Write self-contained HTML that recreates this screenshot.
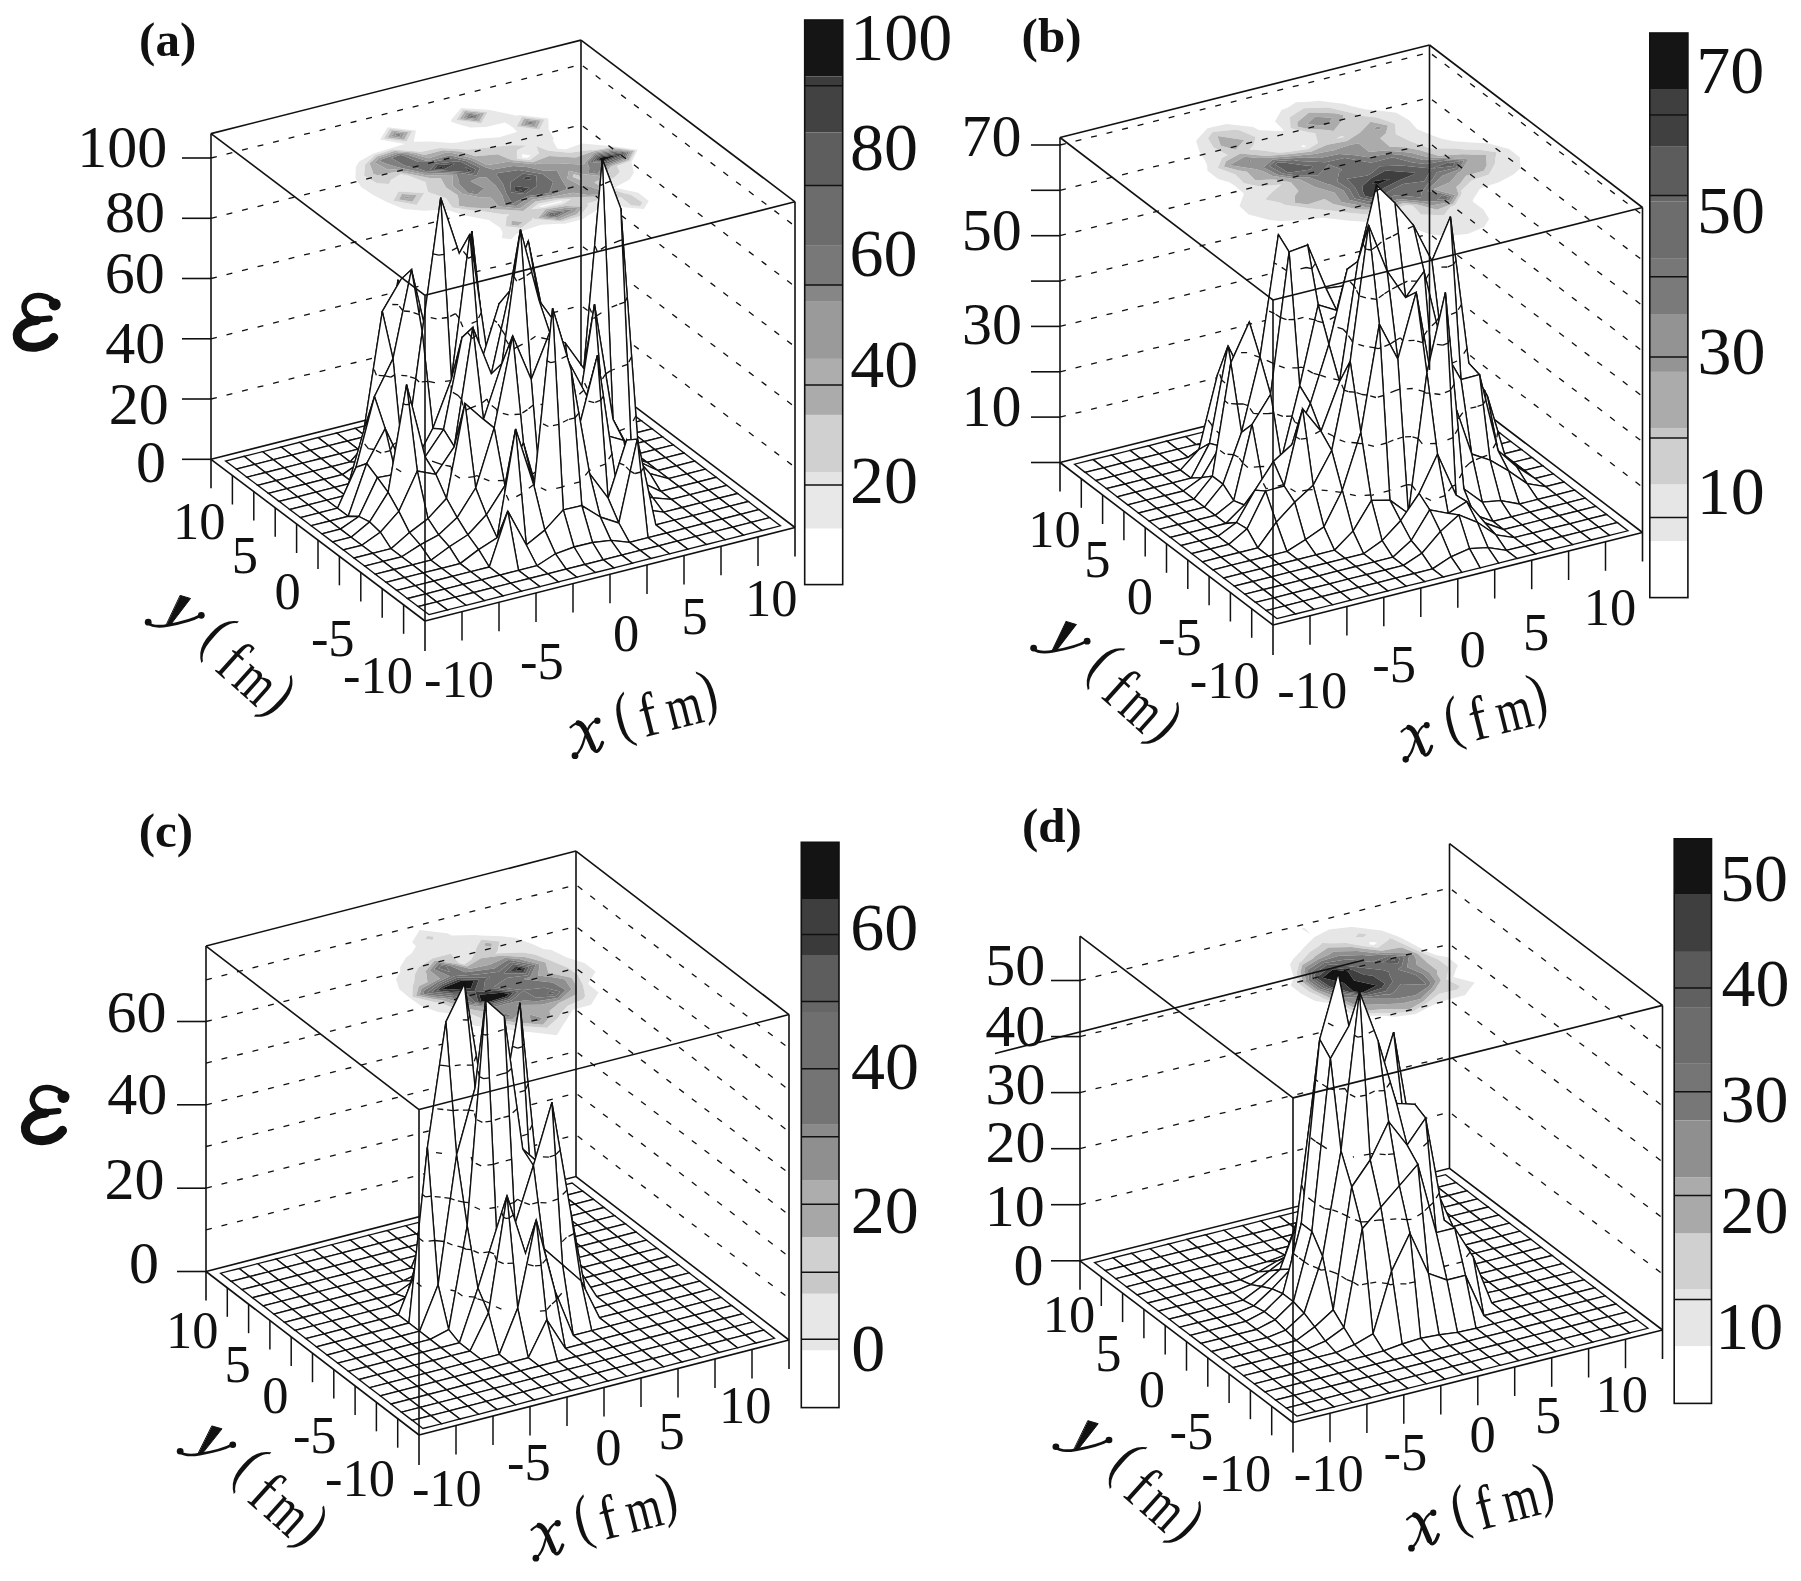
<!DOCTYPE html>
<html><head><meta charset="utf-8"><style>
html,body{margin:0;padding:0;background:#fff;}
svg{display:block;}
text{font-family:"Liberation Serif",serif;fill:#111;}
</style></head><body>
<svg width="1801" height="1581" viewBox="0 0 1801 1581">
<rect width="1801" height="1581" fill="#fff"/>
<!-- panel a -->
<g>
<rect x="804.7" y="20" width="38" height="56.4" fill="#151515"/>
<rect x="804.7" y="76.4" width="38" height="9.3" fill="#3c3c3c"/>
<rect x="804.7" y="85.7" width="38" height="46.7" fill="#424242"/>
<rect x="804.7" y="132.4" width="38" height="53" fill="#5e5e5e"/>
<rect x="804.7" y="185.4" width="38" height="60.4" fill="#6c6c6c"/>
<rect x="804.7" y="245.8" width="38" height="39.2" fill="#787878"/>
<rect x="804.7" y="285" width="38" height="16.8" fill="#868686"/>
<rect x="804.7" y="301.8" width="38" height="57.1" fill="#9a9a9a"/>
<rect x="804.7" y="358.9" width="38" height="26.1" fill="#adadad"/>
<rect x="804.7" y="385" width="38" height="29.9" fill="#ababab"/>
<rect x="804.7" y="414.9" width="38" height="57.1" fill="#d0d0d0"/>
<rect x="804.7" y="472" width="38" height="13" fill="#e4e4e4"/>
<rect x="804.7" y="485" width="38" height="43.7" fill="#e8e8e8"/>
<rect x="804.7" y="528.7" width="38" height="55.9" fill="#ffffff"/>
<line x1="804.7" y1="85.7" x2="842.7" y2="85.7" stroke="#111" stroke-width="1.5"/>
<line x1="804.7" y1="185.4" x2="842.7" y2="185.4" stroke="#111" stroke-width="1.5"/>
<line x1="804.7" y1="285" x2="842.7" y2="285" stroke="#111" stroke-width="1.5"/>
<line x1="804.7" y1="385" x2="842.7" y2="385" stroke="#111" stroke-width="1.5"/>
<line x1="804.7" y1="485" x2="842.7" y2="485" stroke="#111" stroke-width="1.5"/>
<rect x="804.7" y="20" width="38" height="564.6" fill="none" stroke="#111" stroke-width="1.6"/>
</g>
<g stroke="none">
<path fill="#e8e8e8" fill-rule="evenodd" d="M511.3 239.3L515.9 234.6L524.1 230.3L541.4 224.7L558.5 223.8L564.8 223.7L583.2 218.9L586 216.8L596.5 210.4L604.1 201.5L607.6 200.1L610.3 199.9L624.2 207.2L643.9 208.9L648.8 201L638.3 192.8L616.4 188.1L615.6 187.8L615.3 187.2L629.7 179.5L633.9 172.4L631.4 162.2L631.5 162.2L637.8 149.8L610.2 146L610 146L582 143.4L565.2 149.4L557.1 148.6L552.7 140L553.8 138.7L548.6 129.2L548.3 118.5L519.7 115L516.8 115.7L493.4 110.8L488 109.7L461.2 108.1L451.4 119.4L450.9 121.5L457.5 124L470.4 127.4L486.1 126.9L504.8 122.4L513 127.4L517.2 131.8L499.8 137.3L477.2 138.8L457.5 142.6L451.3 143L431.4 141.6L413.8 141.7L415.9 130.4L387.7 127.2L380.1 139.4L404.8 144L390.8 148.2L373.3 153.6L359.2 161.6L355.8 167.1L355.5 177.5L355.1 178.1L361.4 187.3L373.2 195.1L387.3 202.3L389.2 203L403.9 208.9L424.3 210.8L444.3 209.5L448.3 210.3L464 215.3L484.7 219.2L488.7 219.9L500.3 227.7L502.6 232.7L501.7 238.1ZM631.4 205.4L621 197.2L605.2 198.2L587.4 203.5L588.3 205.5L579.5 216.2L561.8 221.5L534.8 219L532.1 217.7L532.2 219.7L521.1 228L505.7 226.3L506.4 216.9L509.4 214.6L502.9 214.2L480.7 211.1L473.6 210.8L452.4 207.4L446.1 198.3L428 192L425.4 181.9L408 175.5L400.5 174.2L390.8 179.9L389 184.1L377.1 183.3L364.1 175.8L365 166L364.6 164.9L375.2 155.1L392.6 149.6L418.2 151.4L420.4 151.9L439.8 147.9L466.7 149.6L468.4 149.5L488.6 147.5L510.2 145.2L526.5 145.6L516.9 150.2L516.9 158.8L529.9 160L539.1 153.2L536.4 146.3L548.7 150.8L569.7 152.8L590.6 150L593.4 150.2L611.5 147.1L635.6 150.4L630.1 161.1L616.9 165.9L619.8 172L614.7 177.2L606.6 180.7L611.2 188.9L623.1 193.1L630.7 194.8L642.5 202.6L640.3 206.1ZM393.4 200.8L398.6 191.4L424.2 193L416.6 205ZM522.1 157.5L522.1 154.2L530.7 155.3L527.1 158ZM516.6 126.5L521.9 116.7L544.5 119.4L539.2 129.8ZM383.8 138.5L389.8 128.8L412.1 131.3L406.5 141.4ZM456.4 120.1L463.1 109.5L487.5 112.3L481.2 123.3ZM544 208L563.5 204.1L571.1 199L557.7 199.7L538.3 203.7L531.1 209.2ZM539.2 207.1L541 205.7L559.7 201.2L563.1 201.1L561.2 202.3L542.4 206.8Z"/>
<path fill="#d0d0d0" fill-rule="evenodd" d="M640.3 206.1L642.5 202.6L630.7 194.8L623.1 193.1L611.2 188.9L606.6 180.7L614.7 177.2L619.8 172L616.9 165.9L630.1 161.1L635.6 150.4L611.5 147.1L593.4 150.2L590.6 150L569.7 152.8L548.7 150.8L536.4 146.3L539.1 153.2L529.9 160L516.9 158.8L516.9 150.2L526.5 145.6L510.2 145.2L488.6 147.5L468.4 149.5L466.7 149.6L439.8 147.9L420.4 151.9L418.2 151.4L392.6 149.6L375.2 155.1L364.6 164.9L365 166L364.1 175.8L377.1 183.3L389 184.1L390.8 179.9L400.5 174.2L408 175.5L425.4 181.9L428 192L446.1 198.3L452.4 207.4L473.6 210.8L480.7 211.1L502.9 214.2L509.4 214.6L506.4 216.9L505.7 226.3L521.1 228L532.2 219.7L532.1 217.7L534.8 219L561.8 221.5L579.5 216.2L588.3 205.5L587.4 203.5L605.2 198.2L621 197.2L631.4 205.4ZM511.3 224.9L511.6 220.8L522.9 222L518 225.7ZM538.1 218.2L545.6 209.2L565.8 205.9L583 206.8L576.9 214.2L560.1 220.2ZM531.1 209.2L538.3 203.7L557.7 199.7L571.1 199L563.5 204.1L544 208ZM579.1 197L578.7 196.9L555.7 198.2L535.5 201.6L523.2 210.9L496.2 209.2L491.1 208.5L469.3 207.5L458.8 205.8L458.6 199.5L457.7 195.3L446.1 187.5L440.7 178L430.6 178.3L412.4 174.4L397.2 171.7L377.3 175.3L372.7 173.6L372.9 172L369.6 163.6L377.2 156.6L394.5 151L414.3 152.4L424.6 155.1L443 150.3L460.4 151.5L475.5 156.2L489.8 154.9L497.6 154.3L511.6 160.1L532.7 162.2L549.1 155.9L566.4 157.1L575.8 157.4L592.8 151.6L612.9 148.1L633.4 150.9L628.7 160.1L612 166.1L609.5 167.8L602.9 177.9L594.3 182.4L606.8 190L602.7 196.4ZM581.3 180.2L578.9 175.5L573.4 174.2L572.8 177ZM416.6 205L424.2 193L398.6 191.4L393.4 200.8ZM399 199.4L402 193.9L416.8 194.9L412.4 201.8ZM539.2 129.8L544.5 119.4L521.9 116.7L516.6 126.5ZM520.3 125.6L524.2 118.4L540.7 120.4L536.8 128ZM406.5 141.4L412.1 131.3L389.8 128.8L383.8 138.5ZM387.6 137.5L392 130.5L408.3 132.3L404.2 139.7ZM481.2 123.3L487.5 112.3L463.1 109.5L456.4 120.1ZM459.7 119.3L465 111L484.2 113.1L479.2 121.8Z"/>
<path fill="#acacac" fill-rule="evenodd" d="M518 225.7L522.9 222L511.6 220.8L511.3 224.9ZM560.1 220.2L576.9 214.2L583 206.8L565.8 205.9L545.6 209.2L538.1 218.2ZM541.3 217.3L547.2 210.4L568.1 207.6L577.8 208.1L574.4 212.3L558.4 218.9ZM602.7 196.4L606.8 190L594.3 182.4L602.9 177.9L609.5 167.8L612 166.1L628.7 160.1L633.4 150.9L612.9 148.1L592.8 151.6L575.8 157.4L566.4 157.1L549.1 155.9L532.7 162.2L511.6 160.1L497.6 154.3L489.8 154.9L475.5 156.2L460.4 151.5L443 150.3L424.6 155.1L414.3 152.4L394.5 151L377.2 156.6L369.6 163.6L372.9 172L372.7 173.6L377.3 175.3L397.2 171.7L412.4 174.4L430.6 178.3L440.7 178L446.1 187.5L457.7 195.3L458.6 199.5L458.8 205.8L469.3 207.5L491.1 208.5L496.2 209.2L523.2 210.9L535.5 201.6L555.7 198.2L578.7 196.9L579.1 197ZM587.5 194.9L573.2 192.7L553.7 196.6L532.8 199.5L519.9 208.4L498.7 206.6L490.9 197.7L480.9 197.6L462.6 194.1L452.5 185.8L452.4 176.1L452 175.2L451.1 175.1L426.9 175.5L416.7 173.3L394 169.2L388 169.8L374.5 162.4L379.2 158.1L396.3 152.3L410.4 153.3L428.8 158.2L446.1 152.6L453.8 153.2L474.5 158.7L487.2 165.1L497.7 163.6L507.4 161.7L535.4 164.2L541.9 163.3L558.9 163.3L580.1 164.4L584.7 164.1L584.3 163.3L594 152.5L614.3 149.2L631.2 151.5L627.3 159L610.7 165.2L604.8 169L600.3 175.9L583.8 174.3L568.9 170.8L567.3 178.4L581 185.8L589.4 186.3L602.5 191.1L600.3 194.6ZM572.8 177L573.4 174.2L578.9 175.5L581.3 180.2ZM412.4 201.8L416.8 194.9L402 193.9L399 199.4ZM404.4 198L405.3 196.5L409.5 196.7L408.2 198.7ZM536.8 128L540.7 120.4L524.2 118.4L520.3 125.6ZM523.9 124.7L526.4 120.1L537 121.3L534.5 126.2ZM404.2 139.7L408.3 132.3L392 130.5L387.6 137.5ZM391.3 136.6L394.1 132.1L404.6 133.2L401.9 138ZM479.2 121.8L484.2 113.1L465 111L459.7 119.3ZM462.9 118.5L466.8 112.4L480.9 113.9L477.3 120.3Z"/>
<path fill="#9a9a9a" fill-rule="evenodd" d="M558.4 218.9L574.4 212.3L577.8 208.1L568.1 207.6L547.2 210.4L541.3 217.3ZM544.7 216.5L548.8 211.6L570.5 209.4L572.5 209.5L571.8 210.3L556.7 217.6ZM600.3 194.6L602.5 191.1L589.4 186.3L581 185.8L567.3 178.4L568.9 170.8L583.8 174.3L600.3 175.9L604.8 169L610.7 165.2L627.3 159L631.2 151.5L614.3 149.2L594 152.5L584.3 163.3L584.7 164.1L580.1 164.4L558.9 163.3L541.9 163.3L535.4 164.2L507.4 161.7L497.7 163.6L487.2 165.1L474.5 158.7L453.8 153.2L446.1 152.6L428.8 158.2L410.4 153.3L396.3 152.3L379.2 158.1L374.5 162.4L388 169.8L394 169.2L416.7 173.3L426.9 175.5L451.1 175.1L452 175.2L452.4 176.1L452.5 185.8L462.6 194.1L480.9 197.6L490.9 197.7L498.7 206.6L519.9 208.4L532.8 199.5L553.7 196.6L573.2 192.7L587.5 194.9ZM596 192.7L596.3 191.5L598.1 192.2L597.8 192.7ZM505.2 204.9L502.1 195L502 194.9L495.8 185.7L486.2 177.3L479.1 177.6L470.6 181.3L484.4 188.6L476.9 194.6L467.6 192.8L459.1 184.2L459.1 181.1L456.1 174.1L449.2 173.7L423.2 172.7L421.1 172.2L397.8 167.3L387 164L379.5 161.1L381.2 159.6L398.1 153.8L406.4 154.3L425.2 160.4L431.5 160.3L449.4 155.2L470.1 159.8L484.5 167L492.9 169.4L513.2 166.1L526.8 167.1L544.1 170.7L556.8 170.3L561.7 179.8L566.7 187.8L566 189.5L551.6 195.1L536.9 196.9L530.2 197.6L526.2 199.6L516.5 205.9ZM588.8 173L589.3 167.6L587.1 162.6L595.3 153.5L615.7 150.2L628.9 152.1L625.9 158L609.4 164.2L600 170.2L597.6 173.9ZM408.2 198.7L409.5 196.7L405.3 196.5L404.4 198ZM534.5 126.2L537 121.3L526.4 120.1L523.9 124.7ZM527.6 123.7L528.6 121.8L533.2 122.3L532.1 124.4ZM401.9 138L404.6 133.2L394.1 132.1L391.3 136.6ZM395.1 135.6L396.3 133.7L400.8 134.2L399.6 136.2ZM477.3 120.3L480.9 113.9L466.8 112.4L462.9 118.5ZM466.2 117.7L468.7 113.8L477.6 114.8L475.3 118.8Z"/>
<path fill="#808080" fill-rule="evenodd" d="M556.7 217.6L571.8 210.3L572.5 209.5L570.5 209.4L548.8 211.6L544.7 216.5ZM547.9 215.7L550.3 212.8L564.9 211.4L555 216.3ZM597.8 192.7L598.1 192.2L596.3 191.5L596 192.7ZM516.5 205.9L526.2 199.6L530.2 197.6L536.9 196.9L551.6 195.1L566 189.5L566.7 187.8L561.7 179.8L556.8 170.3L544.1 170.7L526.8 167.1L513.2 166.1L492.9 169.4L484.5 167L470.1 159.8L449.4 155.2L431.5 160.3L425.2 160.4L406.4 154.3L398.1 153.8L381.2 159.6L379.5 161.1L387 164L397.8 167.3L421.1 172.2L423.2 172.7L449.2 173.7L456.1 174.1L459.1 181.1L459.1 184.2L467.6 192.8L476.9 194.6L484.4 188.6L470.6 181.3L479.1 177.6L486.2 177.3L495.8 185.7L502 194.9L502.1 195L505.2 204.9ZM511.7 203.3L511.3 201.9L506.4 193.8L503 183.9L496.5 174.7L497.8 173.1L508.7 171.6L518.6 170.1L542.5 173.9L553.1 182L549.2 193.3L527.9 195.9L514.6 202.5L513.2 203.4ZM472.5 191.6L471.7 190.7L473.5 191.3L473 191.7ZM460.1 173.1L447.3 172.3L425.4 171.1L417.8 168.6L404.5 165.6L391.3 158.1L400 155.1L402.6 155.3L418.5 162.1L433.5 161.8L453.2 158.1L465.8 160.9L480.2 168.1L476.4 175.6ZM597.6 173.9L600 170.2L609.4 164.2L625.9 158L628.9 152.1L615.7 150.2L595.3 153.5L587.1 162.6L589.3 167.6L588.8 173ZM593.7 171.7L593.8 171L595.2 171.4L594.9 171.9ZM589.9 161.9L596.6 154.5L617 151.3L626.8 152.6L624.6 156.9L608.1 163.2ZM532.1 124.4L533.2 122.3L528.6 121.8L527.6 123.7ZM399.6 136.2L400.8 134.2L396.3 133.7L395.1 135.6ZM475.3 118.8L477.6 114.8L468.7 113.8L466.2 117.7ZM469.5 116.8L470.5 115.2L474.4 115.6L473.4 117.3Z"/>
<path fill="#6c6c6c" fill-rule="evenodd" d="M555 216.3L564.9 211.4L550.3 212.8L547.9 215.7ZM551.4 214.8L552 214.1L555.7 213.7L553.2 215ZM513.2 203.4L514.6 202.5L527.9 195.9L549.2 193.3L553.1 182L542.5 173.9L518.6 170.1L508.7 171.6L497.8 173.1L496.5 174.7L503 183.9L506.4 193.8L511.3 201.9L511.7 203.3ZM511.1 192.6L510.4 182.6L511.4 181.8L522.9 173.4L536.2 175.5L536.9 184L536.6 186.2L525.4 194ZM594.9 171.9L595.2 171.4L593.8 171L593.7 171.7ZM473 191.7L473.5 191.3L471.7 190.7L472.5 191.6ZM608.1 163.2L624.6 156.9L626.8 152.6L617 151.3L596.6 154.5L589.9 161.9ZM592.9 161.2L597.9 155.5L618.5 152.4L624.4 153.2L623.1 155.8L606.7 162.1ZM476.4 175.6L480.2 168.1L465.8 160.9L453.2 158.1L433.5 161.8L418.5 162.1L402.6 155.3L400 155.1L391.3 158.1L404.5 165.6L417.8 168.6L425.4 171.1L447.3 172.3L460.1 173.1ZM464.5 172L445.3 170.7L430.1 169.9L435.7 163.5L457.4 161.2L461.2 162.1L475.7 169.2L473.5 173.4ZM473.4 117.3L474.4 115.6L470.5 115.2L469.5 116.8Z"/>
<path fill="#5e5e5e" fill-rule="evenodd" d="M553.2 215L555.7 213.7L552 214.1L551.4 214.8ZM525.4 194L536.6 186.2L536.9 184L536.2 175.5L522.9 173.4L511.4 181.8L510.4 182.6L511.1 192.6ZM515.2 191.6L514.8 186L529.5 188L523.3 192.3ZM523.1 178.8L526.6 176.2L530.7 176.9L530.9 179.5ZM606.7 162.1L623.1 155.8L624.4 153.2L618.5 152.4L597.9 155.5L592.9 161.2ZM595.4 160.5L599.1 156.4L619.8 153.4L622.4 153.7L621.8 154.8L605.5 161.2ZM473.5 173.4L475.7 169.2L461.2 162.1L457.4 161.2L435.7 163.5L430.1 169.9L445.3 170.7L464.5 172ZM468.2 171.1L464.9 166.9L471.7 170.2L471 171.5ZM434.2 168.9L437.6 164.9L454.8 163.7L443.5 169.4Z"/>
<path fill="#424242" fill-rule="evenodd" d="M523.3 192.3L529.5 188L514.8 186L515.2 191.6ZM519.6 190.5L519.5 189.5L522.1 189.9L521 190.6ZM530.9 179.5L530.7 176.9L526.6 176.2L523.1 178.8ZM605.5 161.2L621.8 154.8L622.4 153.7L619.8 153.4L599.1 156.4L595.4 160.5ZM598.2 159.8L600.4 157.4L617.8 154.9L604.2 160.2ZM471 171.5L471.7 170.2L464.9 166.9L468.2 171.1ZM443.5 169.4L454.8 163.7L437.6 164.9L434.2 168.9ZM438.5 167.8L439.7 166.5L445.4 166.1L441.6 168Z"/>
<path fill="#151515" fill-rule="evenodd" d="M521 190.6L522.1 189.9L519.5 189.5L519.6 190.5ZM604.2 160.2L617.8 154.9L600.4 157.4L598.2 159.8ZM441.6 168L445.4 166.1L439.7 166.5L438.5 167.8Z"/>
</g>
<g stroke="#111" stroke-width="1.3" stroke-dasharray="6,10" fill="none">
<polyline points="211,399 581,305.5 795,467.2"/>
<polyline points="211,338.8 581,245.3 795,407"/>
<polyline points="211,278.5 581,185 795,346.7"/>
<polyline points="211,218.3 581,124.8 795,286.5"/>
<polyline points="211,158 581,64.5 795,226.2"/>
</g>
<polyline fill="none" stroke="#111" stroke-width="1.6" points="211,459.3 581,365.8 795,527.5"/>
<g fill="#fff" stroke="#111" stroke-width="1.35" stroke-linejoin="miter">
<polygon points="569.3,384.9 587.8,380.3 577.1,372.2 558.6,376.9"/>
<polygon points="550.8,389.6 569.3,384.9 558.6,376.9 540.1,381.5"/>
<polygon points="580,393 598.5,388.3 587.8,380.3 569.3,384.9"/>
<polygon points="532.3,394.3 550.8,389.6 540.1,381.5 521.6,386.2"/>
<polygon points="561.5,397.7 580,393 569.3,384.9 550.8,389.6"/>
<polygon points="513.8,399 532.3,394.3 521.6,386.2 503.1,390.9"/>
<polygon points="590.7,401.1 609.2,396.4 598.5,388.3 580,393"/>
<polygon points="543,402.4 561.5,397.7 550.8,389.6 532.3,394.3"/>
<polygon points="495.3,403.6 513.8,399 503.1,390.9 484.6,395.6"/>
<polygon points="572.2,405.8 590.7,401.1 580,393 561.5,397.7"/>
<polygon points="524.5,407.1 543,402.4 532.3,394.3 513.8,399"/>
<polygon points="476.8,408.3 495.3,403.6 484.6,395.6 466.1,400.2"/>
<polygon points="601.4,409.2 619.9,404.5 609.2,396.4 590.7,401.1"/>
<polygon points="553.7,410.5 572.2,405.8 561.5,397.7 543,402.4"/>
<polygon points="506,411.7 524.5,407.1 513.8,399 495.3,403.6"/>
<polygon points="458.3,413 476.8,408.3 466.1,400.2 447.6,404.9"/>
<polygon points="582.9,413.9 601.4,409.2 590.7,401.1 572.2,405.8"/>
<polygon points="535.2,415.1 553.7,410.5 543,402.4 524.5,407.1"/>
<polygon points="487.5,416.4 506,411.7 495.3,403.6 476.8,408.3"/>
<polygon points="612.1,417.3 630.6,412.6 619.9,404.5 601.4,409.2"/>
<polygon points="439.8,417.7 458.3,413 447.6,404.9 429.1,409.6"/>
<polygon points="564.4,418.5 582.9,413.9 572.2,405.8 553.7,410.5"/>
<polygon points="516.7,419.8 535.2,415.1 524.5,407.1 506,411.7"/>
<polygon points="469,421.1 487.5,416.4 476.8,408.3 458.3,413"/>
<polygon points="593.6,422 612.1,417.3 601.4,409.2 582.9,413.9"/>
<polygon points="421.3,422.3 439.8,417.7 429.1,409.6 410.6,414.3"/>
<polygon points="545.9,423.2 564.4,418.5 553.7,410.5 535.2,415.1"/>
<polygon points="498.2,424.5 516.7,419.8 506,411.7 487.5,416.4"/>
<polygon points="622.8,425.4 641.3,420.7 630.6,412.6 612.1,417.3"/>
<polygon points="450.5,418.3 469,421.1 458.3,413 439.8,417.7"/>
<polygon points="575.1,426.6 593.6,422 582.9,413.9 564.4,418.5"/>
<polygon points="402.8,427 421.3,422.3 410.6,414.3 392.1,418.9"/>
<polygon points="527.4,427.9 545.9,423.2 535.2,415.1 516.7,419.8"/>
<polygon points="479.7,408.5 498.2,424.5 487.5,416.4 469,421.1"/>
<polygon points="604.3,430 622.8,425.4 612.1,417.3 593.6,422"/>
<polygon points="432,430.4 450.5,418.3 439.8,417.7 421.3,422.3"/>
<polygon points="556.6,431.3 575.1,426.6 564.4,418.5 545.9,423.2"/>
<polygon points="384.3,431.7 402.8,427 392.1,418.9 373.6,423.6"/>
<polygon points="508.9,418.6 527.4,427.9 516.7,419.8 498.2,424.5"/>
<polygon points="633.5,433.5 652,428.8 641.3,420.7 622.8,425.4"/>
<polygon points="461.2,399.7 479.7,408.5 469,421.1 450.5,418.3"/>
<polygon points="585.8,434.7 604.3,430 593.6,422 575.1,426.6"/>
<polygon points="413.5,435.1 432,430.4 421.3,422.3 402.8,427"/>
<polygon points="538.1,417.9 556.6,431.3 545.9,423.2 527.4,427.9"/>
<polygon points="365.8,436.4 384.3,431.7 373.6,423.6 355.1,428.3"/>
<polygon points="490.4,399 508.9,418.6 498.2,424.5 479.7,408.5"/>
<polygon points="615,438.1 633.5,433.5 622.8,425.4 604.3,430"/>
<polygon points="442.7,417.1 461.2,399.7 450.5,418.3 432,430.4"/>
<polygon points="567.3,430.9 585.8,434.7 575.1,426.6 556.6,431.3"/>
<polygon points="395,439.8 413.5,435.1 402.8,427 384.3,431.7"/>
<polygon points="519.6,407.3 538.1,417.9 527.4,427.9 508.9,418.6"/>
<polygon points="347.3,441 365.8,436.4 355.1,428.3 336.6,433"/>
<polygon points="644.2,441.5 662.7,436.9 652,428.8 633.5,433.5"/>
<polygon points="471.9,231 490.4,399 479.7,408.5 461.2,399.7"/>
<path fill="none" stroke-width="1.3" stroke-dasharray="6,10" d="M488 377.6L478.1 371.6M478.1 371.6L462.8 374.8M481.6 319L475.6 315.3M475.6 315.3L466.4 317.3M475.1 260.3L473.1 259.1M473.1 259.1L470.1 259.8"/>
<polygon points="596.5,442.8 615,438.1 604.3,430 585.8,434.7"/>
<polygon points="424.2,443.2 442.7,417.1 432,430.4 413.5,435.1"/>
<polygon points="548.8,413.6 567.3,430.9 556.6,431.3 538.1,417.9"/>
<polygon points="376.5,438.4 395,439.8 384.3,431.7 365.8,436.4"/>
<polygon points="501.1,405.6 519.6,407.3 508.9,418.6 490.4,399"/>
<polygon points="328.8,445.7 347.3,441 336.6,433 318.1,437.6"/>
<polygon points="625.7,446.2 644.2,441.5 633.5,433.5 615,438.1"/>
<polygon points="453.4,409.2 471.9,231 461.2,399.7 442.7,417.1"/>
<path fill="none" stroke-width="1.3" stroke-dasharray="6,10" d="M455.8 385.7L462.8 374.8M462.3 323.8L466.4 317.3M468.7 262L470.1 259.8"/>
<polygon points="578,439.3 596.5,442.8 585.8,434.7 567.3,430.9"/>
<polygon points="405.7,430.5 424.2,443.2 413.5,435.1 395,439.8"/>
<polygon points="530.3,268 548.8,413.6 538.1,417.9 519.6,407.3"/>
<path fill="none" stroke-width="1.3" stroke-dasharray="6,10" d="M545.1 384.7L536.1 379M536.1 379L521.6 381.9M537.7 326.3L533.2 323.5M533.2 323.5L525.9 324.9"/>
<polygon points="358,449.1 376.5,438.4 365.8,436.4 347.3,441"/>
<polygon points="654.9,449.6 673.4,444.9 662.7,436.9 644.2,441.5"/>
<polygon points="482.6,406.4 501.1,405.6 490.4,399 471.9,231"/>
<path fill="none" stroke-width="1.3" stroke-dasharray="6,10" d="M488 377.6L481.5 388.9M481.6 319L477.7 325.8M475.1 260.3L473.8 262.6"/>
<polygon points="310.3,450.4 328.8,445.7 318.1,437.6 299.6,442.3"/>
<polygon points="607.2,450.9 625.7,446.2 615,438.1 596.5,442.8"/>
<polygon points="434.9,436.2 453.4,409.2 442.7,417.1 424.2,443.2"/>
<polygon points="559.5,428.5 578,439.3 567.3,430.9 548.8,413.6"/>
<polygon points="387.2,425.4 405.7,430.5 395,439.8 376.5,438.4"/>
<polygon points="511.8,429.3 530.3,268 519.6,407.3 501.1,405.6"/>
<path fill="none" stroke-width="1.3" stroke-dasharray="6,10" d="M516.1 392.1L521.6 381.9M523.2 330L525.9 324.9"/>
<polygon points="339.5,453.8 358,449.1 347.3,441 328.8,445.7"/>
<polygon points="636.4,454.3 654.9,449.6 644.2,441.5 625.7,446.2"/>
<polygon points="464.1,425.1 482.6,406.4 471.9,231 453.4,409.2"/>
<path fill="none" stroke-width="1.3" stroke-dasharray="6,10" d="M481.5 388.9L465.4 392.3M465.4 392.3L455.8 385.7M477.7 325.8L468 327.8M468 327.8L462.3 323.8M473.8 262.6L470.6 263.3M470.6 263.3L468.7 262"/>
<polygon points="291.8,455.1 310.3,450.4 299.6,442.3 281.1,447"/>
<polygon points="588.7,447.2 607.2,450.9 596.5,442.8 578,439.3"/>
<polygon points="416.4,425.5 434.9,436.2 424.2,443.2 405.7,430.5"/>
<polygon points="541,415 559.5,428.5 548.8,413.6 530.3,268"/>
<path fill="none" stroke-width="1.3" stroke-dasharray="6,10" d="M545.1 384.7L539.6 395.5M537.7 326.3L534.9 331.7"/>
<polygon points="368.7,440.8 387.2,425.4 376.5,438.4 358,449.1"/>
<polygon points="665.6,457.7 684.1,453 673.4,444.9 654.9,449.6"/>
<polygon points="493.3,443 511.8,429.3 501.1,405.6 482.6,406.4"/>
<polygon points="321,458.5 339.5,453.8 328.8,445.7 310.3,450.4"/>
<polygon points="617.9,459 636.4,454.3 625.7,446.2 607.2,450.9"/>
<polygon points="445.6,441.3 464.1,425.1 453.4,409.2 434.9,436.2"/>
<polygon points="273.3,459.7 291.8,455.1 281.1,447 262.6,451.7"/>
<polygon points="570.2,441.8 588.7,447.2 578,439.3 559.5,428.5"/>
<polygon points="397.9,279.8 416.4,425.5 405.7,430.5 387.2,425.4"/>
<path fill="none" stroke-width="1.3" stroke-dasharray="6,10" d="M412.7 396.6L403.7 390.9M403.7 390.9L389.5 394M405.3 338.2L400.8 335.4M400.8 335.4L393.7 336.9"/>
<polygon points="522.5,417.2 541,415 530.3,268 511.8,429.3"/>
<path fill="none" stroke-width="1.3" stroke-dasharray="6,10" d="M539.6 395.5L523.4 399.8M523.4 399.8L516.1 392.1M534.9 331.7L526.9 333.9M526.9 333.9L523.2 330"/>
<polygon points="350.2,461.9 368.7,440.8 358,449.1 339.5,453.8"/>
<polygon points="647.1,462.4 665.6,457.7 654.9,449.6 636.4,454.3"/>
<polygon points="474.8,434.1 493.3,443 482.6,406.4 464.1,425.1"/>
<polygon points="302.5,463.2 321,458.5 310.3,450.4 291.8,455.1"/>
<polygon points="599.4,449.2 617.9,459 607.2,450.9 588.7,447.2"/>
<polygon points="427.1,436.9 445.6,441.3 434.9,436.2 416.4,425.5"/>
<polygon points="254.8,464.4 273.3,459.7 262.6,451.7 244.1,456.3"/>
<polygon points="551.7,428.6 570.2,441.8 559.5,428.5 541,415"/>
<polygon points="379.4,436.7 397.9,279.8 387.2,425.4 368.7,440.8"/>
<path fill="none" stroke-width="1.3" stroke-dasharray="6,10" d="M383.3 404.1L389.5 394M390.6 342L393.7 336.9"/>
<polygon points="676.3,465.8 694.8,461.1 684.1,453 665.6,457.7"/>
<polygon points="504,419.2 522.5,417.2 511.8,429.3 493.3,443"/>
<polygon points="331.7,466.6 350.2,461.9 339.5,453.8 321,458.5"/>
<polygon points="628.6,457 647.1,462.4 636.4,454.3 617.9,459"/>
<polygon points="456.3,437.1 474.8,434.1 464.1,425.1 445.6,441.3"/>
<polygon points="284,467.8 302.5,463.2 291.8,455.1 273.3,459.7"/>
<polygon points="580.9,437.9 599.4,449.2 588.7,447.2 570.2,441.8"/>
<polygon points="408.6,431.5 427.1,436.9 416.4,425.5 397.9,279.8"/>
<path fill="none" stroke-width="1.3" stroke-dasharray="6,10" d="M412.7 396.6L406.9 407.1M405.3 338.2L402.4 343.5"/>
<polygon points="236.3,469.1 254.8,464.4 244.1,456.3 225.6,461"/>
<polygon points="533.2,411.9 551.7,428.6 541,415 522.5,417.2"/>
<polygon points="360.9,462.1 379.4,436.7 368.7,440.8 350.2,461.9"/>
<polygon points="657.8,470.5 676.3,465.8 665.6,457.7 647.1,462.4"/>
<polygon points="485.5,416.5 504,419.2 493.3,443 474.8,434.1"/>
<polygon points="313.2,471.2 331.7,466.6 321,458.5 302.5,463.2"/>
<polygon points="610.1,437.3 628.6,457 617.9,459 599.4,449.2"/>
<polygon points="437.8,426.9 456.3,437.1 445.6,441.3 427.1,436.9"/>
<polygon points="265.5,472.5 284,467.8 273.3,459.7 254.8,464.4"/>
<polygon points="562.4,457.9 580.9,437.9 570.2,441.8 551.7,428.6"/>
<polygon points="390.1,449.9 408.6,431.5 397.9,279.8 379.4,436.7"/>
<path fill="none" stroke-width="1.3" stroke-dasharray="6,10" d="M406.9 407.1L391.9 410.1M391.9 410.1L383.3 404.1M402.4 343.5L394.9 345M394.9 345L390.6 342"/>
<polygon points="687,473.9 705.5,469.2 694.8,461.1 676.3,465.8"/>
<polygon points="514.7,396.2 533.2,411.9 522.5,417.2 504,419.2"/>
<path fill="none" stroke-width="1.3" stroke-dasharray="6,10" d="M530.9 409.9L518.8 407.3M518.8 407.3L508.6 409.4"/>
<polygon points="342.4,474.6 360.9,462.1 350.2,461.9 331.7,466.6"/>
<polygon points="639.3,461.8 657.8,470.5 647.1,462.4 628.6,457"/>
<polygon points="467,409.5 485.5,416.5 474.8,434.1 456.3,437.1"/>
<path fill="none" stroke-width="1.3" stroke-dasharray="6,10" d="M476.1 413L468.2 413.3M468.2 413.3L465.3 414"/>
<polygon points="294.7,475.9 313.2,471.2 302.5,463.2 284,467.8"/>
<polygon points="591.6,407.9 610.1,437.3 599.4,449.2 580.9,437.9"/>
<path fill="none" stroke-width="1.3" stroke-dasharray="6,10" d="M596.1 415L592.8 414.2M592.8 414.2L589.3 414.4"/>
<polygon points="419.3,420 437.8,426.9 427.1,436.9 408.6,431.5"/>
<polygon points="247,477.2 265.5,472.5 254.8,464.4 236.3,469.1"/>
<polygon points="543.9,395.1 562.4,457.9 551.7,428.6 533.2,411.9"/>
<path fill="none" stroke-width="1.3" stroke-dasharray="6,10" d="M550 415.9L547.7 411.3M547.7 411.3L534.3 410.2"/>
<polygon points="371.6,469.7 390.1,449.9 379.4,436.7 360.9,462.1"/>
<polygon points="668.5,478.6 687,473.9 676.3,465.8 657.8,470.5"/>
<polygon points="496.2,387.1 514.7,396.2 504,419.2 485.5,416.5"/>
<path fill="none" stroke-width="1.3" stroke-dasharray="6,10" d="M508.6 409.4L501.7 409.7M501.7 409.7L487.2 411.9"/>
<polygon points="323.9,479.3 342.4,474.6 331.7,466.6 313.2,471.2"/>
<polygon points="620.8,208.6 639.3,461.8 628.6,457 610.1,437.3"/>
<path fill="none" stroke-width="1.3" stroke-dasharray="6,10" d="M635.9 415.7L627.1 409.2M627.1 409.2L611.3 412.4M631.6 356.6L625.3 351.9M625.3 351.9L614 354.1M627.3 297.4L623.5 294.6M623.5 294.6L616.7 295.9M621.7 237.3L619.4 237.7"/>
<polygon points="448.5,329.6 467,409.5 456.3,437.1 437.8,426.9"/>
<path fill="none" stroke-width="1.3" stroke-dasharray="6,10" d="M465.3 414L454.4 410.4M454.4 410.4L439.3 413M455.1 358L450.5 356.5M450.5 356.5L445.4 357.4"/>
<polygon points="276.2,480.6 294.7,475.9 284,467.8 265.5,472.5"/>
<polygon points="573.1,393.1 591.6,407.9 580.9,437.9 562.4,457.9"/>
<path fill="none" stroke-width="1.3" stroke-dasharray="6,10" d="M589.3 414.4L576.9 414.7M576.9 414.7L569 417.7"/>
<polygon points="400.8,279.6 419.3,420 408.6,431.5 390.1,449.9"/>
<path fill="none" stroke-width="1.3" stroke-dasharray="6,10" d="M418.9 416.6L407.5 410.2M407.5 410.2L392.3 414.8M411.2 358.3L404.7 354.6M404.7 354.6L395.9 357.3M403.5 300L401.8 299.1M401.8 299.1L399.5 299.7"/>
<polygon points="697.7,482 716.2,477.3 705.5,469.2 687,473.9"/>
<polygon points="525.4,467.3 543.9,395.1 533.2,411.9 514.7,396.2"/>
<path fill="none" stroke-width="1.3" stroke-dasharray="6,10" d="M537.8 419L534.3 410.2M530.9 409.9L517.7 416.3"/>
<polygon points="353.1,482.7 371.6,469.7 360.9,462.1 342.4,474.6"/>
<polygon points="650,473.6 668.5,478.6 657.8,470.5 639.3,461.8"/>
<polygon points="477.7,379.5 496.2,387.1 485.5,416.5 467,409.5"/>
<path fill="none" stroke-width="1.3" stroke-dasharray="6,10" d="M487.2 411.9L484.6 412.1M484.6 412.1L476.1 413"/>
<polygon points="305.4,484 323.9,479.3 313.2,471.2 294.7,475.9"/>
<polygon points="602.3,159.1 620.8,208.6 610.1,437.3 591.6,407.9"/>
<path fill="none" stroke-width="1.3" stroke-dasharray="6,10" d="M609.4 412.6L596.1 415M614 354.1L607.8 355M607.8 355L593.8 357.5M616.7 295.9L606.2 297.4M606.2 297.4L596.3 299.2M619.4 237.7L604.6 239.8M604.6 239.8L598.8 240.8M610.5 181.1L602.9 182.1"/>
<polygon points="430,349.3 448.5,329.6 437.8,426.9 419.3,420"/>
<path fill="none" stroke-width="1.3" stroke-dasharray="6,10" d="M439.3 413L436.5 414M436.5 414L419.8 416.9M445.4 357.4L431.3 362.2M431.3 362.2L428 362.8"/>
<polygon points="257.7,485.3 276.2,480.6 265.5,472.5 247,477.2"/>
<polygon points="554.6,375.4 573.1,393.1 562.4,457.9 543.9,395.1"/>
<path fill="none" stroke-width="1.3" stroke-dasharray="6,10" d="M569 417.7L558.7 418.8M558.7 418.8L550 415.9"/>
<polygon points="382.3,311.4 400.8,279.6 390.1,449.9 371.6,469.7"/>
<path fill="none" stroke-width="1.3" stroke-dasharray="6,10" d="M392.3 414.8L388.2 416.2M388.2 416.2L374.9 420.3M395.9 357.3L385.1 361M385.1 361L378.8 363M386.4 304.3L399.5 299.7"/>
<polygon points="679.2,486.6 697.7,482 687,473.9 668.5,478.6"/>
<polygon points="506.9,363.2 525.4,467.3 514.7,396.2 496.2,387.1"/>
<path fill="none" stroke-width="1.3" stroke-dasharray="6,10" d="M517.7 424L517.7 416.3"/>
<polygon points="334.6,487.4 353.1,482.7 342.4,474.6 323.9,479.3"/>
<polygon points="631.5,453.8 650,473.6 639.3,461.8 620.8,208.6"/>
<path fill="none" stroke-width="1.3" stroke-dasharray="6,10" d="M635.9 415.7L630.3 426.7M631.6 356.6L627.6 364.4M627.3 297.4L624.9 302.1"/>
<polygon points="459.2,253.3 477.7,379.5 467,409.5 448.5,329.6"/>
<path fill="none" stroke-width="1.3" stroke-dasharray="6,10" d="M475.4 363.7L464.5 359.1M464.5 359.1L455.1 358M466.9 305.6L461.7 303.4M461.7 303.4L452.3 302.3"/>
<polygon points="286.9,488.7 305.4,484 294.7,475.9 276.2,480.6"/>
<polygon points="583.8,368.6 602.3,159.1 591.6,407.9 573.1,393.1"/>
<path fill="none" stroke-width="1.3" stroke-dasharray="6,10" d="M589.2 307L596.3 299.2M594.7 245.4L598.8 240.8"/>
<polygon points="411.5,269.6 430,349.3 419.3,420 400.8,279.6"/>
<path fill="none" stroke-width="1.3" stroke-dasharray="6,10" d="M428 362.8L416.3 361.3M416.3 361.3L411.2 358.3M420.1 306.6L413.4 305.7M413.4 305.7L403.5 300"/>
<polygon points="708.4,490 726.9,485.4 716.2,477.3 697.7,482"/>
<polygon points="536.1,356.5 554.6,375.4 543.9,395.1 525.4,467.3"/>
<path fill="none" stroke-width="1.3" stroke-dasharray="6,10" d="M537.8 419L529.5 425.2M546.6 367.3L538.1 366.6M538.1 366.6L534.9 369"/>
<polygon points="363.8,430.6 382.3,311.4 371.6,469.7 353.1,482.7"/>
<path fill="none" stroke-width="1.3" stroke-dasharray="6,10" d="M373.5 367.8L378.8 363"/>
<polygon points="660.7,491.3 679.2,486.6 668.5,478.6 650,473.6"/>
<polygon points="488.4,362.4 506.9,363.2 496.2,387.1 477.7,379.5"/>
<path fill="none" stroke-width="1.3" stroke-dasharray="6,10" d="M505.8 365.7L490.2 368.2M490.2 368.2L484.7 368.4"/>
<polygon points="316.1,492.1 334.6,487.4 323.9,479.3 305.4,484"/>
<polygon points="613,419.2 631.5,453.8 620.8,208.6 602.3,159.1"/>
<path fill="none" stroke-width="1.3" stroke-dasharray="6,10" d="M619.2 430.8L630.3 426.7M627.6 364.4L614.9 369M614.9 369L611 370.5M624.9 302.1L617.2 304.9M617.2 304.9L608.4 308.3M622.2 239.8L619.6 240.7M619.6 240.7L605.9 246.2M610.5 181.1L603.3 184"/>
<polygon points="440.7,197.7 459.2,253.3 448.5,329.6 430,349.3"/>
<path fill="none" stroke-width="1.3" stroke-dasharray="6,10" d="M452.3 302.3L446.9 302.1M446.9 302.1L433 306.4M457.3 247.7L443.6 247.1M443.6 247.1L437.1 249.2"/>
<polygon points="268.4,493.3 286.9,488.7 276.2,480.6 257.7,485.3"/>
<polygon points="565.3,343.2 583.8,368.6 573.1,393.1 554.6,375.4"/>
<path fill="none" stroke-width="1.3" stroke-dasharray="6,10" d="M569.1 367.2L557.3 367.3"/>
<polygon points="393,358.6 411.5,269.6 400.8,279.6 382.3,311.4"/>
<path fill="none" stroke-width="1.3" stroke-dasharray="6,10" d="M402.9 310.9L398.3 304.7M398.3 304.7L386.4 304.3"/>
<polygon points="689.9,494.7 708.4,490 697.7,482 679.2,486.6"/>
<polygon points="517.6,314.3 536.1,356.5 525.4,467.3 506.9,363.2"/>
<path fill="none" stroke-width="1.3" stroke-dasharray="6,10" d="M529.5 425.2L523.3 425.6M523.3 425.6L517.7 424M534.9 369L520.4 369.9M520.4 369.9L507.5 366.4"/>
<polygon points="345.3,495.5 363.8,430.6 353.1,482.7 334.6,487.4"/>
<polygon points="642.2,482.7 660.7,491.3 650,473.6 631.5,453.8"/>
<polygon points="469.9,234.2 488.4,362.4 477.7,379.5 459.2,253.3"/>
<path fill="none" stroke-width="1.3" stroke-dasharray="6,10" d="M484.7 368.4L476.9 364.4M481.2 312.7L473.9 309M473.9 309L466.9 305.6M472.8 254.6L470.9 253.6M470.9 253.6L461.6 249"/>
<polygon points="297.6,496.8 316.1,492.1 305.4,484 286.9,488.7"/>
<polygon points="594.5,304.4 613,419.2 602.3,159.1 583.8,368.6"/>
<path fill="none" stroke-width="1.3" stroke-dasharray="6,10" d="M605.7 373.9L611 370.5M596.4 316L608.4 308.3M589.2 307L592.7 315.1M605.9 246.2L597.3 251.6M597.3 251.6L594.7 245.4M603.3 184L600.9 185.5M600.9 185.5L600.1 183.7"/>
<polygon points="422.2,331.9 440.7,197.7 430,349.3 411.5,269.6"/>
<path fill="none" stroke-width="1.3" stroke-dasharray="6,10" d="M424.4 316.3L433 306.4M420.1 306.6L419.2 314.6M433 253.9L437.1 249.2"/>
<polygon points="719.1,498.1 737.6,493.5 726.9,485.4 708.4,490"/>
<polygon points="546.8,332.8 565.3,343.2 554.6,375.4 536.1,356.5"/>
<path fill="none" stroke-width="1.3" stroke-dasharray="6,10" d="M557.3 367.3L553.2 367.6M553.2 367.6L546.6 367.3"/>
<polygon points="374.5,396.5 393,358.6 382.3,311.4 363.8,430.6"/>
<path fill="none" stroke-width="1.3" stroke-dasharray="6,10" d="M384.6 375.8L376.4 375.2M376.4 375.2L373.5 367.8"/>
<polygon points="671.4,499.4 689.9,494.7 679.2,486.6 660.7,491.3"/>
<polygon points="499.1,303.9 517.6,314.3 506.9,363.2 488.4,362.4"/>
<path fill="none" stroke-width="1.3" stroke-dasharray="6,10" d="M500.7 316.3L496.7 317.2"/>
<polygon points="326.8,500.2 345.3,495.5 334.6,487.4 316.1,492.1"/>
<polygon points="623.7,440.4 642.2,482.7 631.5,453.8 613,419.2"/>
<polygon points="451.4,379.2 469.9,234.2 459.2,253.3 440.7,197.7"/>
<path fill="none" stroke-width="1.3" stroke-dasharray="6,10" d="M459.2 318.3L455.5 313.6M455.5 313.6L447.8 317.5M467.1 256L461.6 249M457.3 247.7L444 254.4"/>
<polygon points="279.1,501.4 297.6,496.8 286.9,488.7 268.4,493.3"/>
<polygon points="576,423.6 594.5,304.4 583.8,368.6 565.3,343.2"/>
<polygon points="403.7,467.8 422.2,331.9 411.5,269.6 393,358.6"/>
<path fill="none" stroke-width="1.3" stroke-dasharray="6,10" d="M407.3 441.1L404.8 440.3M404.8 440.3L401 440M415.8 378.7L407.3 375.9M407.3 375.9L394.6 374.9M419.2 314.6L409.9 311.5M409.9 311.5L402.9 310.9"/>
<polygon points="700.6,502.8 719.1,498.1 708.4,490 689.9,494.7"/>
<polygon points="528.3,241.1 546.8,332.8 536.1,356.5 517.6,314.3"/>
<path fill="none" stroke-width="1.3" stroke-dasharray="6,10" d="M543.9 318.5L533.3 314.3M532.3 261.1L529.6 260.1M529.6 260.1L525.5 260.1"/>
<polygon points="356,467.4 374.5,396.5 363.8,430.6 345.3,495.5"/>
<polygon points="652.9,497.8 671.4,499.4 660.7,491.3 642.2,482.7"/>
<polygon points="480.6,363.5 499.1,303.9 488.4,362.4 469.9,234.2"/>
<path fill="none" stroke-width="1.3" stroke-dasharray="6,10" d="M494 320.3L496.7 317.2M481.2 312.7L477.1 321M472.8 254.6L471.8 256.7"/>
<polygon points="308.3,504.8 326.8,500.2 316.1,492.1 297.6,496.8"/>
<polygon points="605.2,435.2 623.7,440.4 613,419.2 594.5,304.4"/>
<path fill="none" stroke-width="1.3" stroke-dasharray="6,10" d="M605.7 373.9L600.8 381.5"/>
<polygon points="432.9,428.3 451.4,379.2 440.7,197.7 422.2,331.9"/>
<path fill="none" stroke-width="1.3" stroke-dasharray="6,10" d="M450.9 380.7L434.4 382.7M434.4 382.7L427.7 381.3M447.8 317.5L436.6 318.9M436.6 318.9L424.4 316.3M444 254.4L438.8 255.1M438.8 255.1L433 253.9"/>
<polygon points="729.8,506.2 748.3,501.5 737.6,493.5 719.1,498.1"/>
<polygon points="557.5,325.8 576,423.6 565.3,343.2 546.8,332.8"/>
<path fill="none" stroke-width="1.3" stroke-dasharray="6,10" d="M568.4 383.3L569.8 376.7"/>
<polygon points="385.2,428.6 403.7,467.8 393,358.6 374.5,396.5"/>
<path fill="none" stroke-width="1.3" stroke-dasharray="6,10" d="M392.8 444.8L401 440M394.6 374.9L390.9 377.1M390.9 377.1L384.6 375.8"/>
<polygon points="682.1,507.5 700.6,502.8 689.9,494.7 671.4,499.4"/>
<polygon points="509.8,290.9 528.3,241.1 517.6,314.3 499.1,303.9"/>
<path fill="none" stroke-width="1.3" stroke-dasharray="6,10" d="M519.7 264.3L525.5 260.1"/>
<polygon points="337.5,508.2 356,467.4 345.3,495.5 326.8,500.2"/>
<polygon points="634.4,494.7 652.9,497.8 642.2,482.7 623.7,440.4"/>
<polygon points="462.1,337.4 480.6,363.5 469.9,234.2 451.4,379.2"/>
<path fill="none" stroke-width="1.3" stroke-dasharray="6,10" d="M477.1 321L462.9 327.1M462.9 327.1L459.2 318.3M471.8 256.7L468.1 258.3M468.1 258.3L467.1 256"/>
<polygon points="289.8,509.5 308.3,504.8 297.6,496.8 279.1,501.4"/>
<polygon points="586.7,395.7 605.2,435.2 594.5,304.4 576,423.6"/>
<path fill="none" stroke-width="1.3" stroke-dasharray="6,10" d="M600.8 381.5L587.3 388.5M587.3 388.5L582.8 379.7M595.6 317.3L593.3 318.4"/>
<polygon points="414.4,463.2 432.9,428.3 422.2,331.9 403.7,467.8"/>
<path fill="none" stroke-width="1.3" stroke-dasharray="6,10" d="M422.4 448.1L415.3 448.7M415.3 448.7L407.3 441.1M427.7 381.3L419.2 382M419.2 382L415.8 378.7"/>
<polygon points="711.3,510.9 729.8,506.2 719.1,498.1 700.6,502.8"/>
<polygon points="539,300.4 557.5,325.8 546.8,332.8 528.3,241.1"/>
<path fill="none" stroke-width="1.3" stroke-dasharray="6,10" d="M544.2 322L543.9 318.5M532.3 261.1L532.7 265.5"/>
<polygon points="366.7,463.5 385.2,428.6 374.5,396.5 356,467.4"/>
<path fill="none" stroke-width="1.3" stroke-dasharray="6,10" d="M374.1 449.5L368.4 448.6M368.4 448.6L362.7 441.6"/>
<polygon points="663.6,512.2 682.1,507.5 671.4,499.4 652.9,497.8"/>
<polygon points="491.3,373.9 509.8,290.9 499.1,303.9 480.6,363.5"/>
<path fill="none" stroke-width="1.3" stroke-dasharray="6,10" d="M501.3 329.2L497 322.4M497 322.4L494 320.3"/>
<polygon points="319,512.9 337.5,508.2 326.8,500.2 308.3,504.8"/>
<polygon points="615.9,481.3 634.4,494.7 623.7,440.4 605.2,435.2"/>
<polygon points="443.6,429.4 462.1,337.4 451.4,379.2 432.9,428.3"/>
<path fill="none" stroke-width="1.3" stroke-dasharray="6,10" d="M451.3 391.4L451.1 381"/>
<polygon points="740.5,514.3 759,509.6 748.3,501.5 729.8,506.2"/>
<polygon points="568.2,361 586.7,395.7 576,423.6 557.5,325.8"/>
<path fill="none" stroke-width="1.3" stroke-dasharray="6,10" d="M583.8 390.2L571.6 388.6M571.6 388.6L568.4 383.3"/>
<polygon points="395.9,474.2 414.4,463.2 403.7,467.8 385.2,428.6"/>
<path fill="none" stroke-width="1.3" stroke-dasharray="6,10" d="M392.8 444.8L390.4 450.6"/>
<polygon points="692.8,515.6 711.3,510.9 700.6,502.8 682.1,507.5"/>
<polygon points="520.5,229.7 539,300.4 528.3,241.1 509.8,290.9"/>
<path fill="none" stroke-width="1.3" stroke-dasharray="6,10" d="M531.6 272.1L532.7 265.5M519.7 264.3L513.5 269.6"/>
<polygon points="348.2,516.3 366.7,463.5 356,467.4 337.5,508.2"/>
<polygon points="645.1,509.7 663.6,512.2 652.9,497.8 634.4,494.7"/>
<polygon points="472.8,327.4 491.3,373.9 480.6,363.5 462.1,337.4"/>
<path fill="none" stroke-width="1.3" stroke-dasharray="6,10" d="M476.1 335.6L474.2 334.1M474.2 334.1L467.4 332.4"/>
<polygon points="300.5,517.6 319,512.9 308.3,504.8 289.8,509.5"/>
<polygon points="597.4,355.4 615.9,481.3 605.2,435.2 586.7,395.7"/>
<path fill="none" stroke-width="1.3" stroke-dasharray="6,10" d="M611.9 454.2L608 447.2M603.4 396.1L601 391.8M601 391.8L588.1 390.5"/>
<polygon points="425.1,456.9 443.6,429.4 432.9,428.3 414.4,463.2"/>
<path fill="none" stroke-width="1.3" stroke-dasharray="6,10" d="M422.4 448.1L424.1 457.5"/>
<polygon points="722,519 740.5,514.3 729.8,506.2 711.3,510.9"/>
<polygon points="549.7,332.6 568.2,361 557.5,325.8 539,300.4"/>
<polygon points="377.4,477.6 395.9,474.2 385.2,428.6 366.7,463.5"/>
<path fill="none" stroke-width="1.3" stroke-dasharray="6,10" d="M390.4 450.6L381.3 453.1M381.3 453.1L374.1 449.5"/>
<polygon points="674.3,520.2 692.8,515.6 682.1,507.5 663.6,512.2"/>
<polygon points="502,363.4 520.5,229.7 509.8,290.9 491.3,373.9"/>
<path fill="none" stroke-width="1.3" stroke-dasharray="6,10" d="M505.4 339L505.1 334.8M505.1 334.8L501.3 329.2M514 276.5L513.5 269.6"/>
<polygon points="329.7,521 348.2,516.3 337.5,508.2 319,512.9"/>
<polygon points="626.6,440.2 645.1,509.7 634.4,494.7 615.9,481.3"/>
<path fill="none" stroke-width="1.3" stroke-dasharray="6,10" d="M631.9 459.9L629 457.2M629 457.2L622 457.8"/>
<polygon points="454.3,446.6 472.8,327.4 462.1,337.4 443.6,429.4"/>
<path fill="none" stroke-width="1.3" stroke-dasharray="6,10" d="M461.6 399.5L458 395.4M458 395.4L451.3 391.4M471.3 336.8L467.4 332.4"/>
<polygon points="751.2,522.4 769.7,517.7 759,509.6 740.5,514.3"/>
<polygon points="578.9,427.5 597.4,355.4 586.7,395.7 568.2,361"/>
<path fill="none" stroke-width="1.3" stroke-dasharray="6,10" d="M585.8 400.5L588.1 390.5M583.8 390.2L574.3 398.8"/>
<polygon points="406.6,384.6 425.1,456.9 414.4,463.2 395.9,474.2"/>
<path fill="none" stroke-width="1.3" stroke-dasharray="6,10" d="M424.1 457.5L413.3 452M413.3 452L398 456.4M410.9 401.5L408.1 400.1M408.1 400.1L404.6 401.1"/>
<polygon points="703.5,523.6 722,519 711.3,510.9 692.8,515.6"/>
<polygon points="531.2,379.4 549.7,332.6 539,300.4 520.5,229.7"/>
<path fill="none" stroke-width="1.3" stroke-dasharray="6,10" d="M547.1 339.2L535.5 336.3M535.5 336.3L528.5 341.2M531.6 272.1L523.9 277.5"/>
<polygon points="358.9,516.5 377.4,477.6 366.7,463.5 348.2,516.3"/>
<polygon points="655.8,524.9 674.3,520.2 663.6,512.2 645.1,509.7"/>
<polygon points="483.5,419.4 502,363.4 491.3,373.9 472.8,327.4"/>
<path fill="none" stroke-width="1.3" stroke-dasharray="6,10" d="M488.8 403.4L487 399.1M487 399.1L481.6 403.4M476.1 335.6L474 337.3"/>
<polygon points="311.2,525.7 329.7,521 319,512.9 300.5,517.6"/>
<polygon points="608.1,498.2 626.6,440.2 615.9,481.3 597.4,355.4"/>
<path fill="none" stroke-width="1.3" stroke-dasharray="6,10" d="M619.3 463.1L622 457.8M611.9 454.2L605.5 464M603.4 396.1L600.8 400.1"/>
<polygon points="435.8,474.3 454.3,446.6 443.6,429.4 425.1,456.9"/>
<path fill="none" stroke-width="1.3" stroke-dasharray="6,10" d="M442.2 464.7L437.7 463.1M437.7 463.1L426.6 459.3"/>
<polygon points="732.7,527.1 751.2,522.4 740.5,514.3 722,519"/>
<polygon points="560.4,503.3 578.9,427.5 568.2,361 549.7,332.6"/>
<path fill="none" stroke-width="1.3" stroke-dasharray="6,10" d="M569.8 464.8L562.6 463.6M562.6 463.6L558 465.4M574.3 398.8L566.2 397.4M566.2 397.4L554.1 402.1M553.1 337.7L550.1 338.9"/>
<polygon points="388.1,492.4 406.6,384.6 395.9,474.2 377.4,477.6"/>
<path fill="none" stroke-width="1.3" stroke-dasharray="6,10" d="M392.5 466.4L398 456.4M403.4 403.5L404.6 401.1"/>
<polygon points="685,528.3 703.5,523.6 692.8,515.6 674.3,520.2"/>
<polygon points="512.7,335.9 531.2,379.4 520.5,229.7 502,363.4"/>
<path fill="none" stroke-width="1.3" stroke-dasharray="6,10" d="M517.3 346.8L528.5 341.2M505.4 339L509.1 345.2M523.9 277.5L516.7 281.1M516.7 281.1L514 276.5"/>
<polygon points="340.4,529.1 358.9,516.5 348.2,516.3 329.7,521"/>
<polygon points="637.3,439.2 655.8,524.9 645.1,509.7 626.6,440.2"/>
<path fill="none" stroke-width="1.3" stroke-dasharray="6,10" d="M643.5 467.8L640.1 464.7M640.1 464.7L631.9 459.9"/>
<polygon points="465,403.4 483.5,419.4 472.8,327.4 454.3,446.6"/>
<path fill="none" stroke-width="1.3" stroke-dasharray="6,10" d="M470.4 408.1L481.6 403.4M461.6 399.5L463.7 408.5M474 337.3L471.7 338.3"/>
<polygon points="761.9,530.5 780.4,525.8 769.7,517.7 751.2,522.4"/>
<polygon points="589.6,473.6 608.1,498.2 597.4,355.4 578.9,427.5"/>
<path fill="none" stroke-width="1.3" stroke-dasharray="6,10" d="M605.5 464L589.8 470.2M600.8 400.1L594.3 402.7M594.3 402.7L585.8 400.5"/>
<polygon points="417.3,471 435.8,474.3 425.1,456.9 406.6,384.6"/>
<path fill="none" stroke-width="1.3" stroke-dasharray="6,10" d="M410.9 401.5L409.1 404.5"/>
<polygon points="714.2,531.7 732.7,527.1 722,519 703.5,523.6"/>
<polygon points="541.9,508 560.4,503.3 549.7,332.6 531.2,379.4"/>
<path fill="none" stroke-width="1.3" stroke-dasharray="6,10" d="M558 465.4L543.6 469M543.6 469L538.7 469.4M554.1 402.1L546.5 404M546.5 404L533.3 405.1M549.4 339.1L547.1 339.2"/>
<polygon points="369.6,521.9 388.1,492.4 377.4,477.6 358.9,516.5"/>
<polygon points="666.5,533 685,528.3 674.3,520.2 655.8,524.9"/>
<polygon points="494.2,427.9 512.7,335.9 502,363.4 483.5,419.4"/>
<path fill="none" stroke-width="1.3" stroke-dasharray="6,10" d="M497.4 412.1L496.5 409.2M496.5 409.2L488.8 403.4M510.1 348.6L509.1 345.2"/>
<polygon points="321.9,533.8 340.4,529.1 329.7,521 311.2,525.7"/>
<polygon points="618.8,523 637.3,439.2 626.6,440.2 608.1,498.2"/>
<path fill="none" stroke-width="1.3" stroke-dasharray="6,10" d="M630.3 471.1L624.3 465.1M624.3 465.1L619.3 463.1"/>
<polygon points="446.5,498.5 465,403.4 454.3,446.6 435.8,474.3"/>
<path fill="none" stroke-width="1.3" stroke-dasharray="6,10" d="M451.4 473.1L451.3 466.5M451.3 466.5L442.2 464.7"/>
<polygon points="743.4,535.1 761.9,530.5 751.2,522.4 732.7,527.1"/>
<polygon points="571.1,369.8 589.6,473.6 578.9,427.5 560.4,503.3"/>
<path fill="none" stroke-width="1.3" stroke-dasharray="6,10" d="M569.8 464.8L563.1 469.2M578.8 413.1L576.1 406.8M576.1 406.8L567.7 412.4"/>
<polygon points="398.8,511.4 417.3,471 406.6,384.6 388.1,492.4"/>
<path fill="none" stroke-width="1.3" stroke-dasharray="6,10" d="M401.2 471.7L392.5 466.4M409.1 404.5L405.4 404.7M405.4 404.7L403.4 403.5"/>
<polygon points="695.7,536.4 714.2,531.7 703.5,523.6 685,528.3"/>
<polygon points="523.4,442.8 541.9,508 531.2,379.4 512.7,335.9"/>
<path fill="none" stroke-width="1.3" stroke-dasharray="6,10" d="M532.3 474.3L538.7 469.4M533.3 405.1L527.5 409.6M527.5 409.6L520.5 414.1M517.3 346.8L514 348.9"/>
<polygon points="351.1,537.2 369.6,521.9 358.9,516.5 340.4,529.1"/>
<polygon points="648,537.7 666.5,533 655.8,524.9 637.3,439.2"/>
<path fill="none" stroke-width="1.3" stroke-dasharray="6,10" d="M643.5 467.8L640.9 472"/>
<polygon points="475.7,488 494.2,427.9 483.5,419.4 465,403.4"/>
<path fill="none" stroke-width="1.3" stroke-dasharray="6,10" d="M479.1 476.9L477.1 475.5M477.1 475.5L474.3 476.7M470.4 408.1L465.8 410.1"/>
<polygon points="600.3,517 618.8,523 608.1,498.2 589.6,473.6"/>
<polygon points="428,518.6 446.5,498.5 435.8,474.3 417.3,471"/>
<polygon points="724.9,539.8 743.4,535.1 732.7,527.1 714.2,531.7"/>
<polygon points="552.6,308.2 571.1,369.8 560.4,503.3 541.9,508"/>
<path fill="none" stroke-width="1.3" stroke-dasharray="6,10" d="M563.1 469.2L559 469.4M559 469.4L543.8 473.3M567.7 412.4L556.8 412.8M556.8 412.8L546.9 415.3M566.9 355.8L554.5 356.3M554.5 356.3L550 357.4"/>
<polygon points="380.3,532.2 398.8,511.4 388.1,492.4 369.6,521.9"/>
<polygon points="677.2,541.1 695.7,536.4 685,528.3 666.5,533"/>
<polygon points="504.9,485.7 523.4,442.8 512.7,335.9 494.2,427.9"/>
<path fill="none" stroke-width="1.3" stroke-dasharray="6,10" d="M520.5 414.1L508.6 414.9M508.6 414.9L497.4 412.1"/>
<polygon points="332.6,541.9 351.1,537.2 340.4,529.1 321.9,533.8"/>
<polygon points="629.5,542.4 648,537.7 637.3,439.2 618.8,523"/>
<path fill="none" stroke-width="1.3" stroke-dasharray="6,10" d="M640.9 472L634.7 473.6M634.7 473.6L630.3 471.1"/>
<polygon points="457.2,517.6 475.7,488 465,403.4 446.5,498.5"/>
<path fill="none" stroke-width="1.3" stroke-dasharray="6,10" d="M474.3 476.7L459.9 478.1M459.9 478.1L451.4 473.1"/>
<polygon points="581.8,505.6 600.3,517 589.6,473.6 571.1,369.8"/>
<path fill="none" stroke-width="1.3" stroke-dasharray="6,10" d="M589.1 470.7L579.9 481.9M578.8 413.1L574.9 417.9"/>
<polygon points="409.5,532.6 428,518.6 417.3,471 398.8,511.4"/>
<polygon points="706.4,544.5 724.9,539.8 714.2,531.7 695.7,536.4"/>
<polygon points="534.1,486.3 552.6,308.2 541.9,508 523.4,442.8"/>
<path fill="none" stroke-width="1.3" stroke-dasharray="6,10" d="M534.3 484.6L543.8 473.3M532.3 474.3L533.6 484.2M540.7 422.7L546.9 415.3M547.1 360.8L550 357.4"/>
<polygon points="361.8,545.3 380.3,532.2 369.6,521.9 351.1,537.2"/>
<polygon points="658.7,545.8 677.2,541.1 666.5,533 648,537.7"/>
<polygon points="486.4,514.8 504.9,485.7 494.2,427.9 475.7,488"/>
<path fill="none" stroke-width="1.3" stroke-dasharray="6,10" d="M503.9 480.5L489.4 480.9M489.4 480.9L479.1 476.9"/>
<polygon points="611,540.4 629.5,542.4 618.8,523 600.3,517"/>
<polygon points="438.7,534.8 457.2,517.6 446.5,498.5 428,518.6"/>
<polygon points="563.3,509.9 581.8,505.6 571.1,369.8 552.6,308.2"/>
<path fill="none" stroke-width="1.3" stroke-dasharray="6,10" d="M579.9 481.9L564.6 485.8M564.6 485.8L562.1 487.1M574.9 417.9L568.3 419.5M568.3 419.5L558.8 424.3M566.9 355.8L555.4 361.6"/>
<polygon points="391,548.7 409.5,532.6 398.8,511.4 380.3,532.2"/>
<polygon points="687.9,549.2 706.4,544.5 695.7,536.4 677.2,541.1"/>
<polygon points="515.6,429 534.1,486.3 523.4,442.8 504.9,485.7"/>
<path fill="none" stroke-width="1.3" stroke-dasharray="6,10" d="M507.1 480.7L505.6 481.8"/>
<polygon points="343.3,549.9 361.8,545.3 351.1,537.2 332.6,541.9"/>
<polygon points="640.2,550.4 658.7,545.8 648,537.7 629.5,542.4"/>
<polygon points="467.9,534.8 486.4,514.8 475.7,488 457.2,517.6"/>
<polygon points="592.5,542.5 611,540.4 600.3,517 581.8,505.6"/>
<polygon points="420.2,544.9 438.7,534.8 428,518.6 409.5,532.6"/>
<polygon points="544.8,530.1 563.3,509.9 552.6,308.2 534.1,486.3"/>
<path fill="none" stroke-width="1.3" stroke-dasharray="6,10" d="M562.1 487.1L546.2 490.4M546.2 490.4L534.3 484.6M558.8 424.3L548.4 426.5M548.4 426.5L540.7 422.7M555.4 361.6L550.7 362.6M550.7 362.6L547.1 360.8"/>
<polygon points="372.5,553.3 391,548.7 380.3,532.2 361.8,545.3"/>
<polygon points="669.4,553.8 687.9,549.2 677.2,541.1 658.7,545.8"/>
<polygon points="497.1,537.8 515.6,429 504.9,485.7 486.4,514.8"/>
<path fill="none" stroke-width="1.3" stroke-dasharray="6,10" d="M504.9 492L505.6 481.8"/>
<polygon points="621.7,555.1 640.2,550.4 629.5,542.4 611,540.4"/>
<polygon points="449.4,546.8 467.9,534.8 457.2,517.6 438.7,534.8"/>
<polygon points="574,547 592.5,542.5 581.8,505.6 563.3,509.9"/>
<polygon points="401.7,556.8 420.2,544.9 409.5,532.6 391,548.7"/>
<polygon points="526.3,545 544.8,530.1 534.1,486.3 515.6,429"/>
<path fill="none" stroke-width="1.3" stroke-dasharray="6,10" d="M533.6 484.7L521.6 493.8"/>
<polygon points="354,558 372.5,553.3 361.8,545.3 343.3,549.9"/>
<polygon points="650.9,558.5 669.4,553.8 658.7,545.8 640.2,550.4"/>
<polygon points="478.6,549.6 497.1,537.8 486.4,514.8 467.9,534.8"/>
<polygon points="603.2,559.8 621.7,555.1 611,540.4 592.5,542.5"/>
<polygon points="430.9,560.2 449.4,546.8 438.7,534.8 420.2,544.9"/>
<polygon points="555.5,553.8 574,547 563.3,509.9 544.8,530.1"/>
<polygon points="383.2,561.4 401.7,556.8 391,548.7 372.5,553.3"/>
<polygon points="507.8,511.1 526.3,545 515.6,429 497.1,537.8"/>
<path fill="none" stroke-width="1.3" stroke-dasharray="6,10" d="M521.6 493.8L508.8 500.4M508.8 500.4L504.9 492"/>
<polygon points="632.4,563.2 650.9,558.5 640.2,550.4 621.7,555.1"/>
<polygon points="460.1,563.6 478.6,549.6 467.9,534.8 449.4,546.8"/>
<polygon points="584.7,564.5 603.2,559.8 592.5,542.5 574,547"/>
<polygon points="412.4,564.8 430.9,560.2 420.2,544.9 401.7,556.8"/>
<polygon points="537,565.7 555.5,553.8 544.8,530.1 526.3,545"/>
<polygon points="364.7,566.1 383.2,561.4 372.5,553.3 354,558"/>
<polygon points="489.3,567 507.8,511.1 497.1,537.8 478.6,549.6"/>
<polygon points="613.9,567.9 632.4,563.2 621.7,555.1 603.2,559.8"/>
<polygon points="441.6,568.3 460.1,563.6 449.4,546.8 430.9,560.2"/>
<polygon points="566.2,569.1 584.7,564.5 574,547 555.5,553.8"/>
<polygon points="393.9,569.5 412.4,564.8 401.7,556.8 383.2,561.4"/>
<polygon points="518.5,570.4 537,565.7 526.3,545 507.8,511.1"/>
<polygon points="470.8,571.7 489.3,567 478.6,549.6 460.1,563.6"/>
<polygon points="595.4,572.5 613.9,567.9 603.2,559.8 584.7,564.5"/>
<polygon points="423.1,572.9 441.6,568.3 430.9,560.2 412.4,564.8"/>
<polygon points="547.7,573.8 566.2,569.1 555.5,553.8 537,565.7"/>
<polygon points="375.4,574.2 393.9,569.5 383.2,561.4 364.7,566.1"/>
<polygon points="500,575.1 518.5,570.4 507.8,511.1 489.3,567"/>
<polygon points="452.3,576.3 470.8,571.7 460.1,563.6 441.6,568.3"/>
<polygon points="576.9,577.2 595.4,572.5 584.7,564.5 566.2,569.1"/>
<polygon points="404.6,577.6 423.1,572.9 412.4,564.8 393.9,569.5"/>
<polygon points="529.2,578.5 547.7,573.8 537,565.7 518.5,570.4"/>
<polygon points="481.5,579.8 500,575.1 489.3,567 470.8,571.7"/>
<polygon points="433.8,581 452.3,576.3 441.6,568.3 423.1,572.9"/>
<polygon points="558.4,581.9 576.9,577.2 566.2,569.1 547.7,573.8"/>
<polygon points="386.1,582.3 404.6,577.6 393.9,569.5 375.4,574.2"/>
<polygon points="510.7,583.2 529.2,578.5 518.5,570.4 500,575.1"/>
<polygon points="463,584.4 481.5,579.8 470.8,571.7 452.3,576.3"/>
<polygon points="415.3,585.7 433.8,581 423.1,572.9 404.6,577.6"/>
<polygon points="539.9,586.6 558.4,581.9 547.7,573.8 529.2,578.5"/>
<polygon points="492.2,587.8 510.7,583.2 500,575.1 481.5,579.8"/>
<polygon points="444.5,589.1 463,584.4 452.3,576.3 433.8,581"/>
<polygon points="396.8,590.4 415.3,585.7 404.6,577.6 386.1,582.3"/>
<polygon points="521.4,591.2 539.9,586.6 529.2,578.5 510.7,583.2"/>
<polygon points="473.7,592.5 492.2,587.8 481.5,579.8 463,584.4"/>
<polygon points="426,593.8 444.5,589.1 433.8,581 415.3,585.7"/>
<polygon points="502.9,595.9 521.4,591.2 510.7,583.2 492.2,587.8"/>
<polygon points="455.2,597.2 473.7,592.5 463,584.4 444.5,589.1"/>
<polygon points="407.5,598.5 426,593.8 415.3,585.7 396.8,590.4"/>
<polygon points="484.4,600.6 502.9,595.9 492.2,587.8 473.7,592.5"/>
<polygon points="436.7,601.9 455.2,597.2 444.5,589.1 426,593.8"/>
<polygon points="465.9,605.3 484.4,600.6 473.7,592.5 455.2,597.2"/>
<polygon points="418.2,606.5 436.7,601.9 426,593.8 407.5,598.5"/>
<polygon points="447.4,609.9 465.9,605.3 455.2,597.2 436.7,601.9"/>
<polygon points="428.9,614.6 447.4,609.9 436.7,601.9 418.2,606.5"/>
</g>
<g stroke="#111" fill="none">
<line x1="211" y1="459.3" x2="425" y2="621" stroke-width="1.6"/>
<line x1="425" y1="621" x2="795" y2="527.5" stroke-width="1.6"/>
<line x1="211" y1="488.3" x2="211" y2="133.6" stroke-width="1.6"/>
<line x1="425" y1="651" x2="425" y2="295.3" stroke-width="1.6"/>
<line x1="795" y1="556.5" x2="795" y2="201.8" stroke-width="1.6"/>
<line x1="581" y1="365.8" x2="581" y2="40.1" stroke-width="1.6"/>
<line x1="211" y1="133.6" x2="581" y2="40.1" stroke-width="1.6"/>
<line x1="581" y1="40.1" x2="795" y2="201.8" stroke-width="1.6"/>
<line x1="211" y1="133.6" x2="425" y2="295.3" stroke-width="1.6"/>
<line x1="425" y1="295.3" x2="795" y2="201.8" stroke-width="1.6"/>
<line x1="182" y1="459.3" x2="211" y2="459.3" stroke-width="1.6"/>
<line x1="182" y1="399" x2="211" y2="399" stroke-width="1.6"/>
<line x1="182" y1="338.8" x2="211" y2="338.8" stroke-width="1.6"/>
<line x1="182" y1="278.5" x2="211" y2="278.5" stroke-width="1.6"/>
<line x1="182" y1="218.3" x2="211" y2="218.3" stroke-width="1.6"/>
<line x1="182" y1="158" x2="211" y2="158" stroke-width="1.6"/>
<line x1="462" y1="611.6" x2="462" y2="640.6" stroke-width="1.5"/>
<line x1="499" y1="602.3" x2="499" y2="631.3" stroke-width="1.5"/>
<line x1="536" y1="593" x2="536" y2="622" stroke-width="1.5"/>
<line x1="573" y1="583.6" x2="573" y2="612.6" stroke-width="1.5"/>
<line x1="610" y1="574.2" x2="610" y2="603.2" stroke-width="1.5"/>
<line x1="647" y1="564.9" x2="647" y2="593.9" stroke-width="1.5"/>
<line x1="684" y1="555.5" x2="684" y2="584.5" stroke-width="1.5"/>
<line x1="721" y1="546.2" x2="721" y2="575.2" stroke-width="1.5"/>
<line x1="758" y1="536.9" x2="758" y2="565.9" stroke-width="1.5"/>
<line x1="403.6" y1="604.8" x2="403.6" y2="633.8" stroke-width="1.5"/>
<line x1="382.2" y1="588.7" x2="382.2" y2="617.7" stroke-width="1.5"/>
<line x1="360.8" y1="572.5" x2="360.8" y2="601.5" stroke-width="1.5"/>
<line x1="339.4" y1="556.3" x2="339.4" y2="585.3" stroke-width="1.5"/>
<line x1="318" y1="540.1" x2="318" y2="569.1" stroke-width="1.5"/>
<line x1="296.6" y1="524" x2="296.6" y2="553" stroke-width="1.5"/>
<line x1="275.2" y1="507.8" x2="275.2" y2="536.8" stroke-width="1.5"/>
<line x1="253.8" y1="491.6" x2="253.8" y2="520.6" stroke-width="1.5"/>
<line x1="232.4" y1="475.5" x2="232.4" y2="504.5" stroke-width="1.5"/>
</g>
<text x="77.2" y="166.9" font-size="60">100</text>
<text x="104.9" y="232.2" font-size="60">80</text>
<text x="104.8" y="292.9" font-size="60">60</text>
<text x="105.2" y="363.4" font-size="60">40</text>
<text x="108.8" y="423.9" font-size="60">20</text>
<text x="135.9" y="482.2" font-size="60">0</text>
<text x="173.1" y="539" font-size="52.5">10</text>
<text x="231.8" y="572.5" font-size="52.5">5</text>
<text x="274.5" y="608.9" font-size="52.5">0</text>
<text x="310.9" y="655.5" font-size="52.5">-5</text>
<text x="343" y="693" font-size="52.5">-10</text>
<text x="424" y="696.8" font-size="52.5">-10</text>
<text x="520.1" y="678.5" font-size="52.5">-5</text>
<text x="613.1" y="650.8" font-size="52.5">0</text>
<text x="681.4" y="634.3" font-size="52.5">5</text>
<text x="744.9" y="615.8" font-size="52.5">10</text>
<text x="850.3" y="59.5" font-size="68">100</text>
<text x="850.1" y="170.3" font-size="68">80</text>
<text x="849.6" y="276.1" font-size="68">60</text>
<text x="850.3" y="386.8" font-size="68">40</text>
<text x="850" y="503.3" font-size="68">20</text>
<text x="139.1" y="55.6" font-size="49" font-weight="bold">(a)</text>
<g transform="translate(570,717.5) scale(1.0,1.0)" fill="none" stroke="#111" stroke-linecap="round"><path d="M0.5,9.8 C3,7.6 6,5.2 9,5.4" stroke-width="2.2"/><path d="M8.2,5.5 C12,6 14,9.5 16.2,14.5 L23.3,30.5" stroke-width="5.4"/><path d="M23.3,30.5 C25,35.5 29,35.5 32.5,25" stroke-width="3.4"/><path d="M26.5,2.8 C21,4.5 17,12 14.8,20 C13,27 11,34 5,38" stroke-width="2.2"/><circle cx="27.3" cy="3.3" r="3.2" fill="#111" stroke="none"/><circle cx="5" cy="38.2" r="3.4" fill="#111" stroke="none"/></g>
<text transform="translate(624.3,720.2) rotate(-14) scale(0.8,1)" x="-10.8" y="14.9" font-size="62">(</text>
<text transform="translate(648.7,713.7) rotate(-14) scale(0.85,1)" x="-11.4" y="21.9" font-size="62">f</text>
<text transform="translate(685,711.7) rotate(-14) scale(0.74,1)" x="-24.2" y="14.6" font-size="62">m</text>
<text transform="translate(708.7,697) rotate(-14) scale(0.8,1)" x="-10" y="14.9" font-size="62">)</text>
<g transform="translate(144,594) scale(1.0,1.0)" fill="#111" stroke="#111" stroke-linecap="round"><path d="M36.5,1.5 L46.5,4.5 L26,31.5 L22.5,31 Z" stroke-width="1"/><path d="M4,29 C8,32.5 15,33 24,31.3 C34,29.5 47,27 56.5,21.5" fill="none" stroke-width="2.8"/><circle cx="4.2" cy="28.2" r="3.4" stroke="none"/><circle cx="57.3" cy="21.3" r="3.4" stroke="none"/></g>
<text transform="translate(215.5,638) rotate(42) scale(0.8,1)" x="-10.8" y="14.9" font-size="62">(</text>
<text transform="translate(234.8,659.3) rotate(42) scale(0.82,1)" x="-11.4" y="21.9" font-size="62">f</text>
<text transform="translate(253.2,685.2) rotate(42) scale(0.74,1)" x="-24.2" y="14.6" font-size="62">m</text>
<text transform="translate(277.5,699.7) rotate(42) scale(0.8,1)" x="-10" y="14.9" font-size="62">)</text>
<g transform="translate(13.9,292.6) scale(0.996,0.995)" fill="none" stroke="#111" stroke-linecap="round"><path d="M42,13 C37,2 19,-1 12,9 C7,17 13,26 24,27" stroke-width="5.5"/><path d="M20,27.5 L36,26" stroke-width="6"/><path d="M23,28 C7,29 0,40 5,49 C11,58 32,57 40,45" stroke-width="9"/><circle cx="41" cy="12" r="6" fill="#111" stroke="none"/><circle cx="39.5" cy="45.5" r="4.5" fill="#111" stroke="none"/></g>
<!-- panel b -->
<g>
<rect x="1649.8" y="33" width="38.1" height="56" fill="#151515"/>
<rect x="1649.8" y="89" width="38.1" height="26.1" fill="#3f3f3f"/>
<rect x="1649.8" y="115.1" width="38.1" height="31" fill="#404040"/>
<rect x="1649.8" y="146.1" width="38.1" height="49.3" fill="#5c5c5c"/>
<rect x="1649.8" y="195.4" width="38.1" height="6.3" fill="#666666"/>
<rect x="1649.8" y="201.7" width="38.1" height="57.1" fill="#6d6d6d"/>
<rect x="1649.8" y="258.8" width="38.1" height="17.9" fill="#777777"/>
<rect x="1649.8" y="276.7" width="38.1" height="38.1" fill="#7a7a7a"/>
<rect x="1649.8" y="314.8" width="38.1" height="42.2" fill="#939393"/>
<rect x="1649.8" y="357" width="38.1" height="14.9" fill="#949494"/>
<rect x="1649.8" y="371.9" width="38.1" height="56.7" fill="#ababab"/>
<rect x="1649.8" y="428.6" width="38.1" height="9.3" fill="#c5c5c5"/>
<rect x="1649.8" y="437.9" width="38.1" height="46.7" fill="#cfcfcf"/>
<rect x="1649.8" y="484.6" width="38.1" height="32.8" fill="#e6e6e6"/>
<rect x="1649.8" y="517.4" width="38.1" height="23.9" fill="#e6e6e6"/>
<rect x="1649.8" y="541.3" width="38.1" height="56.3" fill="#ffffff"/>
<line x1="1649.8" y1="115.1" x2="1687.9" y2="115.1" stroke="#111" stroke-width="1.5"/>
<line x1="1649.8" y1="195.4" x2="1687.9" y2="195.4" stroke="#111" stroke-width="1.5"/>
<line x1="1649.8" y1="276.7" x2="1687.9" y2="276.7" stroke="#111" stroke-width="1.5"/>
<line x1="1649.8" y1="357" x2="1687.9" y2="357" stroke="#111" stroke-width="1.5"/>
<line x1="1649.8" y1="437.9" x2="1687.9" y2="437.9" stroke="#111" stroke-width="1.5"/>
<line x1="1649.8" y1="517.4" x2="1687.9" y2="517.4" stroke="#111" stroke-width="1.5"/>
<rect x="1649.8" y="33" width="38.1" height="564.6" fill="none" stroke="#111" stroke-width="1.6"/>
</g>
<g stroke="none">
<path fill="#e6e6e6" fill-rule="evenodd" d="M1447.2 236.3L1468.4 233.8L1484.1 227.1L1489.1 218.9L1483.4 209.6L1472.6 201.5L1473 199.8L1479.8 188.9L1481.7 187.7L1498.9 182.2L1513.5 174.6L1520.6 167.9L1520 160.8L1519.8 157.3L1509.2 149.1L1502.2 147.3L1489.1 143.4L1471.6 142.6L1454.2 141.3L1441.8 138.7L1433.1 135.8L1416.9 129.1L1409.2 120.2L1396.3 112.7L1380.8 110.8L1366.3 109.4L1349.7 105.8L1344.6 104L1318.4 100.7L1310.2 101.8L1296 102.3L1288 107.4L1281.5 109.9L1275 121.4L1283.6 130.1L1283.9 130.5L1279.6 131.1L1259.1 130.3L1253 126.9L1226.5 124.1L1207.4 128.3L1197.3 139.3L1196.1 141.2L1199.4 151.2L1205.1 160.5L1207.1 165.5L1207.5 170.7L1218.1 178.9L1229.2 182.3L1234.6 185.5L1243.5 193.2L1243.9 194L1239.5 205.9L1248.6 214.4L1269.8 219.9L1280 221.1L1303 219.9L1320.2 218L1325 218L1351.8 220.9L1353.6 221.1L1380.4 222.8L1388.3 222.6L1409.9 226.6L1412.3 227.4L1428.6 234.1ZM1421.1 214.4L1412.8 205.7L1406.1 205L1389.1 210.7L1369.8 214.7L1343.3 212.2L1341.4 211.8L1314 208.8L1313 208.8L1285.5 205.1L1280.4 202.7L1265.2 199.4L1269.5 194.4L1281.2 184.6L1258.8 186.2L1244 183.2L1235.4 174.5L1217.8 168.1L1221.9 158L1227.7 154.9L1213.5 147.6L1207.9 138.2L1212.5 132.1L1233.8 129.7L1239.6 130.3L1255.6 137.1L1253.7 144.9L1249.6 149.4L1260.8 150.3L1279.2 152.8L1287.5 152L1308.4 149.1L1318 143L1316 136.3L1315.1 133L1311.4 132.7L1290.5 128.3L1289.9 117.7L1290.4 116.7L1303.8 108.2L1327.3 107.4L1329.8 107.7L1351.8 113L1363.1 116L1377.1 117.5L1395 123.8L1395.9 134.3L1410.8 141.4L1428.2 147.8L1430 148.3L1454.8 148.6L1464.7 149.5L1481.1 149.9L1496.6 152.3L1495 160.5L1495 163.5L1488.8 174.5L1473.4 179.7L1471.9 180.3L1461.1 190.8L1461.9 193.4L1455.2 205L1450.1 207.1L1444 215.2ZM1301.1 147.3L1303 145L1306.2 146L1305.1 146.7ZM1342.5 137.7L1344.4 136.4L1340.5 136.2L1336.5 138.4Z"/>
<path fill="#cfcfcf" fill-rule="evenodd" d="M1444 215.2L1450.1 207.1L1455.2 205L1461.9 193.4L1461.1 190.8L1471.9 180.3L1473.4 179.7L1488.8 174.5L1495 163.5L1495 160.5L1496.6 152.3L1481.1 149.9L1464.7 149.5L1454.8 148.6L1430 148.3L1428.2 147.8L1410.8 141.4L1395.9 134.3L1395 123.8L1377.1 117.5L1363.1 116L1351.8 113L1329.8 107.7L1327.3 107.4L1303.8 108.2L1290.4 116.7L1289.9 117.7L1290.5 128.3L1311.4 132.7L1315.1 133L1316 136.3L1318 143L1308.4 149.1L1287.5 152L1279.2 152.8L1260.8 150.3L1249.6 149.4L1253.7 144.9L1255.6 137.1L1239.6 130.3L1233.8 129.7L1212.5 132.1L1207.9 138.2L1213.5 147.6L1227.7 154.9L1221.9 158L1217.8 168.1L1235.4 174.5L1244 183.2L1258.8 186.2L1281.2 184.6L1269.5 194.4L1265.2 199.4L1280.4 202.7L1285.5 205.1L1313 208.8L1314 208.8L1341.4 211.8L1343.3 212.2L1369.8 214.7L1389.1 210.7L1406.1 205L1412.8 205.7L1421.1 214.4ZM1417.6 204.4L1403.5 203L1386.8 209L1363.4 209.8L1355.8 209.1L1333.3 204L1324.6 199L1307.4 204.5L1294.7 202.8L1295.1 195.2L1298.5 191.1L1290.9 182.2L1274.5 179.5L1255.4 180.3L1246.9 171.7L1237.9 170.3L1223.9 166.6L1226.1 161.2L1240.4 153.4L1266.1 156L1268.2 156L1290.1 153.9L1311.6 151.6L1327.2 144.8L1346.9 141.1L1360.2 132.5L1360.2 132.5L1370.6 121.7L1388 125.5L1385.8 133.4L1380.1 138.3L1389.8 146.7L1404 147.2L1419.2 150.1L1439.3 155.9L1439.8 155.8L1462.4 154.3L1486.1 154.9L1486.7 165.6L1483.8 170.7L1466 175.8L1460.6 182.9L1456.3 187.1L1458.6 194.2L1453.2 203.5L1436.8 209.7ZM1336.5 138.4L1340.5 136.2L1344.4 136.4L1342.5 137.7ZM1326.9 130L1305.7 128.4L1297.4 126.6L1297.4 122L1308.4 113.1L1309.3 112.4L1311.1 112.4L1334.9 113.2L1343.3 115.1L1342.9 119.3L1336.3 127.7L1333.5 130.9ZM1220.7 145.8L1217.5 136L1244.3 139.9L1235.6 149.8Z"/>
<path fill="#ababab" fill-rule="evenodd" d="M1436.8 209.7L1453.2 203.5L1458.6 194.2L1456.3 187.1L1460.6 182.9L1466 175.8L1483.8 170.7L1486.7 165.6L1486.1 154.9L1462.4 154.3L1439.8 155.8L1439.3 155.9L1419.2 150.1L1404 147.2L1389.8 146.7L1380.1 138.3L1385.8 133.4L1388 125.5L1370.6 121.7L1360.2 132.5L1360.2 132.5L1346.9 141.1L1327.2 144.8L1311.6 151.6L1290.1 153.9L1268.2 156L1266.1 156L1240.4 153.4L1226.1 161.2L1223.9 166.6L1237.9 170.3L1246.9 171.7L1255.4 180.3L1274.5 179.5L1290.9 182.2L1298.5 191.1L1295.1 195.2L1294.7 202.8L1307.4 204.5L1324.6 199L1333.3 204L1355.8 209.1L1363.4 209.8L1386.8 209L1403.5 203L1417.6 204.4ZM1422.6 203.2L1400.8 200.9L1384.4 207.2L1364.8 206.9L1357 205L1341.3 202L1334.6 192.8L1314.9 187L1300.6 179.8L1299.4 179.8L1272.7 176L1264.9 172.1L1256.4 169.3L1231.5 165.4L1230.1 165L1230.4 164.5L1244.6 156.7L1258.1 158L1270.5 157.7L1292.8 155.9L1314.8 154.1L1328.4 151.2L1334.2 150.2L1338.9 148.6L1351.4 144.6L1358.8 143.6L1369 151.9L1383.7 150.5L1410 152.4L1411.1 152.7L1431.2 157.9L1441.9 157.4L1468.6 159.3L1460.6 171.7L1458.2 172.7L1450 182.3L1434.2 189L1433.8 189.6L1435.2 189.8L1455.2 195L1451.2 202L1431.4 205.6ZM1374.2 129L1376.7 126.4L1380.9 127.3L1380.4 129.2ZM1333.5 130.9L1336.3 127.7L1342.9 119.3L1343.3 115.1L1334.9 113.2L1311.1 112.4L1309.3 112.4L1308.4 113.1L1297.4 122L1297.4 126.6L1305.7 128.4L1326.9 130ZM1306.8 124.3L1315 116.8L1332.6 117.8L1326.7 125.7ZM1235.6 149.8L1244.3 139.9L1217.5 136L1220.7 145.8ZM1228 144L1228 144L1228.1 144L1228 144Z"/>
<path fill="#939393" fill-rule="evenodd" d="M1431.4 205.6L1451.2 202L1455.2 195L1435.2 189.8L1433.8 189.6L1434.2 189L1450 182.3L1458.2 172.7L1460.6 171.7L1468.6 159.3L1441.9 157.4L1431.2 157.9L1411.1 152.7L1410 152.4L1383.7 150.5L1369 151.9L1358.8 143.6L1351.4 144.6L1338.9 148.6L1334.2 150.2L1328.4 151.2L1314.8 154.1L1292.8 155.9L1270.5 157.7L1258.1 158L1244.6 156.7L1230.4 164.5L1230.1 165L1231.5 165.4L1256.4 169.3L1264.9 172.1L1272.7 176L1299.4 179.8L1300.6 179.8L1314.9 187L1334.6 192.8L1341.3 202L1357 205L1364.8 206.9L1384.4 207.2L1400.8 200.9L1422.6 203.2ZM1428.2 201.8L1426.1 201.5L1398.1 198.9L1382.1 205.4L1371.4 205.2L1350.8 200.2L1349.3 199.9L1348.8 198.7L1343.5 190.6L1330.5 184.7L1327.3 183.9L1309.5 177.5L1296.3 177.4L1277.7 174.7L1263.6 167.5L1272.7 159.4L1295.4 158L1304.6 157.2L1320 158L1339.3 154L1355.2 155.3L1368 157.2L1388 153.8L1400.8 154.7L1419.4 159L1423 159.9L1444 159L1464.1 160.4L1458.1 169.8L1441.8 176L1441.2 177L1430.9 186.5L1427.6 191.2L1438.7 192.4L1451.8 195.9L1449.2 200.4ZM1247.5 160.7L1248.9 159.9L1250.1 160L1250.8 161.3ZM1380.4 129.2L1380.9 127.3L1376.7 126.4L1374.2 129ZM1228 144L1228.1 144L1228 144L1228 144ZM1326.7 125.7L1332.6 117.8L1315 116.8L1306.8 124.3Z"/>
<path fill="#7a7a7a" fill-rule="evenodd" d="M1449.2 200.4L1451.8 195.9L1438.7 192.4L1427.6 191.2L1430.9 186.5L1441.2 177L1441.8 176L1458.1 169.8L1464.1 160.4L1444 159L1423 159.9L1419.4 159L1400.8 154.7L1388 153.8L1368 157.2L1355.2 155.3L1339.3 154L1320 158L1304.6 157.2L1295.4 158L1272.7 159.4L1263.6 167.5L1277.7 174.7L1296.3 177.4L1309.5 177.5L1327.3 183.9L1330.5 184.7L1343.5 190.6L1348.8 198.7L1349.3 199.9L1350.8 200.2L1371.4 205.2L1382.1 205.4L1398.1 198.9L1426.1 201.5L1428.2 201.8ZM1437.1 199.6L1442.1 195L1448.5 196.7L1447.2 198.9ZM1377.8 203.6L1354.7 198.6L1349.2 189.2L1337.2 181.4L1339 172.5L1342.1 169.4L1328.6 164.6L1318.1 175.3L1293.2 175L1282.5 173.5L1269.3 166L1274.9 161.1L1293.1 160.1L1299.3 161L1325.5 162.2L1344.3 157.9L1344.9 157.9L1370.1 162.4L1374.5 162.1L1392.5 157.2L1412.7 162.5L1425.9 163.9L1446 160.6L1459.7 161.5L1455.6 167.9L1436.8 172.3L1432.9 179L1427.6 183.9L1421.4 192.7L1420.8 197.4L1407.1 196.3L1393.6 195.4L1383.1 202.3L1379.8 203.6ZM1250.8 161.3L1250.1 160L1248.9 159.9L1247.5 160.7Z"/>
<path fill="#6d6d6d" fill-rule="evenodd" d="M1447.2 198.9L1448.5 196.7L1442.1 195L1437.1 199.6ZM1379.8 203.6L1383.1 202.3L1393.6 195.4L1407.1 196.3L1420.8 197.4L1421.4 192.7L1427.6 183.9L1432.9 179L1436.8 172.3L1455.6 167.9L1459.7 161.5L1446 160.6L1425.9 163.9L1412.7 162.5L1392.5 157.2L1374.5 162.1L1370.1 162.4L1344.9 157.9L1344.3 157.9L1325.5 162.2L1299.3 161L1293.1 160.1L1274.9 161.1L1269.3 166L1282.5 173.5L1293.2 175L1318.1 175.3L1328.6 164.6L1342.1 169.4L1339 172.5L1337.2 181.4L1349.2 189.2L1354.7 198.6L1377.8 203.6ZM1360 197.3L1355.2 187.7L1346.9 179L1347 178.6L1349 178.5L1367.5 175.5L1372.2 172.7L1379.8 166.2L1400.5 165.6L1403.8 165.8L1431.6 168.6L1424.5 181.1L1424.2 181.4L1422.5 181.6L1403.1 184L1393.8 188.8L1388.6 191.6L1375.9 200.6ZM1432.1 168.4L1448.2 162.2L1455.1 162.7L1453 165.9ZM1287.5 172.3L1275.2 164.6L1277.2 162.8L1283.7 162.4L1305.3 165.5L1313 165.9L1310.5 169.5L1290.1 172.6Z"/>
<path fill="#5e5e5e" fill-rule="evenodd" d="M1375.9 200.6L1388.6 191.6L1393.8 188.8L1403.1 184L1422.5 181.6L1424.2 181.4L1424.5 181.1L1431.6 168.6L1403.8 165.8L1400.5 165.6L1379.8 166.2L1372.2 172.7L1367.5 175.5L1349 178.5L1347 178.6L1346.9 179L1355.2 187.7L1360 197.3ZM1365 196L1362.4 190.3L1362.7 185.8L1371.1 178.3L1385.6 170.6L1412.5 172.4L1415.2 172.7L1414.5 174L1398.7 180.6L1383.7 187.9L1378.1 192.8L1371.7 197.4ZM1453 165.9L1455.1 162.7L1448.2 162.2L1432.1 168.4ZM1448.9 164.2L1450.2 163.7L1450.8 163.8L1450.6 164ZM1290.1 172.6L1310.5 169.5L1313 165.9L1305.3 165.5L1283.7 162.4L1277.2 162.8L1275.2 164.6L1287.5 172.3Z"/>
<path fill="#3f3f3f" fill-rule="evenodd" d="M1371.7 197.4L1378.1 192.8L1383.7 187.9L1398.7 180.6L1414.5 174L1415.2 172.7L1412.5 172.4L1385.6 170.6L1371.1 178.3L1362.7 185.8L1362.4 190.3L1365 196ZM1372.2 183.4L1374.8 181.1L1389.9 179L1378.7 184.1ZM1450.6 164L1450.8 163.8L1450.2 163.7L1448.9 164.2Z"/>
<path fill="#151515" fill-rule="evenodd" d="M1378.7 184.1L1389.9 179L1374.8 181.1L1372.2 183.4Z"/>
</g>
<g stroke="#111" stroke-width="1.3" stroke-dasharray="6,10" fill="none">
<polyline points="1060,417.1 1429.5,324.6 1642.5,487.1"/>
<polyline points="1060,371.8 1429.5,279.3 1642.5,441.8"/>
<polyline points="1060,326.4 1429.5,233.9 1642.5,396.4"/>
<polyline points="1060,281.1 1429.5,188.6 1642.5,351.1"/>
<polyline points="1060,235.7 1429.5,143.2 1642.5,305.7"/>
<polyline points="1060,190.3 1429.5,97.8 1642.5,260.3"/>
<polyline points="1060,145 1429.5,52.5 1642.5,215"/>
</g>
<polyline fill="none" stroke="#111" stroke-width="1.6" points="1060,462.5 1429.5,370 1642.5,532.5"/>
<g fill="#fff" stroke="#111" stroke-width="1.35" stroke-linejoin="miter">
<polygon points="1417.8,389.1 1436.2,384.5 1425.6,376.4 1407.1,381"/>
<polygon points="1399.3,393.8 1417.8,389.1 1407.1,381 1388.6,385.6"/>
<polygon points="1428.4,397.2 1446.9,392.6 1436.2,384.5 1417.8,389.1"/>
<polygon points="1380.8,398.4 1399.3,393.8 1388.6,385.6 1370.2,390.2"/>
<polygon points="1409.9,401.9 1428.4,397.2 1417.8,389.1 1399.3,393.8"/>
<polygon points="1362.3,403 1380.8,398.4 1370.2,390.2 1351.7,394.9"/>
<polygon points="1439.1,405.4 1457.5,400.8 1446.9,392.6 1428.4,397.2"/>
<polygon points="1391.5,406.5 1409.9,401.9 1399.3,393.8 1380.8,398.4"/>
<polygon points="1343.9,407.6 1362.3,403 1351.7,394.9 1333.2,399.5"/>
<polygon points="1420.6,410 1439.1,405.4 1428.4,397.2 1409.9,401.9"/>
<polygon points="1373,411.1 1391.5,406.5 1380.8,398.4 1362.3,403"/>
<polygon points="1325.4,412.2 1343.9,407.6 1333.2,399.5 1314.7,404.1"/>
<polygon points="1449.7,413.5 1468.2,408.9 1457.5,400.8 1439.1,405.4"/>
<polygon points="1402.1,414.6 1420.6,410 1409.9,401.9 1391.5,406.5"/>
<polygon points="1354.5,415.8 1373,411.1 1362.3,403 1343.9,407.6"/>
<polygon points="1306.9,416.9 1325.4,412.2 1314.7,404.1 1296.3,408.8"/>
<polygon points="1431.2,418.1 1449.7,413.5 1439.1,405.4 1420.6,410"/>
<polygon points="1383.6,419.2 1402.1,414.6 1391.5,406.5 1373,411.1"/>
<polygon points="1336,420.4 1354.5,415.8 1343.9,407.6 1325.4,412.2"/>
<polygon points="1288.4,421.5 1306.9,416.9 1296.3,408.8 1277.8,413.4"/>
<polygon points="1460.4,421.6 1478.8,417 1468.2,408.9 1449.7,413.5"/>
<polygon points="1412.8,422.8 1431.2,418.1 1420.6,410 1402.1,414.6"/>
<polygon points="1365.2,423.9 1383.6,419.2 1373,411.1 1354.5,415.8"/>
<polygon points="1317.6,415 1336,420.4 1325.4,412.2 1306.9,416.9"/>
<polygon points="1270,426.1 1288.4,421.5 1277.8,413.4 1259.3,418"/>
<polygon points="1441.9,426.2 1460.4,421.6 1449.7,413.5 1431.2,418.1"/>
<polygon points="1394.3,427.4 1412.8,422.8 1402.1,414.6 1383.6,419.2"/>
<polygon points="1346.7,419.9 1365.2,423.9 1354.5,415.8 1336,420.4"/>
<polygon points="1299.1,410.6 1317.6,415 1306.9,416.9 1288.4,421.5"/>
<polygon points="1471,429.8 1489.5,425.1 1478.8,417 1460.4,421.6"/>
<polygon points="1251.5,430.8 1270,426.1 1259.3,418 1240.8,422.6"/>
<polygon points="1423.4,430.9 1441.9,426.2 1431.2,418.1 1412.8,422.8"/>
<polygon points="1375.8,432 1394.3,427.4 1383.6,419.2 1365.2,423.9"/>
<polygon points="1328.2,379 1346.7,419.9 1336,420.4 1317.6,415"/>
<path fill="none" stroke-width="1.3" stroke-dasharray="6,10" d="M1331.8 386.9L1329.5 385.7M1329.5 385.7L1326.1 386.2"/>
<polygon points="1280.6,424.3 1299.1,410.6 1288.4,421.5 1270,426.1"/>
<polygon points="1452.5,434.4 1471,429.8 1460.4,421.6 1441.9,426.2"/>
<polygon points="1233,435.4 1251.5,430.8 1240.8,422.6 1222.4,427.2"/>
<polygon points="1404.9,435.5 1423.4,430.9 1412.8,422.8 1394.3,427.4"/>
<polygon points="1357.3,410.2 1375.8,432 1365.2,423.9 1346.7,419.9"/>
<polygon points="1309.7,349 1328.2,379 1317.6,415 1299.1,410.6"/>
<path fill="none" stroke-width="1.3" stroke-dasharray="6,10" d="M1326.1 386.2L1314 385.4M1314 385.4L1303.1 387.3"/>
<polygon points="1481.7,437.9 1500.1,433.2 1489.5,425.1 1471,429.8"/>
<polygon points="1262.1,438.9 1280.6,424.3 1270,426.1 1251.5,430.8"/>
<polygon points="1434.1,439 1452.5,434.4 1441.9,426.2 1423.4,430.9"/>
<polygon points="1214.5,440 1233,435.4 1222.4,427.2 1203.9,431.9"/>
<polygon points="1386.5,411.1 1404.9,435.5 1394.3,427.4 1375.8,432"/>
<polygon points="1338.9,336 1357.3,410.2 1346.7,419.9 1328.2,379"/>
<path fill="none" stroke-width="1.3" stroke-dasharray="6,10" d="M1352.9 392.4L1343.7 388M1343.7 388L1331.8 386.9M1342.3 349.7L1340 348.6M1340 348.6L1335.8 348.2"/>
<polygon points="1291.3,388.9 1309.7,349 1299.1,410.6 1280.6,424.3"/>
<path fill="none" stroke-width="1.3" stroke-dasharray="6,10" d="M1303.1 387.3L1293.1 394M1293.1 394L1289.3 395.5"/>
<polygon points="1463.2,442.5 1481.7,437.9 1471,429.8 1452.5,434.4"/>
<polygon points="1243.7,443.5 1262.1,438.9 1251.5,430.8 1233,435.4"/>
<polygon points="1415.6,443.6 1434.1,439 1423.4,430.9 1404.9,435.5"/>
<polygon points="1196.1,444.6 1214.5,440 1203.9,431.9 1185.4,436.5"/>
<polygon points="1368,374.2 1386.5,411.1 1375.8,432 1357.3,410.2"/>
<path fill="none" stroke-width="1.3" stroke-dasharray="6,10" d="M1379.2 396.6L1370.8 394.8M1370.8 394.8L1361.9 394.8"/>
<polygon points="1320.4,288.3 1338.9,336 1328.2,379 1309.7,349"/>
<path fill="none" stroke-width="1.3" stroke-dasharray="6,10" d="M1335.8 348.2L1325.4 346.9M1325.4 346.9L1310 347.3M1328 307.9L1322 307.1M1322 307.1L1317.1 307.3"/>
<polygon points="1492.3,446 1510.8,441.4 1500.1,433.2 1481.7,437.9"/>
<polygon points="1272.8,438.9 1291.3,388.9 1280.6,424.3 1262.1,438.9"/>
<path fill="none" stroke-width="1.3" stroke-dasharray="6,10" d="M1287.9 397.8L1289.3 395.5"/>
<polygon points="1444.7,447.1 1463.2,442.5 1452.5,434.4 1434.1,439"/>
<polygon points="1225.2,441 1243.7,443.5 1233,435.4 1214.5,440"/>
<polygon points="1397.1,408.9 1415.6,443.6 1404.9,435.5 1386.5,411.1"/>
<polygon points="1177.6,449.2 1196.1,444.6 1185.4,436.5 1166.9,441.1"/>
<polygon points="1349.5,394.7 1368,374.2 1357.3,410.2 1338.9,336"/>
<path fill="none" stroke-width="1.3" stroke-dasharray="6,10" d="M1361.9 394.8L1352.1 399.8M1352.1 399.8L1352.9 392.4M1342.3 349.7L1341.9 352.9"/>
<polygon points="1301.9,340.2 1320.4,288.3 1309.7,349 1291.3,388.9"/>
<path fill="none" stroke-width="1.3" stroke-dasharray="6,10" d="M1309 348.2L1298.2 357M1312 311.9L1317.1 307.3"/>
<polygon points="1473.8,450.6 1492.3,446 1481.7,437.9 1463.2,442.5"/>
<polygon points="1254.3,441.5 1272.8,438.9 1262.1,438.9 1243.7,443.5"/>
<polygon points="1426.2,451.8 1444.7,447.1 1434.1,439 1415.6,443.6"/>
<polygon points="1206.7,444.4 1225.2,441 1214.5,440 1196.1,444.6"/>
<polygon points="1378.6,318.5 1397.1,408.9 1386.5,411.1 1368,374.2"/>
<path fill="none" stroke-width="1.3" stroke-dasharray="6,10" d="M1396 403.2L1385.2 396.7M1385.2 396.7L1379.2 396.6M1387.1 360L1381.9 356.9M1381.9 356.9L1371.4 356.6"/>
<polygon points="1159.1,453.9 1177.6,449.2 1166.9,441.1 1148.5,445.8"/>
<polygon points="1331,355.1 1349.5,394.7 1338.9,336 1320.4,288.3"/>
<path fill="none" stroke-width="1.3" stroke-dasharray="6,10" d="M1334.4 362.4L1341.9 352.9M1328 307.9L1324.3 312.8"/>
<polygon points="1503,454.1 1521.4,449.5 1510.8,441.4 1492.3,446"/>
<polygon points="1283.4,442.6 1301.9,340.2 1291.3,388.9 1272.8,438.9"/>
<path fill="none" stroke-width="1.3" stroke-dasharray="6,10" d="M1289.6 408.2L1289.7 399.5M1289.7 399.5L1287.9 397.8M1298.2 360.7L1298.2 357"/>
<polygon points="1455.4,455.2 1473.8,450.6 1463.2,442.5 1444.7,447.1"/>
<polygon points="1235.8,396 1254.3,441.5 1243.7,443.5 1225.2,441"/>
<path fill="none" stroke-width="1.3" stroke-dasharray="6,10" d="M1241.3 409.5L1237.8 407.7M1237.8 407.7L1232.9 408.6"/>
<polygon points="1407.8,429.3 1426.2,451.8 1415.6,443.6 1397.1,408.9"/>
<polygon points="1188.2,457.4 1206.7,444.4 1196.1,444.6 1177.6,449.2"/>
<polygon points="1360.2,371.5 1378.6,318.5 1368,374.2 1349.5,394.7"/>
<path fill="none" stroke-width="1.3" stroke-dasharray="6,10" d="M1361.9 366.3L1371.4 356.6"/>
<polygon points="1140.6,458.5 1159.1,453.9 1148.5,445.8 1130,450.4"/>
<polygon points="1312.6,416.2 1331,355.1 1320.4,288.3 1301.9,340.2"/>
<path fill="none" stroke-width="1.3" stroke-dasharray="6,10" d="M1328.4 363.9L1315.8 362.6M1315.8 362.6L1305 362.1M1324.3 312.8L1318.9 312.2M1318.9 312.2L1312 311.9"/>
<polygon points="1484.5,458.8 1503,454.1 1492.3,446 1473.8,450.6"/>
<polygon points="1265,441.9 1283.4,442.6 1272.8,438.9 1254.3,441.5"/>
<polygon points="1436.9,452.9 1455.4,455.2 1444.7,447.1 1426.2,451.8"/>
<polygon points="1217.4,375.1 1235.8,396 1225.2,441 1206.7,444.4"/>
<path fill="none" stroke-width="1.3" stroke-dasharray="6,10" d="M1232.9 408.6L1221.4 409M1221.4 409L1211.8 411.3"/>
<polygon points="1389.3,398 1407.8,429.3 1397.1,408.9 1378.6,318.5"/>
<path fill="none" stroke-width="1.3" stroke-dasharray="6,10" d="M1398.4 413.4L1395.1 406.1M1395.1 406.1L1396 403.2M1387.1 360L1385.2 367.1"/>
<polygon points="1169.8,462 1188.2,457.4 1177.6,449.2 1159.1,453.9"/>
<polygon points="1341.7,418.3 1360.2,371.5 1349.5,394.7 1331,355.1"/>
<path fill="none" stroke-width="1.3" stroke-dasharray="6,10" d="M1342.8 415L1341.4 416.5M1334.4 362.4L1332.6 364.5"/>
<polygon points="1513.6,462.2 1532.1,457.6 1521.4,449.5 1503,454.1"/>
<polygon points="1122.2,463.1 1140.6,458.5 1130,450.4 1111.5,455"/>
<polygon points="1294.1,427 1312.6,416.2 1301.9,340.2 1283.4,442.6"/>
<path fill="none" stroke-width="1.3" stroke-dasharray="6,10" d="M1312.1 412.9L1295 416.3M1295 416.3L1289.6 408.2M1305 362.1L1299.8 363.2M1299.8 363.2L1298.2 360.7"/>
<polygon points="1466,463.4 1484.5,458.8 1473.8,450.6 1455.4,455.2"/>
<polygon points="1246.5,383.1 1265,441.9 1254.3,441.5 1235.8,396"/>
<path fill="none" stroke-width="1.3" stroke-dasharray="6,10" d="M1256.9 416.4L1250.4 412.6M1250.4 412.6L1241.3 409.5"/>
<polygon points="1418.4,425.2 1436.9,452.9 1426.2,451.8 1407.8,429.3"/>
<polygon points="1198.9,449.5 1217.4,375.1 1206.7,444.4 1188.2,457.4"/>
<path fill="none" stroke-width="1.3" stroke-dasharray="6,10" d="M1206.7 418.2L1211.8 411.3"/>
<polygon points="1370.8,356.2 1389.3,398 1378.6,318.5 1360.2,371.5"/>
<path fill="none" stroke-width="1.3" stroke-dasharray="6,10" d="M1378.3 373L1385.2 367.1"/>
<polygon points="1151.3,466.6 1169.8,462 1159.1,453.9 1140.6,458.5"/>
<polygon points="1323.2,400.7 1341.7,418.3 1331,355.1 1312.6,416.2"/>
<path fill="none" stroke-width="1.3" stroke-dasharray="6,10" d="M1332.6 364.5L1329.1 366.4M1329.1 366.4L1328.4 363.9"/>
<polygon points="1495.1,459.4 1513.6,462.2 1503,454.1 1484.5,458.8"/>
<polygon points="1103.7,467.8 1122.2,463.1 1111.5,455 1093,459.6"/>
<polygon points="1275.6,440.7 1294.1,427 1283.4,442.6 1265,441.9"/>
<polygon points="1447.5,446.7 1466,463.4 1455.4,455.2 1436.9,452.9"/>
<polygon points="1228,345.9 1246.5,383.1 1235.8,396 1217.4,375.1"/>
<path fill="none" stroke-width="1.3" stroke-dasharray="6,10" d="M1242.3 374.7L1232 371.7M1232 371.7L1218.8 371.2"/>
<polygon points="1399.9,403.8 1418.4,425.2 1407.8,429.3 1389.3,398"/>
<path fill="none" stroke-width="1.3" stroke-dasharray="6,10" d="M1414.1 420.2L1404 417.1M1404 417.1L1398.4 413.4"/>
<polygon points="1180.4,470.1 1198.9,449.5 1188.2,457.4 1169.8,462"/>
<polygon points="1352.3,340 1370.8,356.2 1360.2,371.5 1341.7,418.3"/>
<path fill="none" stroke-width="1.3" stroke-dasharray="6,10" d="M1362.3 368.4L1359.3 368.1M1359.3 368.1L1347.5 375.8"/>
<polygon points="1524.3,470.4 1542.7,465.8 1532.1,457.6 1513.6,462.2"/>
<polygon points="1132.8,471.2 1151.3,466.6 1140.6,458.5 1122.2,463.1"/>
<polygon points="1304.7,462.3 1323.2,400.7 1312.6,416.2 1294.1,427"/>
<path fill="none" stroke-width="1.3" stroke-dasharray="6,10" d="M1316.5 423.1L1313.9 414.3"/>
<polygon points="1476.7,445.5 1495.1,459.4 1484.5,458.8 1466,463.4"/>
<polygon points="1085.2,472.4 1103.7,467.8 1093,459.6 1074.6,464.2"/>
<polygon points="1257.1,437.2 1275.6,440.7 1265,441.9 1246.5,383.1"/>
<path fill="none" stroke-width="1.3" stroke-dasharray="6,10" d="M1256.9 416.4L1254.8 425.4"/>
<polygon points="1429.1,425.8 1447.5,446.7 1436.9,452.9 1418.4,425.2"/>
<path fill="none" stroke-width="1.3" stroke-dasharray="6,10" d="M1429.3 426.8L1427 425.7"/>
<polygon points="1209.5,443.4 1228,345.9 1217.4,375.1 1198.9,449.5"/>
<path fill="none" stroke-width="1.3" stroke-dasharray="6,10" d="M1212.5 427.5L1211.7 424.8M1211.7 424.8L1206.7 418.2M1221.6 379.9L1218.8 371.2"/>
<polygon points="1381.5,370.3 1399.9,403.8 1389.3,398 1370.8,356.2"/>
<path fill="none" stroke-width="1.3" stroke-dasharray="6,10" d="M1387.6 381.5L1383.9 379M1383.9 379L1378.3 373"/>
<polygon points="1161.9,474.8 1180.4,470.1 1169.8,462 1151.3,466.6"/>
<polygon points="1333.9,354.7 1352.3,340 1341.7,418.3 1323.2,400.7"/>
<path fill="none" stroke-width="1.3" stroke-dasharray="6,10" d="M1347.5 375.8L1336.9 379.2M1336.9 379.2L1328.1 379.7"/>
<polygon points="1505.8,458.3 1524.3,470.4 1513.6,462.2 1495.1,459.4"/>
<polygon points="1114.3,475.9 1132.8,471.2 1122.2,463.1 1103.7,467.8"/>
<polygon points="1286.3,443.7 1304.7,462.3 1294.1,427 1275.6,440.7"/>
<polygon points="1458.2,412.8 1476.7,445.5 1466,463.4 1447.5,446.7"/>
<path fill="none" stroke-width="1.3" stroke-dasharray="6,10" d="M1467.1 428.5L1460.4 427.1M1460.4 427.1L1453.6 427.3"/>
<polygon points="1238.7,405.8 1257.1,437.2 1246.5,383.1 1228,345.9"/>
<path fill="none" stroke-width="1.3" stroke-dasharray="6,10" d="M1252 428.4L1254.8 425.4M1242.3 374.7L1234.7 383.4"/>
<polygon points="1410.6,356.7 1429.1,425.8 1418.4,425.2 1399.9,403.8"/>
<path fill="none" stroke-width="1.3" stroke-dasharray="6,10" d="M1427 425.7L1417.8 420.1M1417.8 420.1L1414.1 420.2M1418.1 384.7L1413.5 381.9M1413.5 381.9L1404.8 382.1"/>
<polygon points="1191.1,478.2 1209.5,443.4 1198.9,449.5 1180.4,470.1"/>
<polygon points="1363,346.1 1381.5,370.3 1370.8,356.2 1352.3,340"/>
<polygon points="1534.9,478.5 1553.4,473.9 1542.7,465.8 1524.3,470.4"/>
<polygon points="1143.5,479.4 1161.9,474.8 1151.3,466.6 1132.8,471.2"/>
<polygon points="1315.4,350 1333.9,354.7 1323.2,400.7 1304.7,462.3"/>
<path fill="none" stroke-width="1.3" stroke-dasharray="6,10" d="M1316.5 423.1L1307.9 428.5M1328.1 379.7L1320.2 381M1320.2 381L1312 386.2"/>
<polygon points="1487.3,395.8 1505.8,458.3 1495.1,459.4 1476.7,445.5"/>
<path fill="none" stroke-width="1.3" stroke-dasharray="6,10" d="M1497.9 431.6L1491.3 427.8M1491.3 427.8L1480.2 428.9"/>
<polygon points="1095.9,480.5 1114.3,475.9 1103.7,467.8 1085.2,472.4"/>
<polygon points="1267.8,402 1286.3,443.7 1275.6,440.7 1257.1,437.2"/>
<path fill="none" stroke-width="1.3" stroke-dasharray="6,10" d="M1281.1 431.9L1272.9 427M1272.9 427L1259.6 429"/>
<polygon points="1439.7,396.5 1458.2,412.8 1447.5,446.7 1429.1,425.8"/>
<path fill="none" stroke-width="1.3" stroke-dasharray="6,10" d="M1453.6 427.3L1444.5 427.5M1444.5 427.5L1430.1 427"/>
<polygon points="1220.2,446.1 1238.7,405.8 1228,345.9 1209.5,443.4"/>
<path fill="none" stroke-width="1.3" stroke-dasharray="6,10" d="M1225.2 435.1L1221.1 435M1221.1 435L1212.5 427.5M1234.7 383.4L1225.1 383M1225.1 383L1221.6 379.9"/>
<polygon points="1392.1,287.2 1410.6,356.7 1399.9,403.8 1381.5,370.3"/>
<path fill="none" stroke-width="1.3" stroke-dasharray="6,10" d="M1404.8 382.1L1398.4 380.9M1398.4 380.9L1387.6 381.5M1406.7 342.1L1395.7 340M1395.7 340L1385.3 340.6M1395.4 299.6L1392.9 299.1"/>
<polygon points="1172.6,482.9 1191.1,478.2 1180.4,470.1 1161.9,474.8"/>
<polygon points="1344.5,285.8 1363,346.1 1352.3,340 1333.9,354.7"/>
<path fill="none" stroke-width="1.3" stroke-dasharray="6,10" d="M1361.9 342.6L1351.7 335.3M1351.7 335.3L1336.1 340.5M1349 300.4L1346.4 298.6M1346.4 298.6L1342.3 299.9"/>
<polygon points="1516.4,466.4 1534.9,478.5 1524.3,470.4 1505.8,458.3"/>
<polygon points="1125,484 1143.5,479.4 1132.8,471.2 1114.3,475.9"/>
<polygon points="1296.9,303.1 1315.4,350 1304.7,462.3 1286.3,443.7"/>
<path fill="none" stroke-width="1.3" stroke-dasharray="6,10" d="M1307.9 428.5L1303.1 428.7M1303.1 428.7L1287.2 431.4M1312 386.2L1301 386.7M1301 386.7L1290.4 388.5M1313 344L1299 344.7M1299 344.7L1293.7 345.6"/>
<polygon points="1468.8,363.3 1487.3,395.8 1476.7,445.5 1458.2,412.8"/>
<path fill="none" stroke-width="1.3" stroke-dasharray="6,10" d="M1480.2 428.9L1475.1 428.7M1475.1 428.7L1467.1 428.5M1483.9 389.8L1471.3 389.5M1471.3 389.5L1463.2 389.3"/>
<polygon points="1249.3,322 1267.8,402 1257.1,437.2 1238.7,405.8"/>
<path fill="none" stroke-width="1.3" stroke-dasharray="6,10" d="M1259.6 429L1256.5 428.1M1256.5 428.1L1252 428.4M1265.2 390.6L1253.8 387.3M1253.8 387.3L1240.9 388.1M1255.3 347.7L1251 346.5M1251 346.5L1246.2 346.8"/>
<polygon points="1421.2,317.5 1439.7,396.5 1429.1,425.8 1410.6,356.7"/>
<path fill="none" stroke-width="1.3" stroke-dasharray="6,10" d="M1438.3 390.4L1426.2 386.5M1426.2 386.5L1418.1 384.7M1428.3 347.5L1423.3 345.9M1423.3 345.9L1414.1 343.8"/>
<polygon points="1201.7,477.7 1220.2,446.1 1209.5,443.4 1191.1,478.2"/>
<polygon points="1373.6,296.5 1392.1,287.2 1381.5,370.3 1363,346.1"/>
<path fill="none" stroke-width="1.3" stroke-dasharray="6,10" d="M1385.3 340.6L1378.5 342.5M1378.5 342.5L1363.7 342.8M1390.6 299.3L1374.4 303.8"/>
<polygon points="1545.6,486.6 1564,482 1553.4,473.9 1534.9,478.5"/>
<polygon points="1154.1,487.5 1172.6,482.9 1161.9,474.8 1143.5,479.4"/>
<polygon points="1326,288.4 1344.5,285.8 1333.9,354.7 1315.4,350"/>
<path fill="none" stroke-width="1.3" stroke-dasharray="6,10" d="M1336.1 340.5L1332.3 341.4M1332.3 341.4L1316.4 344.2M1342.3 299.9L1327.8 303.3M1327.8 303.3L1323.3 304.1"/>
<polygon points="1498,450.4 1516.4,466.4 1505.8,458.3 1487.3,395.8"/>
<path fill="none" stroke-width="1.3" stroke-dasharray="6,10" d="M1497.9 431.6L1496.1 441"/>
<polygon points="1106.5,488.6 1125,484 1114.3,475.9 1095.9,480.5"/>
<polygon points="1278.4,234.7 1296.9,303.1 1286.3,443.7 1267.8,402"/>
<path fill="none" stroke-width="1.3" stroke-dasharray="6,10" d="M1285.8 431.4L1281.1 431.9M1290.4 388.5L1284.2 388.6M1284.2 388.6L1268.5 390.5M1293.7 345.6L1282.6 345.9M1282.6 345.9L1271.3 347.2M1296.8 302.7L1281 303.1M1281 303.1L1274 303.9M1285.3 260.2L1279.4 260.4M1279.4 260.4L1276.8 260.7"/>
<polygon points="1450.4,216.7 1468.8,363.3 1458.2,412.8 1439.7,396.5"/>
<path fill="none" stroke-width="1.3" stroke-dasharray="6,10" d="M1463.2 389.3L1457.2 387.1M1457.2 387.1L1440.1 390.3M1467 348.6L1455.5 344.5M1455.5 344.5L1442.6 346.9M1461.4 304.7L1453.8 301.9M1453.8 301.9L1445.2 303.5M1455.9 260.7L1452.1 259.3M1452.1 259.3L1447.8 260.1"/>
<polygon points="1230.8,362.9 1249.3,322 1238.7,405.8 1220.2,446.1"/>
<path fill="none" stroke-width="1.3" stroke-dasharray="6,10" d="M1225.2 435.1L1221.3 437.3M1240.9 388.1L1235.9 390.8M1235.9 390.8L1226.6 395.9M1235.5 352.6L1246.2 346.8"/>
<polygon points="1402.8,261.3 1421.2,317.5 1410.6,356.7 1392.1,287.2"/>
<path fill="none" stroke-width="1.3" stroke-dasharray="6,10" d="M1414.1 343.8L1409.5 343M1409.5 343L1406.7 342.1M1417.1 305L1406.2 303M1406.2 303L1395.4 299.6"/>
<polygon points="1183.2,491 1201.7,477.7 1191.1,478.2 1172.6,482.9"/>
<polygon points="1355.2,269.6 1373.6,296.5 1363,346.1 1344.5,285.8"/>
<path fill="none" stroke-width="1.3" stroke-dasharray="6,10" d="M1372.1 303.9L1358.7 304M1358.7 304L1349 300.4"/>
<polygon points="1527.1,483.7 1545.6,486.6 1534.9,478.5 1516.4,466.4"/>
<polygon points="1135.6,492.1 1154.1,487.5 1143.5,479.4 1125,484"/>
<polygon points="1307.6,245 1326,288.4 1315.4,350 1296.9,303.1"/>
<path fill="none" stroke-width="1.3" stroke-dasharray="6,10" d="M1323.3 304.1L1311.9 303.7M1311.9 303.7L1297 302.7M1315.4 263.5L1308.9 263.2M1308.9 263.2L1304.3 262.9"/>
<polygon points="1479.5,374.7 1498,450.4 1487.3,395.8 1468.8,363.3"/>
<path fill="none" stroke-width="1.3" stroke-dasharray="6,10" d="M1485.7 400.1L1485.7 391.5M1485.7 391.5L1483.9 389.8"/>
<polygon points="1260,356.9 1278.4,234.7 1267.8,402 1249.3,322"/>
<path fill="none" stroke-width="1.3" stroke-dasharray="6,10" d="M1268.5 390.5L1266.2 392.6M1266.2 392.6L1265.2 390.6M1271.3 347.2L1260 357.2M1260 357.2L1255.3 347.7M1267 310.2L1274 303.9M1274.2 263L1276.8 260.7"/>
<polygon points="1431.9,260.9 1450.4,216.7 1439.7,396.5 1421.2,317.5"/>
<path fill="none" stroke-width="1.3" stroke-dasharray="6,10" d="M1442.6 346.9L1437 349.1M1437 349.1L1428.3 347.5M1445.2 303.5L1434.6 307.7M1434.6 307.7L1423.5 305.6M1447.8 260.1L1432.2 266.2"/>
<polygon points="1212.4,476.1 1230.8,362.9 1220.2,446.1 1201.7,477.7"/>
<path fill="none" stroke-width="1.3" stroke-dasharray="6,10" d="M1216.9 448L1221.3 437.3M1224.7 400.7L1226.6 395.9"/>
<polygon points="1384.3,229.9 1402.8,261.3 1392.1,287.2 1373.6,296.5"/>
<path fill="none" stroke-width="1.3" stroke-dasharray="6,10" d="M1402.2 262.8L1388.5 260.9M1388.5 260.9L1378.9 263.7"/>
<polygon points="1556.2,494.8 1574.7,490.1 1564,482 1545.6,486.6"/>
<polygon points="1164.8,495.6 1183.2,491 1172.6,482.9 1154.1,487.5"/>
<polygon points="1336.7,310.4 1355.2,269.6 1344.5,285.8 1326,288.4"/>
<polygon points="1508.6,470.9 1527.1,483.7 1516.4,466.4 1498,450.4"/>
<polygon points="1117.2,496.8 1135.6,492.1 1125,484 1106.5,488.6"/>
<polygon points="1289.1,251.9 1307.6,245 1296.9,303.1 1278.4,234.7"/>
<path fill="none" stroke-width="1.3" stroke-dasharray="6,10" d="M1304.3 262.9L1291.3 266.5M1291.3 266.5L1285.3 260.2"/>
<polygon points="1461,379.6 1479.5,374.7 1468.8,363.3 1450.4,216.7"/>
<path fill="none" stroke-width="1.3" stroke-dasharray="6,10" d="M1467 348.6L1459.7 359.9M1461.4 304.7L1456.6 312.2M1455.9 260.7L1453.5 264.5"/>
<polygon points="1241.5,432.4 1260,356.9 1249.3,322 1230.8,362.9"/>
<path fill="none" stroke-width="1.3" stroke-dasharray="6,10" d="M1248 405.6L1243.5 404M1243.5 404L1237.1 404M1259.9 357.3L1247.1 352.7M1247.1 352.7L1235.5 352.6"/>
<polygon points="1413.4,225.3 1431.9,260.9 1421.2,317.5 1402.8,261.3"/>
<path fill="none" stroke-width="1.3" stroke-dasharray="6,10" d="M1423.5 305.6L1420.2 305.6M1420.2 305.6L1417.1 305M1430.9 266L1416.8 265.7M1416.8 265.7L1403.3 263.1"/>
<polygon points="1193.9,499.1 1212.4,476.1 1201.7,477.7 1183.2,491"/>
<polygon points="1365.8,282.7 1384.3,229.9 1373.6,296.5 1355.2,269.6"/>
<path fill="none" stroke-width="1.3" stroke-dasharray="6,10" d="M1369.8 271.5L1378.9 263.7"/>
<polygon points="1537.7,499.4 1556.2,494.8 1545.6,486.6 1527.1,483.7"/>
<polygon points="1146.3,500.2 1164.8,495.6 1154.1,487.5 1135.6,492.1"/>
<polygon points="1318.2,304.8 1336.7,310.4 1326,288.4 1307.6,245"/>
<path fill="none" stroke-width="1.3" stroke-dasharray="6,10" d="M1315.4 263.5L1311.8 268.7"/>
<polygon points="1490.1,460.2 1508.6,470.9 1498,450.4 1479.5,374.7"/>
<path fill="none" stroke-width="1.3" stroke-dasharray="6,10" d="M1496.1 442.9L1489.4 454.6M1485.7 400.1L1483.2 404.5"/>
<polygon points="1270.6,394.3 1289.1,251.9 1278.4,234.7 1260,356.9"/>
<path fill="none" stroke-width="1.3" stroke-dasharray="6,10" d="M1274.5 364.4L1272.2 362.9M1272.2 362.9L1260.1 357.4M1280.6 317.6L1274.6 313.6M1274.6 313.6L1267 310.2M1286.7 270.7L1277 264.3M1277 264.3L1274.2 263"/>
<polygon points="1442.5,347.8 1461,379.6 1450.4,216.7 1431.9,260.9"/>
<path fill="none" stroke-width="1.3" stroke-dasharray="6,10" d="M1451.5 363.3L1459.7 359.9M1456.6 312.2L1444.4 317.2M1444.4 317.2L1438.8 317.3M1453.5 264.5L1447.4 267M1447.4 267L1432.7 267.3"/>
<polygon points="1223,484.1 1241.5,432.4 1230.8,362.9 1212.4,476.1"/>
<path fill="none" stroke-width="1.3" stroke-dasharray="6,10" d="M1233.5 454.6L1224.9 454.1M1224.9 454.1L1216.9 448M1237.1 404L1228.2 403.4M1228.2 403.4L1224.7 400.7"/>
<polygon points="1394.9,203.1 1413.4,225.3 1402.8,261.3 1384.3,229.9"/>
<path fill="none" stroke-width="1.3" stroke-dasharray="6,10" d="M1413.2 225.8L1398 225.7M1398 225.7L1386.5 224.2"/>
<polygon points="1566.9,502.9 1585.3,498.2 1574.7,490.1 1556.2,494.8"/>
<polygon points="1175.4,503.8 1193.9,499.1 1183.2,491 1164.8,495.6"/>
<polygon points="1347.3,269.1 1365.8,282.7 1355.2,269.6 1336.7,310.4"/>
<path fill="none" stroke-width="1.3" stroke-dasharray="6,10" d="M1355.4 275.1L1352.1 269.4M1352.1 269.4L1345.6 275.8"/>
<polygon points="1519.3,504 1537.7,499.4 1527.1,483.7 1508.6,470.9"/>
<polygon points="1127.8,504.9 1146.3,500.2 1135.6,492.1 1117.2,496.8"/>
<polygon points="1299.7,385.8 1318.2,304.8 1307.6,245 1289.1,251.9"/>
<path fill="none" stroke-width="1.3" stroke-dasharray="6,10" d="M1303.8 367.9L1300.8 367.2M1300.8 367.2L1298.3 367.8M1314.8 319.8L1303.5 317.4M1303.5 317.4L1294.5 319.5M1311.8 268.7L1306.3 267.5M1306.3 267.5L1290.6 271.2"/>
<polygon points="1471.7,454 1490.1,460.2 1479.5,374.7 1461,379.6"/>
<path fill="none" stroke-width="1.3" stroke-dasharray="6,10" d="M1481.5 457.3L1489.4 454.6M1483.2 404.5L1476.3 406.8M1476.3 406.8L1465.3 409.5"/>
<polygon points="1252.1,424.5 1270.6,394.3 1260,356.9 1241.5,432.4"/>
<path fill="none" stroke-width="1.3" stroke-dasharray="6,10" d="M1258.7 413.8L1253.4 413.3M1253.4 413.3L1248 405.6"/>
<polygon points="1424.1,271.3 1442.5,347.8 1431.9,260.9 1413.4,225.3"/>
<path fill="none" stroke-width="1.3" stroke-dasharray="6,10" d="M1436.3 321.8L1438.8 317.3M1425.9 279L1432.7 267.3"/>
<polygon points="1204.5,507.2 1223,484.1 1212.4,476.1 1193.9,499.1"/>
<polygon points="1376.5,185.3 1394.9,203.1 1384.3,229.9 1365.8,282.7"/>
<path fill="none" stroke-width="1.3" stroke-dasharray="6,10" d="M1369.8 271.5L1366.9 273.2M1386.5 224.2L1383.3 224.1M1383.3 224.1L1371.4 231.4M1380.2 188.9L1377.1 188.8"/>
<polygon points="1548.4,507.5 1566.9,502.9 1556.2,494.8 1537.7,499.4"/>
<polygon points="1156.9,508.4 1175.4,503.8 1164.8,495.6 1146.3,500.2"/>
<polygon points="1328.9,344.3 1347.3,269.1 1336.7,310.4 1318.2,304.8"/>
<path fill="none" stroke-width="1.3" stroke-dasharray="6,10" d="M1333.4 325.9L1335.2 316.7M1335.2 316.7L1323 322.6"/>
<polygon points="1500.8,500.7 1519.3,504 1508.6,470.9 1490.1,460.2"/>
<polygon points="1281.3,459.4 1299.7,385.8 1289.1,251.9 1270.6,394.3"/>
<path fill="none" stroke-width="1.3" stroke-dasharray="6,10" d="M1292.1 416.2L1282.9 416.3M1282.9 416.3L1273.7 413.1M1298.3 367.8L1284.7 367.9M1284.7 367.9L1274.5 364.4M1294.5 319.5L1286.5 319.6M1286.5 319.6L1280.6 317.6"/>
<polygon points="1453.2,400.1 1471.7,454 1461,379.6 1442.5,347.8"/>
<path fill="none" stroke-width="1.3" stroke-dasharray="6,10" d="M1459.2 417.5L1465.3 409.5M1451.5 363.3L1446.8 368.8"/>
<polygon points="1233.7,500.7 1252.1,424.5 1241.5,432.4 1223,484.1"/>
<path fill="none" stroke-width="1.3" stroke-dasharray="6,10" d="M1242.8 463.1L1238.6 457.3M1238.6 457.3L1233.5 454.6"/>
<polygon points="1405.6,297.6 1424.1,271.3 1413.4,225.3 1394.9,203.1"/>
<path fill="none" stroke-width="1.3" stroke-dasharray="6,10" d="M1417.1 281.2L1407.4 281.2M1407.4 281.2L1403.9 282.8M1413.3 226.1L1398.3 233.2"/>
<polygon points="1577.5,511 1596,506.4 1585.3,498.2 1566.9,502.9"/>
<polygon points="1186.1,511.9 1204.5,507.2 1193.9,499.1 1175.4,503.8"/>
<polygon points="1358,261.2 1376.5,185.3 1365.8,282.7 1347.3,269.1"/>
<path fill="none" stroke-width="1.3" stroke-dasharray="6,10" d="M1366.9 273.2L1363.5 276.3M1363.5 276.3L1355.4 275.1M1363.5 238.5L1371.4 231.4"/>
<polygon points="1529.9,512.1 1548.4,507.5 1537.7,499.4 1519.3,504"/>
<polygon points="1138.5,513 1156.9,508.4 1146.3,500.2 1127.8,504.9"/>
<polygon points="1310.4,403.4 1328.9,344.3 1318.2,304.8 1299.7,385.8"/>
<path fill="none" stroke-width="1.3" stroke-dasharray="6,10" d="M1319.3 374.8L1312.8 373.1M1312.8 373.1L1303.8 367.9M1323 322.6L1316.9 321M1316.9 321L1314.8 319.8"/>
<polygon points="1482.3,502.1 1500.8,500.7 1490.1,460.2 1471.7,454"/>
<path fill="none" stroke-width="1.3" stroke-dasharray="6,10" d="M1481.5 457.3L1473.2 460.9"/>
<polygon points="1262.8,482.8 1281.3,459.4 1270.6,394.3 1252.1,424.5"/>
<path fill="none" stroke-width="1.3" stroke-dasharray="6,10" d="M1276.5 465.5L1264.2 466.5M1264.2 466.5L1259.8 466.6M1273.7 413.1L1268.9 413.5M1268.9 413.5L1258.7 413.8"/>
<polygon points="1434.7,396.9 1453.2,400.1 1442.5,347.8 1424.1,271.3"/>
<path fill="none" stroke-width="1.3" stroke-dasharray="6,10" d="M1446.8 368.8L1438.7 371.8M1438.7 371.8L1433 377M1436.3 321.8L1428.9 328.5"/>
<polygon points="1215.2,515.4 1233.7,500.7 1223,484.1 1204.5,507.2"/>
<polygon points="1387.1,271.2 1405.6,297.6 1394.9,203.1 1376.5,185.3"/>
<path fill="none" stroke-width="1.3" stroke-dasharray="6,10" d="M1397.5 286.1L1403.9 282.8M1398.3 233.2L1391.1 236.9M1391.1 236.9L1383.3 240.4M1380.2 188.9L1377.1 190.3"/>
<polygon points="1559,515.6 1577.5,511 1566.9,502.9 1548.4,507.5"/>
<polygon points="1167.6,516.5 1186.1,511.9 1175.4,503.8 1156.9,508.4"/>
<polygon points="1339.5,381.7 1358,261.2 1347.3,269.1 1328.9,344.3"/>
<path fill="none" stroke-width="1.3" stroke-dasharray="6,10" d="M1346.9 333.3L1343.2 329.2M1343.2 329.2L1333.4 325.9M1354.2 286.2L1346.7 278.1"/>
<polygon points="1511.4,516.8 1529.9,512.1 1519.3,504 1500.8,500.7"/>
<polygon points="1291.9,444.6 1310.4,403.4 1299.7,385.8 1281.3,459.4"/>
<path fill="none" stroke-width="1.3" stroke-dasharray="6,10" d="M1300.8 424.8L1294.9 422.2M1294.9 422.2L1292.1 416.2"/>
<polygon points="1463.8,488.8 1482.3,502.1 1471.7,454 1453.2,400.1"/>
<path fill="none" stroke-width="1.3" stroke-dasharray="6,10" d="M1473.2 460.9L1469.6 463.1M1469.6 463.1L1461.7 470.9M1459.2 417.5L1455.7 420.9"/>
<polygon points="1244.3,505 1262.8,482.8 1252.1,424.5 1233.7,500.7"/>
<path fill="none" stroke-width="1.3" stroke-dasharray="6,10" d="M1259.8 466.6L1247.9 467.6M1247.9 467.6L1242.8 463.1"/>
<polygon points="1416.2,292.2 1434.7,396.9 1424.1,271.3 1405.6,297.6"/>
<path fill="none" stroke-width="1.3" stroke-dasharray="6,10" d="M1431.6 379.1L1433 377M1423.9 335.6L1428.9 328.5"/>
<polygon points="1588.2,519.1 1606.6,514.5 1596,506.4 1577.5,511"/>
<polygon points="1196.7,520 1215.2,515.4 1204.5,507.2 1186.1,511.9"/>
<polygon points="1368.6,225.3 1387.1,271.2 1376.5,185.3 1358,261.2"/>
<path fill="none" stroke-width="1.3" stroke-dasharray="6,10" d="M1376.9 245.9L1383.3 240.4M1363.5 238.5L1363.1 243.8M1377.1 190.3L1375.2 192"/>
<polygon points="1540.6,520.2 1559,515.6 1548.4,507.5 1529.9,512.1"/>
<polygon points="1149.1,521.1 1167.6,516.5 1156.9,508.4 1138.5,513"/>
<polygon points="1321,431.3 1339.5,381.7 1328.9,344.3 1310.4,403.4"/>
<path fill="none" stroke-width="1.3" stroke-dasharray="6,10" d="M1339.1 380.2L1325.9 377.2M1325.9 377.2L1319.3 374.8"/>
<polygon points="1493,521.4 1511.4,516.8 1500.8,500.7 1482.3,502.1"/>
<polygon points="1273.4,461.5 1291.9,444.6 1281.3,459.4 1262.8,482.8"/>
<path fill="none" stroke-width="1.3" stroke-dasharray="6,10" d="M1276.5 465.5L1267.8 472.7"/>
<polygon points="1445.4,292.5 1463.8,488.8 1453.2,400.1 1434.7,396.9"/>
<path fill="none" stroke-width="1.3" stroke-dasharray="6,10" d="M1462.3 472.9L1461.7 470.9M1458.2 428.6L1455.7 420.9M1454 384.3L1451.5 376.5M1451.5 376.5L1436.5 379.6M1449.8 339.9L1448.5 335.9M1448.5 335.9L1440.8 337.6"/>
<polygon points="1225.8,523.5 1244.3,505 1233.7,500.7 1215.2,515.4"/>
<polygon points="1397.8,359.1 1416.2,292.2 1405.6,297.6 1387.1,271.2"/>
<path fill="none" stroke-width="1.3" stroke-dasharray="6,10" d="M1402.8 340.9L1400.5 337.8M1400.5 337.8L1395.5 340.5M1397.5 286.1L1389.4 290.5"/>
<polygon points="1569.7,523.8 1588.2,519.1 1577.5,511 1559,515.6"/>
<polygon points="1178.2,524.6 1196.7,520 1186.1,511.9 1167.6,516.5"/>
<polygon points="1350.2,361.4 1368.6,225.3 1358,261.2 1339.5,381.7"/>
<path fill="none" stroke-width="1.3" stroke-dasharray="6,10" d="M1352.7 342.7L1351.8 340.7M1351.8 340.7L1346.9 333.3M1359.1 295.7L1355.8 288.7M1355.8 288.7L1354.2 286.2M1365.4 248.8L1363.1 243.8"/>
<polygon points="1522.1,524.9 1540.6,520.2 1529.9,512.1 1511.4,516.8"/>
<polygon points="1302.6,408.9 1321,431.3 1310.4,403.4 1291.9,444.6"/>
<path fill="none" stroke-width="1.3" stroke-dasharray="6,10" d="M1300.8 424.8L1296.2 430.3"/>
<polygon points="1474.5,515 1493,521.4 1482.3,502.1 1463.8,488.8"/>
<polygon points="1255,490.2 1273.4,461.5 1262.8,482.8 1244.3,505"/>
<path fill="none" stroke-width="1.3" stroke-dasharray="6,10" d="M1261.5 480L1267.8 472.7"/>
<polygon points="1426.9,372.9 1445.4,292.5 1434.7,396.9 1416.2,292.2"/>
<path fill="none" stroke-width="1.3" stroke-dasharray="6,10" d="M1436.5 379.6L1430.7 384.8M1430.7 384.8L1431.6 379.1M1433.5 344L1440.8 337.6M1423.9 335.6L1422.9 342.6"/>
<polygon points="1598.8,527.2 1617.3,522.6 1606.6,514.5 1588.2,519.1"/>
<polygon points="1207.4,528.1 1225.8,523.5 1215.2,515.4 1196.7,520"/>
<polygon points="1379.3,324.1 1397.8,359.1 1387.1,271.2 1368.6,225.3"/>
<path fill="none" stroke-width="1.3" stroke-dasharray="6,10" d="M1389.9 344.2L1395.5 340.5M1389.4 290.5L1383.7 294.3M1383.7 294.3L1376.6 299.4M1376.9 245.9L1371.3 250"/>
<polygon points="1551.2,528.4 1569.7,523.8 1559,515.6 1540.6,520.2"/>
<polygon points="1159.8,529.2 1178.2,524.6 1167.6,516.5 1149.1,521.1"/>
<polygon points="1331.7,450.5 1350.2,361.4 1339.5,381.7 1321,431.3"/>
<path fill="none" stroke-width="1.3" stroke-dasharray="6,10" d="M1334.3 438L1333.3 436M1333.3 436L1321.4 430.4M1344.2 390.2L1340 380.9"/>
<polygon points="1503.6,529.5 1522.1,524.9 1511.4,516.8 1493,521.4"/>
<polygon points="1284.1,486 1302.6,408.9 1291.9,444.6 1273.4,461.5"/>
<path fill="none" stroke-width="1.3" stroke-dasharray="6,10" d="M1295.9 436.8L1296.2 430.3"/>
<polygon points="1456,495 1474.5,515 1463.8,488.8 1445.4,292.5"/>
<path fill="none" stroke-width="1.3" stroke-dasharray="6,10" d="M1462.3 472.9L1455.5 484.9M1458.2 428.6L1453 437.6M1454 384.3L1450.5 390.3M1449.8 339.9L1448 343.1"/>
<polygon points="1236.5,522.5 1255,490.2 1244.3,505 1225.8,523.5"/>
<polygon points="1408.4,513.6 1426.9,372.9 1416.2,292.2 1397.8,359.1"/>
<path fill="none" stroke-width="1.3" stroke-dasharray="6,10" d="M1412.1 485.5L1409.4 484.7M1409.4 484.7L1406.4 484.9M1418.3 438.6L1411.1 436.6M1411.1 436.6L1403.1 437M1424.4 391.7L1412.8 388.5M1412.8 388.5L1399.8 389.1M1422.9 342.6L1414.5 340.3M1414.5 340.3L1402.8 340.9"/>
<polygon points="1580.3,531.9 1598.8,527.2 1588.2,519.1 1569.7,523.8"/>
<polygon points="1188.9,532.8 1207.4,528.1 1196.7,520 1178.2,524.6"/>
<polygon points="1360.8,432.4 1379.3,324.1 1368.6,225.3 1350.2,361.4"/>
<path fill="none" stroke-width="1.3" stroke-dasharray="6,10" d="M1367.2 395.2L1362.2 394.5M1362.2 394.5L1354.8 392.2M1375.2 347.8L1364.1 346.1M1364.1 346.1L1352.7 342.7M1376.6 299.4L1365.9 297.8M1365.9 297.8L1359.1 295.7M1371.3 250L1367.7 249.5M1367.7 249.5L1365.4 248.8"/>
<polygon points="1532.7,533 1551.2,528.4 1540.6,520.2 1522.1,524.9"/>
<polygon points="1313.2,485.2 1331.7,450.5 1321,431.3 1302.6,408.9"/>
<path fill="none" stroke-width="1.3" stroke-dasharray="6,10" d="M1320.5 430.7L1306.7 438.3"/>
<polygon points="1485.1,523 1503.6,529.5 1493,521.4 1474.5,515"/>
<polygon points="1265.6,491.1 1284.1,486 1273.4,461.5 1255,490.2"/>
<path fill="none" stroke-width="1.3" stroke-dasharray="6,10" d="M1283.5 484.7L1266.2 488.7M1266.2 488.7L1261.5 480"/>
<polygon points="1437.5,454.2 1456,495 1445.4,292.5 1426.9,372.9"/>
<path fill="none" stroke-width="1.3" stroke-dasharray="6,10" d="M1452.1 486.3L1455.5 484.9M1453 437.6L1438 443.7M1450.5 390.3L1440.4 394.5M1440.4 394.5L1429.5 393.1M1448 343.1L1442.8 345.2M1442.8 345.2L1433.5 344"/>
<polygon points="1609.5,535.4 1627.9,530.8 1617.3,522.6 1598.8,527.2"/>
<polygon points="1218,536.2 1236.5,522.5 1225.8,523.5 1207.4,528.1"/>
<polygon points="1389.9,500.1 1408.4,513.6 1397.8,359.1 1379.3,324.1"/>
<path fill="none" stroke-width="1.3" stroke-dasharray="6,10" d="M1406.4 484.9L1390.5 490.1M1403.1 437L1393.3 440.2M1393.3 440.2L1386.5 443M1399.8 389.1L1396 390.4M1396 390.4L1383.6 395.5M1389.9 344.2L1380.7 347.9"/>
<polygon points="1561.9,536.5 1580.3,531.9 1569.7,523.8 1551.2,528.4"/>
<polygon points="1170.4,537.4 1188.9,532.8 1178.2,524.6 1159.8,529.2"/>
<polygon points="1342.3,490.3 1360.8,432.4 1350.2,361.4 1331.7,450.5"/>
<path fill="none" stroke-width="1.3" stroke-dasharray="6,10" d="M1357.4 443L1345.3 442M1345.3 442L1334.3 438M1354.8 392.2L1348.3 391.7M1348.3 391.7L1344.2 390.2"/>
<polygon points="1514.3,537.6 1532.7,533 1522.1,524.9 1503.6,529.5"/>
<polygon points="1294.7,502.3 1313.2,485.2 1302.6,408.9 1284.1,486"/>
<path fill="none" stroke-width="1.3" stroke-dasharray="6,10" d="M1308.1 489.9L1295.6 491.8M1295.6 491.8L1284.3 485.1M1306.7 438.3L1300 439.3M1300 439.3L1295.9 436.8"/>
<polygon points="1466.7,501.6 1485.1,523 1474.5,515 1456,495"/>
<polygon points="1247.1,528.8 1265.6,491.1 1255,490.2 1236.5,522.5"/>
<polygon points="1419.1,493.5 1437.5,454.2 1426.9,372.9 1408.4,513.6"/>
<path fill="none" stroke-width="1.3" stroke-dasharray="6,10" d="M1412.1 485.5L1418.7 494.2M1436.1 443.5L1422.3 443.9M1422.3 443.9L1418.3 438.6M1429.5 393.1L1425.6 393.2M1425.6 393.2L1424.4 391.7"/>
<polygon points="1591,540 1609.5,535.4 1598.8,527.2 1580.3,531.9"/>
<polygon points="1199.5,540.9 1218,536.2 1207.4,528.1 1188.9,532.8"/>
<polygon points="1371.5,500.4 1389.9,500.1 1379.3,324.1 1360.8,432.4"/>
<path fill="none" stroke-width="1.3" stroke-dasharray="6,10" d="M1389.4 490.6L1371.7 495.3M1386.5 443L1373.9 446.4M1373.9 446.4L1362.5 443.5M1383.6 395.5L1376 397.5M1376 397.5L1367.2 395.2M1380.7 347.9L1378.2 348.6M1378.2 348.6L1375.2 347.8"/>
<polygon points="1543.4,541.1 1561.9,536.5 1551.2,528.4 1532.7,533"/>
<polygon points="1323.9,526.9 1342.3,490.3 1331.7,450.5 1313.2,485.2"/>
<path fill="none" stroke-width="1.3" stroke-dasharray="6,10" d="M1341.3 492.4L1327.6 490.7M1327.6 490.7L1314.3 489.5"/>
<polygon points="1495.8,534.8 1514.3,537.6 1503.6,529.5 1485.1,523"/>
<polygon points="1276.3,522.3 1294.7,502.3 1284.1,486 1265.6,491.1"/>
<polygon points="1448.2,513.4 1466.7,501.6 1456,495 1437.5,454.2"/>
<path fill="none" stroke-width="1.3" stroke-dasharray="6,10" d="M1452.1 486.3L1445 495.6"/>
<polygon points="1228.7,544.4 1247.1,528.8 1236.5,522.5 1218,536.2"/>
<polygon points="1400.6,520.7 1419.1,493.5 1408.4,513.6 1389.9,500.1"/>
<polygon points="1572.5,544.6 1591,540 1580.3,531.9 1561.9,536.5"/>
<polygon points="1181.1,545.5 1199.5,540.9 1188.9,532.8 1170.4,537.4"/>
<polygon points="1353,531.1 1371.5,500.4 1360.8,432.4 1342.3,490.3"/>
<path fill="none" stroke-width="1.3" stroke-dasharray="6,10" d="M1370.6 495L1355.8 495.7M1355.8 495.7L1343 492.6M1362.5 443.5L1359.9 443.6M1359.9 443.6L1357.4 443"/>
<polygon points="1524.9,545.8 1543.4,541.1 1532.7,533 1514.3,537.6"/>
<polygon points="1305.4,539.7 1323.9,526.9 1313.2,485.2 1294.7,502.3"/>
<path fill="none" stroke-width="1.3" stroke-dasharray="6,10" d="M1312.6 489.7L1308.1 489.9"/>
<polygon points="1477.3,522.3 1495.8,534.8 1485.1,523 1466.7,501.6"/>
<polygon points="1257.8,547.9 1276.3,522.3 1265.6,491.1 1247.1,528.8"/>
<polygon points="1429.7,509.8 1448.2,513.4 1437.5,454.2 1419.1,493.5"/>
<path fill="none" stroke-width="1.3" stroke-dasharray="6,10" d="M1445 495.6L1431 500.5M1431 500.5L1420.4 495.5"/>
<polygon points="1210.2,549 1228.7,544.4 1218,536.2 1199.5,540.9"/>
<polygon points="1382.1,540.6 1400.6,520.7 1389.9,500.1 1371.5,500.4"/>
<polygon points="1554,549.2 1572.5,544.6 1561.9,536.5 1543.4,541.1"/>
<polygon points="1334.5,550.2 1353,531.1 1342.3,490.3 1323.9,526.9"/>
<polygon points="1506.4,550.4 1524.9,545.8 1514.3,537.6 1495.8,534.8"/>
<polygon points="1286.9,551.4 1305.4,539.7 1294.7,502.3 1276.3,522.3"/>
<polygon points="1458.8,514.9 1477.3,522.3 1466.7,501.6 1448.2,513.4"/>
<polygon points="1239.3,552.5 1257.8,547.9 1247.1,528.8 1228.7,544.4"/>
<polygon points="1411.2,540.5 1429.7,509.8 1419.1,493.5 1400.6,520.7"/>
<polygon points="1191.7,553.6 1210.2,549 1199.5,540.9 1181.1,545.5"/>
<polygon points="1363.6,553.8 1382.1,540.6 1371.5,500.4 1353,531.1"/>
<polygon points="1535.6,553.9 1554,549.2 1543.4,541.1 1524.9,545.8"/>
<polygon points="1316,554.9 1334.5,550.2 1323.9,526.9 1305.4,539.7"/>
<polygon points="1488,547.6 1506.4,550.4 1495.8,534.8 1477.3,522.3"/>
<polygon points="1268.4,556 1286.9,551.4 1276.3,522.3 1257.8,547.9"/>
<polygon points="1440.4,531.6 1458.8,514.9 1448.2,513.4 1429.7,509.8"/>
<polygon points="1220.8,557.1 1239.3,552.5 1228.7,544.4 1210.2,549"/>
<polygon points="1392.8,557.2 1411.2,540.5 1400.6,520.7 1382.1,540.6"/>
<polygon points="1345.2,558.4 1363.6,553.8 1353,531.1 1334.5,550.2"/>
<polygon points="1517.1,558.5 1535.6,553.9 1524.9,545.8 1506.4,550.4"/>
<polygon points="1297.6,559.5 1316,554.9 1305.4,539.7 1286.9,551.4"/>
<polygon points="1469.5,548.6 1488,547.6 1477.3,522.3 1458.8,514.9"/>
<polygon points="1250,560.6 1268.4,556 1257.8,547.9 1239.3,552.5"/>
<polygon points="1421.9,553.3 1440.4,531.6 1429.7,509.8 1411.2,540.5"/>
<polygon points="1202.4,561.8 1220.8,557.1 1210.2,549 1191.7,553.6"/>
<polygon points="1374.3,561.9 1392.8,557.2 1382.1,540.6 1363.6,553.8"/>
<polygon points="1326.7,563 1345.2,558.4 1334.5,550.2 1316,554.9"/>
<polygon points="1498.6,563.1 1517.1,558.5 1506.4,550.4 1488,547.6"/>
<polygon points="1279.1,564.1 1297.6,559.5 1286.9,551.4 1268.4,556"/>
<polygon points="1451,556.8 1469.5,548.6 1458.8,514.9 1440.4,531.6"/>
<polygon points="1231.5,565.2 1250,560.6 1239.3,552.5 1220.8,557.1"/>
<polygon points="1403.4,565.4 1421.9,553.3 1411.2,540.5 1392.8,557.2"/>
<polygon points="1355.8,566.5 1374.3,561.9 1363.6,553.8 1345.2,558.4"/>
<polygon points="1308.2,567.6 1326.7,563 1316,554.9 1297.6,559.5"/>
<polygon points="1480.1,567.8 1498.6,563.1 1488,547.6 1469.5,548.6"/>
<polygon points="1260.6,568.8 1279.1,564.1 1268.4,556 1250,560.6"/>
<polygon points="1432.5,568.9 1451,556.8 1440.4,531.6 1421.9,553.3"/>
<polygon points="1213,569.9 1231.5,565.2 1220.8,557.1 1202.4,561.8"/>
<polygon points="1384.9,570 1403.4,565.4 1392.8,557.2 1374.3,561.9"/>
<polygon points="1337.3,571.1 1355.8,566.5 1345.2,558.4 1326.7,563"/>
<polygon points="1289.7,572.2 1308.2,567.6 1297.6,559.5 1279.1,564.1"/>
<polygon points="1461.7,572.4 1480.1,567.8 1469.5,548.6 1451,556.8"/>
<polygon points="1242.1,573.4 1260.6,568.8 1250,560.6 1231.5,565.2"/>
<polygon points="1414.1,573.5 1432.5,568.9 1421.9,553.3 1403.4,565.4"/>
<polygon points="1366.5,574.6 1384.9,570 1374.3,561.9 1355.8,566.5"/>
<polygon points="1318.9,575.8 1337.3,571.1 1326.7,563 1308.2,567.6"/>
<polygon points="1271.3,576.9 1289.7,572.2 1279.1,564.1 1260.6,568.8"/>
<polygon points="1443.2,577 1461.7,572.4 1451,556.8 1432.5,568.9"/>
<polygon points="1223.7,578 1242.1,573.4 1231.5,565.2 1213,569.9"/>
<polygon points="1395.6,578.1 1414.1,573.5 1403.4,565.4 1384.9,570"/>
<polygon points="1348,579.2 1366.5,574.6 1355.8,566.5 1337.3,571.1"/>
<polygon points="1300.4,580.4 1318.9,575.8 1308.2,567.6 1289.7,572.2"/>
<polygon points="1252.8,581.5 1271.3,576.9 1260.6,568.8 1242.1,573.4"/>
<polygon points="1424.7,581.6 1443.2,577 1432.5,568.9 1414.1,573.5"/>
<polygon points="1377.1,582.8 1395.6,578.1 1384.9,570 1366.5,574.6"/>
<polygon points="1329.5,583.9 1348,579.2 1337.3,571.1 1318.9,575.8"/>
<polygon points="1281.9,585 1300.4,580.4 1289.7,572.2 1271.3,576.9"/>
<polygon points="1234.3,586.1 1252.8,581.5 1242.1,573.4 1223.7,578"/>
<polygon points="1406.2,586.2 1424.7,581.6 1414.1,573.5 1395.6,578.1"/>
<polygon points="1358.6,587.4 1377.1,582.8 1366.5,574.6 1348,579.2"/>
<polygon points="1311,588.5 1329.5,583.9 1318.9,575.8 1300.4,580.4"/>
<polygon points="1263.4,589.6 1281.9,585 1271.3,576.9 1252.8,581.5"/>
<polygon points="1387.8,590.9 1406.2,586.2 1395.6,578.1 1377.1,582.8"/>
<polygon points="1340.2,592 1358.6,587.4 1348,579.2 1329.5,583.9"/>
<polygon points="1292.6,593.1 1311,588.5 1300.4,580.4 1281.9,585"/>
<polygon points="1245,594.2 1263.4,589.6 1252.8,581.5 1234.3,586.1"/>
<polygon points="1369.3,595.5 1387.8,590.9 1377.1,582.8 1358.6,587.4"/>
<polygon points="1321.7,596.6 1340.2,592 1329.5,583.9 1311,588.5"/>
<polygon points="1274.1,597.8 1292.6,593.1 1281.9,585 1263.4,589.6"/>
<polygon points="1350.8,600.1 1369.3,595.5 1358.6,587.4 1340.2,592"/>
<polygon points="1303.2,601.2 1321.7,596.6 1311,588.5 1292.6,593.1"/>
<polygon points="1255.6,602.4 1274.1,597.8 1263.4,589.6 1245,594.2"/>
<polygon points="1332.3,604.8 1350.8,600.1 1340.2,592 1321.7,596.6"/>
<polygon points="1284.7,605.9 1303.2,601.2 1292.6,593.1 1274.1,597.8"/>
<polygon points="1313.9,609.4 1332.3,604.8 1321.7,596.6 1303.2,601.2"/>
<polygon points="1266.3,610.5 1284.7,605.9 1274.1,597.8 1255.6,602.4"/>
<polygon points="1295.4,614 1313.9,609.4 1303.2,601.2 1284.7,605.9"/>
<polygon points="1276.9,618.6 1295.4,614 1284.7,605.9 1266.3,610.5"/>
</g>
<g stroke="#111" fill="none">
<line x1="1060" y1="462.5" x2="1273" y2="625" stroke-width="1.6"/>
<line x1="1273" y1="625" x2="1642.5" y2="532.5" stroke-width="1.6"/>
<line x1="1060" y1="491.5" x2="1060" y2="137.5" stroke-width="1.6"/>
<line x1="1273" y1="655" x2="1273" y2="300" stroke-width="1.6"/>
<line x1="1642.5" y1="561.5" x2="1642.5" y2="207.5" stroke-width="1.6"/>
<line x1="1429.5" y1="370" x2="1429.5" y2="45" stroke-width="1.6"/>
<line x1="1060" y1="137.5" x2="1429.5" y2="45" stroke-width="1.6"/>
<line x1="1429.5" y1="45" x2="1642.5" y2="207.5" stroke-width="1.6"/>
<line x1="1060" y1="137.5" x2="1273" y2="300" stroke-width="1.6"/>
<line x1="1273" y1="300" x2="1642.5" y2="207.5" stroke-width="1.6"/>
<line x1="1031" y1="462.5" x2="1060" y2="462.5" stroke-width="1.6"/>
<line x1="1031" y1="417.1" x2="1060" y2="417.1" stroke-width="1.6"/>
<line x1="1031" y1="371.8" x2="1060" y2="371.8" stroke-width="1.6"/>
<line x1="1031" y1="326.4" x2="1060" y2="326.4" stroke-width="1.6"/>
<line x1="1031" y1="281.1" x2="1060" y2="281.1" stroke-width="1.6"/>
<line x1="1031" y1="235.7" x2="1060" y2="235.7" stroke-width="1.6"/>
<line x1="1031" y1="190.3" x2="1060" y2="190.3" stroke-width="1.6"/>
<line x1="1031" y1="145" x2="1060" y2="145" stroke-width="1.6"/>
<line x1="1310" y1="615.8" x2="1310" y2="644.8" stroke-width="1.5"/>
<line x1="1346.9" y1="606.5" x2="1346.9" y2="635.5" stroke-width="1.5"/>
<line x1="1383.8" y1="597.2" x2="1383.8" y2="626.2" stroke-width="1.5"/>
<line x1="1420.8" y1="588" x2="1420.8" y2="617" stroke-width="1.5"/>
<line x1="1457.8" y1="578.8" x2="1457.8" y2="607.8" stroke-width="1.5"/>
<line x1="1494.7" y1="569.5" x2="1494.7" y2="598.5" stroke-width="1.5"/>
<line x1="1531.7" y1="560.2" x2="1531.7" y2="589.2" stroke-width="1.5"/>
<line x1="1568.6" y1="551" x2="1568.6" y2="580" stroke-width="1.5"/>
<line x1="1605.5" y1="541.8" x2="1605.5" y2="570.8" stroke-width="1.5"/>
<line x1="1251.7" y1="608.8" x2="1251.7" y2="637.8" stroke-width="1.5"/>
<line x1="1230.4" y1="592.5" x2="1230.4" y2="621.5" stroke-width="1.5"/>
<line x1="1209.1" y1="576.2" x2="1209.1" y2="605.2" stroke-width="1.5"/>
<line x1="1187.8" y1="560" x2="1187.8" y2="589" stroke-width="1.5"/>
<line x1="1166.5" y1="543.8" x2="1166.5" y2="572.8" stroke-width="1.5"/>
<line x1="1145.2" y1="527.5" x2="1145.2" y2="556.5" stroke-width="1.5"/>
<line x1="1123.9" y1="511.2" x2="1123.9" y2="540.2" stroke-width="1.5"/>
<line x1="1102.6" y1="495" x2="1102.6" y2="524" stroke-width="1.5"/>
<line x1="1081.3" y1="478.8" x2="1081.3" y2="507.8" stroke-width="1.5"/>
</g>
<text x="961.5" y="156.1" font-size="60">70</text>
<text x="961.8" y="250.2" font-size="60">50</text>
<text x="962" y="343.8" font-size="60">30</text>
<text x="961.6" y="425.9" font-size="60">10</text>
<text x="1028.3" y="547" font-size="52.5">10</text>
<text x="1084.3" y="577" font-size="52.5">5</text>
<text x="1126.7" y="613.5" font-size="52.5">0</text>
<text x="1158.1" y="654.8" font-size="52.5">-5</text>
<text x="1189.8" y="697.5" font-size="52.5">-10</text>
<text x="1277.2" y="707.8" font-size="52.5">-10</text>
<text x="1372.2" y="682.2" font-size="52.5">-5</text>
<text x="1459.5" y="666.9" font-size="52.5">0</text>
<text x="1523.1" y="650.2" font-size="52.5">5</text>
<text x="1583.7" y="624.5" font-size="52.5">10</text>
<text x="1696.2" y="92.7" font-size="68">70</text>
<text x="1697" y="232.6" font-size="68">50</text>
<text x="1697.4" y="373.9" font-size="68">30</text>
<text x="1696.8" y="514.2" font-size="68">10</text>
<text x="1021.6" y="51.5" font-size="49" font-weight="bold">(b)</text>
<g transform="translate(1401,722) scale(0.942,0.978)" fill="none" stroke="#111" stroke-linecap="round"><path d="M0.5,9.8 C3,7.6 6,5.2 9,5.4" stroke-width="2.2"/><path d="M8.2,5.5 C12,6 14,9.5 16.2,14.5 L23.3,30.5" stroke-width="5.4"/><path d="M23.3,30.5 C25,35.5 29,35.5 32.5,25" stroke-width="3.4"/><path d="M26.5,2.8 C21,4.5 17,12 14.8,20 C13,27 11,34 5,38" stroke-width="2.2"/><circle cx="27.3" cy="3.3" r="3.2" fill="#111" stroke="none"/><circle cx="5" cy="38.2" r="3.4" fill="#111" stroke="none"/></g>
<text transform="translate(1454,723.9) rotate(-14) scale(0.8,1)" x="-10.8" y="14.9" font-size="62">(</text>
<text transform="translate(1478.5,717.4) rotate(-14) scale(0.85,1)" x="-11.4" y="21.9" font-size="62">f</text>
<text transform="translate(1514.8,715.4) rotate(-14) scale(0.74,1)" x="-24.2" y="14.6" font-size="62">m</text>
<text transform="translate(1538.5,700.7) rotate(-14) scale(0.8,1)" x="-10" y="14.9" font-size="62">)</text>
<g transform="translate(1029.4,619.9) scale(1.007,1.0)" fill="#111" stroke="#111" stroke-linecap="round"><path d="M36.5,1.5 L46.5,4.5 L26,31.5 L22.5,31 Z" stroke-width="1"/><path d="M4,29 C8,32.5 15,33 24,31.3 C34,29.5 47,27 56.5,21.5" fill="none" stroke-width="2.8"/><circle cx="4.2" cy="28.2" r="3.4" stroke="none"/><circle cx="57.3" cy="21.3" r="3.4" stroke="none"/></g>
<text transform="translate(1101.9,665.1) rotate(42) scale(0.8,1)" x="-10.8" y="14.9" font-size="62">(</text>
<text transform="translate(1121.2,686.4) rotate(42) scale(0.82,1)" x="-11.4" y="21.9" font-size="62">f</text>
<text transform="translate(1139.5,712.2) rotate(42) scale(0.74,1)" x="-24.2" y="14.6" font-size="62">m</text>
<text transform="translate(1163.9,726.8) rotate(42) scale(0.8,1)" x="-10" y="14.9" font-size="62">)</text>
<!-- panel c -->
<g>
<rect x="801.3" y="842.3" width="37.7" height="56.7" fill="#141414"/>
<rect x="801.3" y="899" width="37.7" height="35.5" fill="#3e3e3e"/>
<rect x="801.3" y="934.5" width="37.7" height="20.5" fill="#3a3a3a"/>
<rect x="801.3" y="955" width="37.7" height="46.6" fill="#5d5d5d"/>
<rect x="801.3" y="1001.6" width="37.7" height="10.4" fill="#666666"/>
<rect x="801.3" y="1012" width="37.7" height="56.8" fill="#6f6f6f"/>
<rect x="801.3" y="1068.8" width="37.7" height="56" fill="#747474"/>
<rect x="801.3" y="1124.8" width="37.7" height="11.9" fill="#8a8a8a"/>
<rect x="801.3" y="1136.7" width="37.7" height="44" fill="#8f8f8f"/>
<rect x="801.3" y="1180.7" width="37.7" height="23.6" fill="#adadad"/>
<rect x="801.3" y="1204.3" width="37.7" height="33.2" fill="#a7a7a7"/>
<rect x="801.3" y="1237.5" width="37.7" height="34.7" fill="#d0d0d0"/>
<rect x="801.3" y="1272.2" width="37.7" height="21.6" fill="#c8c8c8"/>
<rect x="801.3" y="1293.8" width="37.7" height="45.5" fill="#e7e7e7"/>
<rect x="801.3" y="1339.3" width="37.7" height="11.2" fill="#e6e6e6"/>
<rect x="801.3" y="1350.5" width="37.7" height="57.1" fill="#ffffff"/>
<line x1="801.3" y1="934.5" x2="839" y2="934.5" stroke="#111" stroke-width="1.5"/>
<line x1="801.3" y1="1001.6" x2="839" y2="1001.6" stroke="#111" stroke-width="1.5"/>
<line x1="801.3" y1="1068.8" x2="839" y2="1068.8" stroke="#111" stroke-width="1.5"/>
<line x1="801.3" y1="1136.7" x2="839" y2="1136.7" stroke="#111" stroke-width="1.5"/>
<line x1="801.3" y1="1204.3" x2="839" y2="1204.3" stroke="#111" stroke-width="1.5"/>
<line x1="801.3" y1="1272.2" x2="839" y2="1272.2" stroke="#111" stroke-width="1.5"/>
<line x1="801.3" y1="1339.3" x2="839" y2="1339.3" stroke="#111" stroke-width="1.5"/>
<rect x="801.3" y="842.3" width="37.7" height="565.3" fill="none" stroke="#111" stroke-width="1.6"/>
</g>
<g stroke="none">
<path fill="#e7e7e7" fill-rule="evenodd" d="M556.8 1035.3L564.2 1023.2L564.9 1022.6L572.4 1010.2L572.8 1009.7L591.1 1004.8L598.6 992.6L588.5 984.2L588.2 983.6L595.6 971.5L584.9 963.3L566.2 957.2L551.6 950.1L543.2 949.1L532.3 944.1L514.7 937.7L501.7 936.2L480.4 935.6L475.6 935.1L451.5 935.5L447.3 933.2L419.6 930L412.1 942.3L416 946.2L411.7 953.3L406 957.5L400.1 967.2L400.3 972.1L396 979.1L399.2 989.2L409.2 997.6L420.5 1005.6L437.9 1012L454.9 1014L460.1 1017.2L471.2 1025.3L498.5 1028.5L500.1 1028.8L527.8 1032L529.5 1032.1ZM546.4 1027.8L520 1026L513.6 1025.3L488.8 1021L488.1 1020.9L471.4 1014.3L453.9 1007.9L440.7 1003.1L434 1002.1L412.4 996.7L412.7 985.7L414.1 982.7L415 974.2L418.7 967.2L431.9 959L432.2 958.6L450.6 953.8L451.5 954L451.2 954.3L458.7 963L464.3 964.4L471.1 959.8L474.9 953.5L476.5 947.5L481.3 939.5L499.8 941.6L497.4 951.8L495.3 953.6L499.2 953.2L522.9 952.5L534.7 954.4L551.7 961L567.3 967.6L568 967.7L578.7 975.8L578.5 976.2L583.1 985.6L585.1 996L583.4 998.9L567.6 1005.7L561.1 1013.1L558.4 1017.6L547.3 1027.5L547.1 1027.9ZM461.5 962.3L461.2 962L462 962.2L461.7 962.4ZM469 949.5L467.8 948.1L469.7 949.3L469.6 949.5ZM425.6 938.8L427.3 935.9L433.7 936.7L432.5 939.9Z"/>
<path fill="#cdcdcd" fill-rule="evenodd" d="M547.1 1027.9L547.3 1027.5L558.4 1017.6L561.1 1013.1L567.6 1005.7L583.4 998.9L585.1 996L583.1 985.6L578.5 976.2L578.7 975.8L568 967.7L567.3 967.6L551.7 961L534.7 954.4L522.9 952.5L499.2 953.2L495.3 953.6L497.4 951.8L499.8 941.6L481.3 939.5L476.5 947.5L474.9 953.5L471.1 959.8L464.3 964.4L458.7 963L451.2 954.3L451.5 954L450.6 953.8L432.2 958.6L431.9 959L418.7 967.2L415 974.2L414.1 982.7L412.7 985.7L412.4 996.7L434 1002.1L440.7 1003.1L453.9 1007.9L471.4 1014.3L488.1 1020.9L488.8 1021L513.6 1025.3L520 1026L546.4 1027.8ZM523 1022.9L515.2 1022.3L493.9 1019.4L483.3 1011.3L474.8 1010.3L460.1 1006.3L441.7 1000.1L436.1 999.5L416.1 995.8L418.8 986.2L427.5 981.9L426.3 973.1L425.1 971.7L434.6 960.4L455.6 963.8L467.2 966.5L481 958.2L502.2 955.5L524.7 957L530.9 958.6L545.5 962.5L548.2 971.9L548.1 972.8L549.6 973L571.7 977.7L577.2 987.1L576.9 993.9L562.3 1001.6L559.6 1002.6L549.6 1010.9L550.8 1015.7L543 1024.8ZM484 945.6L485.7 942.8L492 943.5L491.2 947.1ZM432.5 939.9L433.7 936.7L427.3 935.9L425.6 938.8Z"/>
<path fill="#aaaaaa" fill-rule="evenodd" d="M543 1024.8L550.8 1015.7L549.6 1010.9L559.6 1002.6L562.3 1001.6L576.9 993.9L577.2 987.1L571.7 977.7L549.6 973L548.1 972.8L548.2 971.9L545.5 962.5L530.9 958.6L524.7 957L502.2 955.5L481 958.2L467.2 966.5L455.6 963.8L434.6 960.4L425.1 971.7L426.3 973.1L427.5 981.9L418.8 986.2L416.1 995.8L436.1 999.5L441.7 1000.1L460.1 1006.3L474.8 1010.3L483.3 1011.3L493.9 1019.4L515.2 1022.3L523 1022.9ZM530.5 1020.9L529.7 1014.5L542.4 1017.9L539.1 1021.8ZM499.4 1018L494.8 1008.3L468.1 1005.2L466.4 1004.7L446.6 998.8L433.3 997.4L419.7 994.8L421.6 988.4L436.1 980.6L440.1 978.7L429.6 970.5L436.7 962.1L452.5 964.6L470.1 968.8L489.6 964.8L505.2 957.8L518.2 958.7L537.5 963.7L539.3 964.2L539.6 965.3L538.1 975.4L555.4 977.4L564.9 979.4L571.2 988.7L571.2 989.5L560 999.9L541.7 1004.8L517.2 1004.9L520.7 1012.6L511.8 1019.7ZM491.2 947.1L492 943.5L485.7 942.8L484 945.6Z"/>
<path fill="#8f8f8f" fill-rule="evenodd" d="M539.1 1021.8L542.4 1017.9L529.7 1014.5L530.5 1020.9ZM511.8 1019.7L520.7 1012.6L517.2 1004.9L541.7 1004.8L560 999.9L571.2 989.5L571.2 988.7L564.9 979.4L555.4 977.4L538.1 975.4L539.6 965.3L539.3 964.2L537.5 963.7L518.2 958.7L505.2 957.8L489.6 964.8L470.1 968.8L452.5 964.6L436.7 962.1L429.6 970.5L440.1 978.7L436.1 980.6L421.6 988.4L419.7 994.8L433.3 997.4L446.6 998.8L466.4 1004.7L468.1 1005.2L494.8 1008.3L499.4 1018ZM504.9 1016.6L503.7 1013.5L510.8 1015.1L508.3 1017.1ZM524.7 1000.6L513.3 1002L495 1006.8L469.6 1003.8L462.3 1000.7L451.6 997.6L430.6 995.3L423.3 993.9L424.3 990.5L437.8 981.9L450 976.2L434.1 969.3L438.8 963.7L449.4 965.4L465.2 972.2L473.3 971.2L494.4 968.5L503.5 962.4L508.1 960.1L511.8 960.3L535.6 965.1L530.1 976.9L523.5 979.1L534.6 980.4L552.7 982.5L565.6 990.1L557.7 998.1L537 1001.2Z"/>
<path fill="#747474" fill-rule="evenodd" d="M508.3 1017.1L510.8 1015.1L503.7 1013.5L504.9 1016.6ZM537 1001.2L557.7 998.1L565.6 990.1L552.7 982.5L534.6 980.4L523.5 979.1L530.1 976.9L535.6 965.1L511.8 960.3L508.1 960.1L503.5 962.4L494.4 968.5L473.3 971.2L465.2 972.2L449.4 965.4L438.8 963.7L434.1 969.3L450 976.2L437.8 981.9L424.3 990.5L423.3 993.9L430.6 995.3L451.6 997.6L462.3 1000.7L469.6 1003.8L495 1006.8L513.3 1002L524.7 1000.6ZM535.9 997.7L523.3 990.6L511.6 1000.6L493.4 1005.6L472.4 1003.1L456.6 996.3L456.5 996.3L427.8 993.2L426.9 993L427 992.6L439.5 983.2L455 976.1L477.5 974.5L498.7 971.8L510.8 962.1L532.3 965.9L527.9 975.3L506.9 978L493.9 986.7L522.5 990.1L523.1 990.1L544.3 987.8L560.2 991.5L555.4 996.3ZM438.6 968.2L441 965.4L446.3 966.2L449.8 972.1Z"/>
<path fill="#6f6f6f" fill-rule="evenodd" d="M555.4 996.3L560.2 991.5L544.3 987.8L523.1 990.1L522.5 990.1L493.9 986.7L506.9 978L527.9 975.3L532.3 965.9L510.8 962.1L498.7 971.8L477.5 974.5L455 976.1L439.5 983.2L427 992.6L426.9 993L427.8 993.2L456.5 996.3L456.6 996.3L472.4 1003.1L493.4 1005.6L511.6 1000.6L523.3 990.6L535.9 997.7ZM546.6 995L549.4 991.7L554.6 992.9L553 994.5ZM475.3 1002.4L466.4 993.8L453.7 994.1L431.9 991.7L441.2 984.5L457 977.7L481.9 977.8L490.3 976.7L485.1 980.3L483.7 989.3L496.2 988.8L518.2 991.4L509.8 999.2L491.8 1004.3ZM503.6 973.3L513.2 964L529 966.8L525.8 973.6ZM449.8 972.1L446.3 966.2L441 965.4L438.6 968.2Z"/>
<path fill="#5f5f5f" fill-rule="evenodd" d="M553 994.5L554.6 992.9L549.4 991.7L546.6 995ZM491.8 1004.3L509.8 999.2L518.2 991.4L496.2 988.8L483.7 989.3L485.1 980.3L490.3 976.7L481.9 977.8L457 977.7L441.2 984.5L431.9 991.7L453.7 994.1L466.4 993.8L475.3 1002.4ZM478.1 1001.7L475.6 991.9L498.8 990.8L513.7 992.5L508 997.8L490.1 1003.1ZM437.1 990.4L443 985.8L459 979.2L478.9 979.7L474.6 991.2L450.9 991.9ZM525.8 973.6L529 966.8L513.2 964L503.6 973.3ZM509.6 971.8L515.7 965.9L525.6 967.7L523.6 972Z"/>
<path fill="#3c3c3c" fill-rule="evenodd" d="M490.1 1003.1L508 997.8L513.7 992.5L498.8 990.8L475.6 991.9L478.1 1001.7ZM480.9 1001L479.3 994.8L501.4 992.8L509.2 993.7L506.2 996.5L488.5 1001.9ZM450.9 991.9L474.6 991.2L478.9 979.7L459 979.2L443 985.8L437.1 990.4ZM442.2 989.1L444.7 987.2L461 980.7L473.6 981L470.9 988.3L448 989.7ZM523.6 972L525.6 967.7L515.7 965.9L509.6 971.8ZM515.6 970.2L518.1 967.7L522.4 968.5L521.5 970.3Z"/>
<path fill="#141414" fill-rule="evenodd" d="M488.5 1001.9L506.2 996.5L509.2 993.7L501.4 992.8L479.3 994.8L480.9 1001ZM448 989.7L470.9 988.3L473.6 981L461 980.7L444.7 987.2L442.2 989.1ZM521.5 970.3L522.4 968.5L518.1 967.7L515.6 970.2Z"/>
</g>
<g stroke="#111" stroke-width="1.3" stroke-dasharray="6,10" fill="none">
<polyline points="206,1229.8 576,1134.8 789,1298.3"/>
<polyline points="206,1188.2 576,1093.2 789,1256.7"/>
<polyline points="206,1146.5 576,1051.5 789,1215"/>
<polyline points="206,1104.8 576,1009.8 789,1173.3"/>
<polyline points="206,1063.2 576,968.2 789,1131.7"/>
<polyline points="206,1021.5 576,926.5 789,1090"/>
<polyline points="206,979.8 576,884.8 789,1048.3"/>
</g>
<polyline fill="none" stroke="#111" stroke-width="1.6" points="206,1271.5 576,1176.5 789,1340"/>
<g fill="#fff" stroke="#111" stroke-width="1.35" stroke-linejoin="miter">
<polygon points="564.2,1195.9 582.7,1191.1 572.1,1183 553.6,1187.7"/>
<polygon points="545.7,1200.6 564.2,1195.9 553.6,1187.7 535.1,1192.5"/>
<polygon points="574.9,1204.1 593.4,1199.3 582.7,1191.1 564.2,1195.9"/>
<polygon points="527.2,1205.4 545.7,1200.6 535.1,1192.5 516.6,1197.2"/>
<polygon points="556.4,1208.8 574.9,1204.1 564.2,1195.9 545.7,1200.6"/>
<polygon points="508.7,1210.1 527.2,1205.4 516.6,1197.2 498.1,1202"/>
<polygon points="585.5,1212.2 604,1207.5 593.4,1199.3 574.9,1204.1"/>
<polygon points="537.9,1213.6 556.4,1208.8 545.7,1200.6 527.2,1205.4"/>
<polygon points="490.2,1214.9 508.7,1210.1 498.1,1202 479.6,1206.7"/>
<polygon points="567,1217 585.5,1212.2 574.9,1204.1 556.4,1208.8"/>
<polygon points="519.4,1218.3 537.9,1213.6 527.2,1205.4 508.7,1210.1"/>
<polygon points="471.7,1219.6 490.2,1214.9 479.6,1206.7 461.1,1211.5"/>
<polygon points="596.2,1220.4 614.7,1215.7 604,1207.5 585.5,1212.2"/>
<polygon points="548.5,1221.7 567,1217 556.4,1208.8 537.9,1213.6"/>
<polygon points="500.9,1223.1 519.4,1218.3 508.7,1210.1 490.2,1214.9"/>
<polygon points="453.2,1224.4 471.7,1219.6 461.1,1211.5 442.6,1216.2"/>
<polygon points="577.7,1225.2 596.2,1220.4 585.5,1212.2 567,1217"/>
<polygon points="530,1226.5 548.5,1221.7 537.9,1213.6 519.4,1218.3"/>
<polygon points="482.4,1227.8 500.9,1223.1 490.2,1214.9 471.7,1219.6"/>
<polygon points="606.8,1228.6 625.3,1223.8 614.7,1215.7 596.2,1220.4"/>
<polygon points="434.7,1229.1 453.2,1224.4 442.6,1216.2 424.1,1221"/>
<polygon points="559.2,1229.9 577.7,1225.2 567,1217 548.5,1221.7"/>
<polygon points="511.5,1231.2 530,1226.5 519.4,1218.3 500.9,1223.1"/>
<polygon points="463.9,1232.6 482.4,1227.8 471.7,1219.6 453.2,1224.4"/>
<polygon points="588.3,1233.3 606.8,1228.6 596.2,1220.4 577.7,1225.2"/>
<polygon points="416.2,1233.9 434.7,1229.1 424.1,1221 405.6,1225.7"/>
<polygon points="540.7,1234.7 559.2,1229.9 548.5,1221.7 530,1226.5"/>
<polygon points="493,1236 511.5,1231.2 500.9,1223.1 482.4,1227.8"/>
<polygon points="617.5,1236.8 636,1232 625.3,1223.8 606.8,1228.6"/>
<polygon points="445.4,1237.3 463.9,1232.6 453.2,1224.4 434.7,1229.1"/>
<polygon points="569.8,1238.1 588.3,1233.3 577.7,1225.2 559.2,1229.9"/>
<polygon points="397.7,1238.6 416.2,1233.9 405.6,1225.7 387.1,1230.5"/>
<polygon points="522.2,1239.4 540.7,1234.7 530,1226.5 511.5,1231.2"/>
<polygon points="474.5,1240.7 493,1236 482.4,1227.8 463.9,1232.6"/>
<polygon points="599,1241.5 617.5,1236.8 606.8,1228.6 588.3,1233.3"/>
<polygon points="426.9,1242.1 445.4,1237.3 434.7,1229.1 416.2,1233.9"/>
<polygon points="551.3,1242.8 569.8,1238.1 559.2,1229.9 540.7,1234.7"/>
<polygon points="379.2,1243.4 397.7,1238.6 387.1,1230.5 368.6,1235.2"/>
<polygon points="503.7,1244.2 522.2,1239.4 511.5,1231.2 493,1236"/>
<polygon points="628.1,1244.9 646.6,1240.2 636,1232 617.5,1236.8"/>
<polygon points="456,1245.5 474.5,1240.7 463.9,1232.6 445.4,1237.3"/>
<polygon points="580.5,1246.3 599,1241.5 588.3,1233.3 569.8,1238.1"/>
<polygon points="408.4,1246.8 426.9,1242.1 416.2,1233.9 397.7,1238.6"/>
<polygon points="532.8,1247.6 551.3,1242.8 540.7,1234.7 522.2,1239.4"/>
<polygon points="360.7,1248.1 379.2,1243.4 368.6,1235.2 350.1,1240"/>
<polygon points="485.2,1248.9 503.7,1244.2 493,1236 474.5,1240.7"/>
<polygon points="609.6,1249.7 628.1,1244.9 617.5,1236.8 599,1241.5"/>
<polygon points="437.5,1250.2 456,1245.5 445.4,1237.3 426.9,1242.1"/>
<polygon points="562,1251 580.5,1246.3 569.8,1238.1 551.3,1242.8"/>
<polygon points="389.9,1251.6 408.4,1246.8 397.7,1238.6 379.2,1243.4"/>
<polygon points="514.3,1252.3 532.8,1247.6 522.2,1239.4 503.7,1244.2"/>
<polygon points="342.2,1252.9 360.7,1248.1 350.1,1240 331.6,1244.7"/>
<polygon points="638.8,1253.1 657.3,1248.4 646.6,1240.2 628.1,1244.9"/>
<polygon points="466.7,1253.7 485.2,1248.9 474.5,1240.7 456,1245.5"/>
<polygon points="591.1,1254.4 609.6,1249.7 599,1241.5 580.5,1246.3"/>
<polygon points="419,1255 437.5,1250.2 426.9,1242.1 408.4,1246.8"/>
<polygon points="543.5,1255.8 562,1251 551.3,1242.8 532.8,1247.6"/>
<polygon points="371.4,1256.3 389.9,1251.6 379.2,1243.4 360.7,1248.1"/>
<polygon points="495.8,1257.1 514.3,1252.3 503.7,1244.2 485.2,1248.9"/>
<polygon points="323.7,1257.6 342.2,1252.9 331.6,1244.7 313.1,1249.5"/>
<polygon points="620.3,1257.9 638.8,1253.1 628.1,1244.9 609.6,1249.7"/>
<polygon points="448.2,1258.4 466.7,1253.7 456,1245.5 437.5,1250.2"/>
<polygon points="572.6,1259.2 591.1,1254.4 580.5,1246.3 562,1251"/>
<polygon points="400.5,1259.7 419,1255 408.4,1246.8 389.9,1251.6"/>
<polygon points="525,1260.5 543.5,1255.8 532.8,1247.6 514.3,1252.3"/>
<polygon points="352.9,1261.1 371.4,1256.3 360.7,1248.1 342.2,1252.9"/>
<polygon points="649.4,1261.3 667.9,1256.5 657.3,1248.4 638.8,1253.1"/>
<polygon points="477.3,1259.3 495.8,1257.1 485.2,1248.9 466.7,1253.7"/>
<polygon points="305.2,1262.4 323.7,1257.6 313.1,1249.5 294.6,1254.2"/>
<polygon points="601.8,1262.6 620.3,1257.9 609.6,1249.7 591.1,1254.4"/>
<polygon points="429.7,1221.5 448.2,1258.4 437.5,1250.2 419,1255"/>
<polygon points="554.1,1263.9 572.6,1259.2 562,1251 543.5,1255.8"/>
<polygon points="382,1264.5 400.5,1259.7 389.9,1251.6 371.4,1256.3"/>
<polygon points="506.5,1261.5 525,1260.5 514.3,1252.3 495.8,1257.1"/>
<polygon points="334.4,1265.8 352.9,1261.1 342.2,1252.9 323.7,1257.6"/>
<polygon points="630.9,1266 649.4,1261.3 638.8,1253.1 620.3,1257.9"/>
<polygon points="458.8,1259.9 477.3,1259.3 466.7,1253.7 448.2,1258.4"/>
<polygon points="286.7,1267.1 305.2,1262.4 294.6,1254.2 276.1,1259"/>
<polygon points="583.3,1267.4 601.8,1262.6 591.1,1254.4 572.6,1259.2"/>
<polygon points="411.2,1267.9 429.7,1221.5 419,1255 400.5,1259.7"/>
<polygon points="535.6,1268.7 554.1,1263.9 543.5,1255.8 525,1260.5"/>
<polygon points="363.5,1269.2 382,1264.5 371.4,1256.3 352.9,1261.1"/>
<polygon points="660.1,1269.5 678.6,1264.7 667.9,1256.5 649.4,1261.3"/>
<polygon points="488,1186.7 506.5,1261.5 495.8,1257.1 477.3,1259.3"/>
<path fill="none" stroke-width="1.3" stroke-dasharray="6,10" d="M497.7 1225.9L491.9 1221.9M491.9 1221.9L482.5 1224.1"/>
<polygon points="315.9,1270.6 334.4,1265.8 323.7,1257.6 305.2,1262.4"/>
<polygon points="612.4,1270.8 630.9,1266 620.3,1257.9 601.8,1262.6"/>
<polygon points="440.3,1263.8 458.8,1259.9 448.2,1258.4 429.7,1221.5"/>
<polygon points="268.2,1271.9 286.7,1267.1 276.1,1259 257.6,1263.7"/>
<polygon points="564.8,1272.1 583.3,1267.4 572.6,1259.2 554.1,1263.9"/>
<polygon points="392.7,1272.7 411.2,1267.9 400.5,1259.7 382,1264.5"/>
<polygon points="517.1,1261.8 535.6,1268.7 525,1260.5 506.5,1261.5"/>
<polygon points="345,1274 363.5,1269.2 352.9,1261.1 334.4,1265.8"/>
<polygon points="641.6,1274.2 660.1,1269.5 649.4,1261.3 630.9,1266"/>
<polygon points="469.5,1273.5 488,1186.7 477.3,1259.3 458.8,1259.9"/>
<path fill="none" stroke-width="1.3" stroke-dasharray="6,10" d="M478.6 1230.8L482.5 1224.1"/>
<polygon points="297.4,1275.3 315.9,1270.6 305.2,1262.4 286.7,1267.1"/>
<polygon points="593.9,1275.5 612.4,1270.8 601.8,1262.6 583.3,1267.4"/>
<polygon points="421.8,1271.5 440.3,1263.8 429.7,1221.5 411.2,1267.9"/>
<polygon points="249.7,1276.6 268.2,1271.9 257.6,1263.7 239.1,1268.5"/>
<polygon points="546.3,1273.9 564.8,1272.1 554.1,1263.9 535.6,1268.7"/>
<polygon points="374.2,1277.4 392.7,1272.7 382,1264.5 363.5,1269.2"/>
<polygon points="670.7,1277.6 689.2,1272.9 678.6,1264.7 660.1,1269.5"/>
<polygon points="498.6,1252.4 517.1,1261.8 506.5,1261.5 488,1186.7"/>
<path fill="none" stroke-width="1.3" stroke-dasharray="6,10" d="M497.7 1225.9L495.7 1234.3"/>
<polygon points="326.5,1278.7 345,1274 334.4,1265.8 315.9,1270.6"/>
<polygon points="623.1,1279 641.6,1274.2 630.9,1266 612.4,1270.8"/>
<polygon points="451,1246.2 469.5,1273.5 458.8,1259.9 440.3,1263.8"/>
<polygon points="278.9,1280.1 297.4,1275.3 286.7,1267.1 268.2,1271.9"/>
<polygon points="575.4,1280.3 593.9,1275.5 583.3,1267.4 564.8,1272.1"/>
<polygon points="403.3,1280.8 421.8,1271.5 411.2,1267.9 392.7,1272.7"/>
<polygon points="231.2,1281.4 249.7,1276.6 239.1,1268.5 220.6,1273.2"/>
<polygon points="527.8,1231.6 546.3,1273.9 535.6,1268.7 517.1,1261.8"/>
<path fill="none" stroke-width="1.3" stroke-dasharray="6,10" d="M531 1239.1L529.1 1237.8M529.1 1237.8L525.5 1238.2"/>
<polygon points="355.7,1282.2 374.2,1277.4 363.5,1269.2 345,1274"/>
<polygon points="652.2,1282.4 670.7,1277.6 660.1,1269.5 641.6,1274.2"/>
<polygon points="480.1,1220.4 498.6,1252.4 488,1186.7 469.5,1273.5"/>
<path fill="none" stroke-width="1.3" stroke-dasharray="6,10" d="M490.6 1238.6L495.7 1234.3M478.6 1230.8L476.5 1238.5"/>
<polygon points="308,1283.5 326.5,1278.7 315.9,1270.6 297.4,1275.3"/>
<polygon points="604.6,1283.7 623.1,1279 612.4,1270.8 593.9,1275.5"/>
<polygon points="432.5,1250.9 451,1246.2 440.3,1263.8 421.8,1271.5"/>
<polygon points="260.4,1284.8 278.9,1280.1 268.2,1271.9 249.7,1276.6"/>
<polygon points="556.9,1280.9 575.4,1280.3 564.8,1272.1 546.3,1273.9"/>
<polygon points="384.8,1285.6 403.3,1280.8 392.7,1272.7 374.2,1277.4"/>
<polygon points="681.4,1285.8 699.9,1281.1 689.2,1272.9 670.7,1277.6"/>
<polygon points="509.3,1140.5 527.8,1231.6 517.1,1261.8 498.6,1252.4"/>
<path fill="none" stroke-width="1.3" stroke-dasharray="6,10" d="M525.5 1238.2L515.4 1234.7M515.4 1234.7L500 1237.6M521.3 1199.9L512.9 1197M512.9 1197L503.7 1198.8M513.3 1160.3L510.5 1159.4M510.5 1159.4L507.4 1159.9"/>
<polygon points="337.2,1286.9 355.7,1282.2 345,1274 326.5,1278.7"/>
<polygon points="633.7,1287.1 652.2,1282.4 641.6,1274.2 623.1,1279"/>
<polygon points="461.6,1286.9 480.1,1220.4 469.5,1273.5 451,1246.2"/>
<path fill="none" stroke-width="1.3" stroke-dasharray="6,10" d="M473.9 1242.9L476.5 1238.5"/>
<polygon points="289.5,1288.2 308,1283.5 297.4,1275.3 278.9,1280.1"/>
<polygon points="586.1,1288.5 604.6,1283.7 593.9,1275.5 575.4,1280.3"/>
<polygon points="414,1280.7 432.5,1250.9 421.8,1271.5 403.3,1280.8"/>
<polygon points="241.9,1289.6 260.4,1284.8 249.7,1276.6 231.2,1281.4"/>
<polygon points="538.4,1185.6 556.9,1280.9 546.3,1273.9 527.8,1231.6"/>
<path fill="none" stroke-width="1.3" stroke-dasharray="6,10" d="M550 1245.2L543.3 1240.1M543.3 1240.1L531 1239.1M542.3 1205.5L540 1203.8M540 1203.8L534.3 1203.3"/>
<polygon points="366.3,1290.3 384.8,1285.6 374.2,1277.4 355.7,1282.2"/>
<polygon points="662.9,1290.6 681.4,1285.8 670.7,1277.6 652.2,1282.4"/>
<polygon points="490.8,1186.9 509.3,1140.5 498.6,1252.4 480.1,1220.4"/>
<path fill="none" stroke-width="1.3" stroke-dasharray="6,10" d="M500 1237.6L497 1239.1M497 1239.1L490.6 1238.6M503.7 1198.8L492.9 1204.3M492.9 1204.3L485.4 1203.7M500 1163.7L507.4 1159.9"/>
<polygon points="318.7,1291.7 337.2,1286.9 326.5,1278.7 308,1283.5"/>
<polygon points="615.2,1291.9 633.7,1287.1 623.1,1279 604.6,1283.7"/>
<polygon points="443.1,1092.4 461.6,1286.9 451,1246.2 432.5,1250.9"/>
<path fill="none" stroke-width="1.3" stroke-dasharray="6,10" d="M457.8 1247L450.6 1238.5M450.6 1238.5L433 1243M454 1206.3L448.6 1200.1M448.6 1200.1L435.7 1203.4M450.1 1165.6L446.7 1161.6M446.7 1161.6L438.3 1163.8M446.2 1125L444.7 1123.2M444.7 1123.2L441 1124.1"/>
<polygon points="271,1293 289.5,1288.2 278.9,1280.1 260.4,1284.8"/>
<polygon points="567.6,1259.9 586.1,1288.5 575.4,1280.3 556.9,1280.9"/>
<polygon points="395.5,1293.8 414,1280.7 403.3,1280.8 384.8,1285.6"/>
<polygon points="692,1294 710.5,1289.2 699.9,1281.1 681.4,1285.8"/>
<polygon points="519.9,1002.9 538.4,1185.6 527.8,1231.6 509.3,1140.5"/>
<path fill="none" stroke-width="1.3" stroke-dasharray="6,10" d="M534.3 1203.3L526.7 1200.1M526.7 1200.1L521.3 1199.9M536.4 1165.3L525.3 1160.6M525.3 1160.6L513.3 1160.3M532.3 1124.7L524 1121.2M524 1121.2L510.8 1120.9M528.1 1084.1L522.6 1081.7M522.6 1081.7L513.8 1081.5M524 1043.5L521.3 1042.3M521.3 1042.3L516.9 1042.2"/>
<polygon points="347.8,1295.1 366.3,1290.3 355.7,1282.2 337.2,1286.9"/>
<polygon points="644.4,1295.3 662.9,1290.6 652.2,1282.4 633.7,1287.1"/>
<polygon points="472.3,1170.9 490.8,1186.9 480.1,1220.4 461.6,1286.9"/>
<path fill="none" stroke-width="1.3" stroke-dasharray="6,10" d="M473.9 1242.9L465.1 1248.7M485.4 1203.7L477.5 1203.9M477.5 1203.9L468.7 1209.8"/>
<polygon points="300.2,1296.4 318.7,1291.7 308,1283.5 289.5,1288.2"/>
<polygon points="596.7,1296.6 615.2,1291.9 604.6,1283.7 586.1,1288.5"/>
<polygon points="424.6,1234.7 443.1,1092.4 432.5,1250.9 414,1280.7"/>
<path fill="none" stroke-width="1.3" stroke-dasharray="6,10" d="M433 1243L430.2 1246.3M430.2 1246.3L420.5 1252.4M427.4 1213.1L435.7 1203.4M433 1170L438.3 1163.8M438.6 1126.9L441 1124.1"/>
<polygon points="252.5,1297.7 271,1293 260.4,1284.8 241.9,1289.6"/>
<polygon points="549.1,1235.5 567.6,1259.9 556.9,1280.9 538.4,1185.6"/>
<path fill="none" stroke-width="1.3" stroke-dasharray="6,10" d="M562.3 1252.9L551.9 1251.7M551.9 1251.7L550 1245.2M542.3 1205.5L543.8 1210.5"/>
<polygon points="377,1298.5 395.5,1293.8 384.8,1285.6 366.3,1290.3"/>
<polygon points="673.5,1298.7 692,1294 681.4,1285.8 662.9,1290.6"/>
<polygon points="501.4,1111.8 519.9,1002.9 509.3,1140.5 490.8,1186.9"/>
<path fill="none" stroke-width="1.3" stroke-dasharray="6,10" d="M500 1163.7L493.4 1168.2M510.8 1120.9L505.4 1126.2M505.4 1126.2L498.8 1130.6M505.1 1090L513.8 1081.5M512.5 1046.4L516.9 1042.2"/>
<polygon points="329.3,1299.8 347.8,1295.1 337.2,1286.9 318.7,1291.7"/>
<polygon points="625.9,1300.1 644.4,1295.3 633.7,1287.1 615.2,1291.9"/>
<polygon points="453.8,1154.8 472.3,1170.9 461.6,1286.9 443.1,1092.4"/>
<path fill="none" stroke-width="1.3" stroke-dasharray="6,10" d="M465.1 1248.7L459.4 1249.7M459.4 1249.7L457.8 1247M468.7 1209.8L457.2 1211.7M457.2 1211.7L454 1206.3M454.9 1173.8L450.1 1165.6M446.2 1125L449.7 1130.8"/>
<polygon points="281.7,1301.2 300.2,1296.4 289.5,1288.2 271,1293"/>
<polygon points="578.2,1268.1 596.7,1296.6 586.1,1288.5 567.6,1259.9"/>
<polygon points="406.1,1297.4 424.6,1234.7 414,1280.7 395.5,1293.8"/>
<path fill="none" stroke-width="1.3" stroke-dasharray="6,10" d="M418 1257.2L420.5 1252.4"/>
<polygon points="702.7,1302.2 721.2,1297.4 710.5,1289.2 692,1294"/>
<polygon points="530.6,1177.7 549.1,1235.5 538.4,1185.6 519.9,1002.9"/>
<path fill="none" stroke-width="1.3" stroke-dasharray="6,10" d="M542.9 1216.2L543.8 1210.5M532.3 1124.7L527.9 1134M528.1 1084.1L525.2 1090.3M524 1043.5L522.6 1046.6"/>
<polygon points="358.5,1303.3 377,1298.5 366.3,1290.3 347.8,1295.1"/>
<polygon points="655,1303.5 673.5,1298.7 662.9,1290.6 644.4,1295.3"/>
<polygon points="482.9,1095.7 501.4,1111.8 490.8,1186.9 472.3,1170.9"/>
<path fill="none" stroke-width="1.3" stroke-dasharray="6,10" d="M493.4 1168.2L489.2 1168.7M498.8 1130.6L486.1 1132.2M486.1 1132.2L477.6 1133.3"/>
<polygon points="310.8,1304.6 329.3,1299.8 318.7,1291.7 300.2,1296.4"/>
<polygon points="607.4,1304.8 625.9,1300.1 615.2,1291.9 596.7,1296.6"/>
<polygon points="435.3,1222 453.8,1154.8 443.1,1092.4 424.6,1234.7"/>
<path fill="none" stroke-width="1.3" stroke-dasharray="6,10" d="M447.6 1177.2L438.1 1175.7M438.1 1175.7L433 1170M449.7 1130.8L440.9 1129.5M440.9 1129.5L438.6 1126.9"/>
<polygon points="263.2,1305.9 281.7,1301.2 271,1293 252.5,1297.7"/>
<polygon points="559.7,1181.1 578.2,1268.1 567.6,1259.9 549.1,1235.5"/>
<path fill="none" stroke-width="1.3" stroke-dasharray="6,10" d="M576.5 1260.2L566.9 1252.7M566.9 1252.7L562.3 1252.9M568.1 1220.6L563.3 1216.9M563.3 1216.9L552.6 1217.4"/>
<polygon points="387.6,1306.7 406.1,1297.4 395.5,1293.8 377,1298.5"/>
<polygon points="684.2,1306.9 702.7,1302.2 692,1294 673.5,1298.7"/>
<polygon points="512.1,1161.6 530.6,1177.7 519.9,1002.9 501.4,1111.8"/>
<path fill="none" stroke-width="1.3" stroke-dasharray="6,10" d="M527.9 1134L513.2 1138.9M513.2 1138.9L506.8 1136.7M525.2 1090.3L515.4 1093.6M515.4 1093.6L505.1 1090M522.6 1046.6L517.7 1048.2M517.7 1048.2L512.5 1046.4"/>
<polygon points="340,1308 358.5,1303.3 347.8,1295.1 329.3,1299.8"/>
<polygon points="636.5,1308.2 655,1303.5 644.4,1295.3 625.9,1300.1"/>
<polygon points="464.4,983.8 482.9,1095.7 472.3,1170.9 453.8,1154.8"/>
<path fill="none" stroke-width="1.3" stroke-dasharray="6,10" d="M477.6 1133.3L470.6 1131.9M470.6 1131.9L455 1134.9M469 1092.9L457.5 1095.1M476.3 1055.7L467.4 1053.9M467.4 1053.9L460 1055.4M469.7 1015.8L465.7 1015M465.7 1015L462.4 1015.6"/>
<polygon points="292.3,1309.3 310.8,1304.6 300.2,1296.4 281.7,1301.2"/>
<polygon points="588.9,1309.6 607.4,1304.8 596.7,1296.6 578.2,1268.1"/>
<polygon points="416.8,1268.4 435.3,1222 424.6,1234.7 406.1,1297.4"/>
<polygon points="713.3,1310.3 731.8,1305.6 721.2,1297.4 702.7,1302.2"/>
<polygon points="541.2,1165.1 559.7,1181.1 549.1,1235.5 530.6,1177.7"/>
<path fill="none" stroke-width="1.3" stroke-dasharray="6,10" d="M552.6 1217.4L547.1 1217.9M547.1 1217.9L542.9 1216.2"/>
<polygon points="369.1,1311.4 387.6,1306.7 377,1298.5 358.5,1303.3"/>
<polygon points="665.7,1311.7 684.2,1306.9 673.5,1298.7 655,1303.5"/>
<polygon points="493.6,1145.5 512.1,1161.6 501.4,1111.8 482.9,1095.7"/>
<polygon points="321.5,1312.8 340,1308 329.3,1299.8 310.8,1304.6"/>
<polygon points="618,1313 636.5,1308.2 625.9,1300.1 607.4,1304.8"/>
<polygon points="445.9,1021.9 464.4,983.8 453.8,1154.8 435.3,1222"/>
<path fill="none" stroke-width="1.3" stroke-dasharray="6,10" d="M447.6 1177.2L437.4 1182M455 1134.9L452.7 1135.8M452.7 1135.8L439.5 1142M457.5 1095.1L450.4 1097.8M450.4 1097.8L441.7 1101.9M460 1055.4L448.2 1059.8M448.2 1059.8L443.8 1061.9"/>
<polygon points="273.8,1314.1 292.3,1309.3 281.7,1301.2 263.2,1305.9"/>
<polygon points="570.4,1210.1 588.9,1309.6 578.2,1268.1 559.7,1181.1"/>
<path fill="none" stroke-width="1.3" stroke-dasharray="6,10" d="M581.5 1269.8L577.3 1261.2M574.1 1230L572.7 1227.2M572.7 1227.2L568.1 1220.6"/>
<polygon points="398.3,1314.9 416.8,1268.4 406.1,1297.4 387.6,1306.7"/>
<polygon points="694.8,1315.1 713.3,1310.3 702.7,1302.2 684.2,1306.9"/>
<polygon points="522.7,1149 541.2,1165.1 530.6,1177.7 512.1,1161.6"/>
<polygon points="350.6,1316.2 369.1,1311.4 358.5,1303.3 340,1308"/>
<polygon points="647.2,1316.4 665.7,1311.7 655,1303.5 636.5,1308.2"/>
<polygon points="475.1,1087.8 493.6,1145.5 482.9,1095.7 464.4,983.8"/>
<path fill="none" stroke-width="1.3" stroke-dasharray="6,10" d="M476.3 1055.7L472.8 1065.2M469.7 1015.8L468.1 1020"/>
<polygon points="303,1317.5 321.5,1312.8 310.8,1304.6 292.3,1309.3"/>
<polygon points="599.5,1317.7 618,1313 607.4,1304.8 588.9,1309.6"/>
<polygon points="427.4,1147.5 445.9,1021.9 435.3,1222 416.8,1268.4"/>
<path fill="none" stroke-width="1.3" stroke-dasharray="6,10" d="M437.4 1182L431.5 1186.5M431.5 1186.5L423.6 1190.4M439.5 1142L427.8 1151M433.2 1108.5L441.7 1101.9M439.5 1065.2L443.8 1061.9"/>
<polygon points="724,1318.5 742.5,1313.8 731.8,1305.6 713.3,1310.3"/>
<polygon points="551.9,1102.4 570.4,1210.1 559.7,1181.1 541.2,1165.1"/>
<path fill="none" stroke-width="1.3" stroke-dasharray="6,10" d="M560.1 1150.3L556.2 1145.3M556.2 1145.3L544.4 1146.6"/>
<polygon points="379.8,1319.6 398.3,1314.9 387.6,1306.7 369.1,1311.4"/>
<polygon points="676.3,1319.8 694.8,1315.1 684.2,1306.9 665.7,1311.7"/>
<polygon points="504.2,1016.2 522.7,1149 512.1,1161.6 493.6,1145.5"/>
<path fill="none" stroke-width="1.3" stroke-dasharray="6,10" d="M517.1 1108.7L509 1104.2M509 1104.2L496.8 1106.4M511.5 1068.5L506.9 1066M506.9 1066L500 1067.2"/>
<polygon points="332.1,1320.9 350.6,1316.2 340,1308 321.5,1312.8"/>
<polygon points="628.7,1321.2 647.2,1316.4 636.5,1308.2 618,1313"/>
<polygon points="456.6,1155 475.1,1087.8 464.4,983.8 445.9,1021.9"/>
<path fill="none" stroke-width="1.3" stroke-dasharray="6,10" d="M468.9 1110.2L458.6 1110M458.6 1110L453 1110.7M472.8 1065.2L460.7 1064.9M460.7 1064.9L449.5 1066.3M468.1 1020L462.8 1019.8"/>
<polygon points="284.5,1322.3 303,1317.5 292.3,1309.3 273.8,1314.1"/>
<polygon points="581,1280.8 599.5,1317.7 588.9,1309.6 570.4,1210.1"/>
<path fill="none" stroke-width="1.3" stroke-dasharray="6,10" d="M574.1 1230L573.9 1233.7"/>
<polygon points="408.9,1323 427.4,1147.5 416.8,1268.4 398.3,1314.9"/>
<path fill="none" stroke-width="1.3" stroke-dasharray="6,10" d="M417.9 1237.4L420.2 1229.4M422.5 1194.6L423.6 1190.4"/>
<polygon points="705.5,1323.3 724,1318.5 713.3,1310.3 694.8,1315.1"/>
<polygon points="533.4,1165.5 551.9,1102.4 541.2,1165.1 522.7,1149"/>
<path fill="none" stroke-width="1.3" stroke-dasharray="6,10" d="M536 1156.5L544.4 1146.6M549.2 1111.4L550.6 1109.8"/>
<polygon points="361.3,1324.4 379.8,1319.6 369.1,1311.4 350.6,1316.2"/>
<polygon points="657.8,1324.6 676.3,1319.8 665.7,1311.7 647.2,1316.4"/>
<polygon points="485.7,1000.1 504.2,1016.2 493.6,1145.5 475.1,1087.8"/>
<path fill="none" stroke-width="1.3" stroke-dasharray="6,10" d="M496.8 1106.4L491.5 1107.3M491.5 1107.3L481.2 1107M500 1067.2L489.4 1069M489.4 1069L477.4 1068.7M503.3 1028L487.4 1030.7M487.4 1030.7L482 1030.6"/>
<polygon points="313.6,1325.7 332.1,1320.9 321.5,1312.8 303,1317.5"/>
<polygon points="610.2,1325.9 628.7,1321.2 618,1313 599.5,1317.7"/>
<polygon points="438.1,1284.8 456.6,1155 445.9,1021.9 427.4,1147.5"/>
<path fill="none" stroke-width="1.3" stroke-dasharray="6,10" d="M444.2 1241.5L439.4 1241M439.4 1241L434.6 1240.5M450.4 1198.3L440.7 1197.2M440.7 1197.2L431.2 1196.2M442 1153.3L427.8 1151.9M453 1110.7L443.3 1109.5M443.3 1109.5L433.2 1108.5M449.5 1066.3L444.6 1065.7M444.6 1065.7L439.5 1065.2"/>
<polygon points="734.6,1326.7 753.1,1321.9 742.5,1313.8 724,1318.5"/>
<polygon points="562.5,1264.7 581,1280.8 570.4,1210.1 551.9,1102.4"/>
<path fill="none" stroke-width="1.3" stroke-dasharray="6,10" d="M573.9 1233.7L566.5 1237.4M566.5 1237.4L561.1 1242.8M566.9 1190.2L558.2 1198.9M560.1 1150.3L555.3 1155"/>
<polygon points="390.4,1327.8 408.9,1323 398.3,1314.9 379.8,1319.6"/>
<polygon points="687,1328 705.5,1323.3 694.8,1315.1 676.3,1319.8"/>
<polygon points="514.9,1224.4 533.4,1165.5 522.7,1149 504.2,1016.2"/>
<path fill="none" stroke-width="1.3" stroke-dasharray="6,10" d="M522 1201.7L517.5 1199.3M517.5 1199.3L513.8 1202.7M517.1 1108.7L509.3 1116M511.5 1068.5L507.1 1072.6"/>
<polygon points="342.8,1329.1 361.3,1324.4 350.6,1316.2 332.1,1320.9"/>
<polygon points="639.3,1329.3 657.8,1324.6 647.2,1316.4 628.7,1321.2"/>
<polygon points="467.2,1225.7 485.7,1000.1 475.1,1087.8 456.6,1155"/>
<path fill="none" stroke-width="1.3" stroke-dasharray="6,10" d="M468.5 1202.7L463.7 1202.2M472.5 1161.9L471.1 1156.8M476 1119.3L473.8 1110.8M473.8 1110.8L468.9 1110.2M479.4 1076.7L477.4 1068.7M482.9 1034.2L482 1030.6"/>
<polygon points="295.1,1330.4 313.6,1325.7 303,1317.5 284.5,1322.3"/>
<polygon points="591.7,1330.7 610.2,1325.9 599.5,1317.7 581,1280.8"/>
<polygon points="419.6,1331.2 438.1,1284.8 427.4,1147.5 408.9,1323"/>
<path fill="none" stroke-width="1.3" stroke-dasharray="6,10" d="M421.5 1286.4L413.4 1280.2M434.6 1240.5L423.4 1241.6M423.4 1241.6L417.9 1237.4M431.2 1196.2L425.3 1196.8M425.3 1196.8L422.5 1194.6"/>
<polygon points="716.1,1331.4 734.6,1326.7 724,1318.5 705.5,1323.3"/>
<polygon points="544,1248.7 562.5,1264.7 551.9,1102.4 533.4,1165.5"/>
<path fill="none" stroke-width="1.3" stroke-dasharray="6,10" d="M558.2 1198.9L546.5 1202.9M546.5 1202.9L538.1 1202.4M555.3 1155L548.9 1157.2M548.9 1157.2L536 1156.5"/>
<polygon points="371.9,1332.5 390.4,1327.8 379.8,1319.6 361.3,1324.4"/>
<polygon points="668.5,1332.8 687,1328 676.3,1319.8 657.8,1324.6"/>
<polygon points="496.4,1229.1 514.9,1224.4 504.2,1016.2 485.7,1000.1"/>
<path fill="none" stroke-width="1.3" stroke-dasharray="6,10" d="M513.8 1202.7L497.2 1207M511.5 1159.3L498.8 1162.6M498.8 1162.6L493.4 1164.3M509.3 1116L500.5 1118.2M500.5 1118.2L491.4 1121.1M507.1 1072.6L502.1 1073.9M502.1 1073.9L489.3 1077.9M503.7 1029.5L487.3 1034.7"/>
<polygon points="324.3,1333.9 342.8,1329.1 332.1,1320.9 313.6,1325.7"/>
<polygon points="620.8,1334.1 639.3,1329.3 628.7,1321.2 610.2,1325.9"/>
<polygon points="448.7,1329.6 467.2,1225.7 456.6,1155 438.1,1284.8"/>
<path fill="none" stroke-width="1.3" stroke-dasharray="6,10" d="M455.6 1291.2L450.5 1290M463.3 1247.6L452.5 1245M452.5 1245L444.2 1241.5M463.7 1202.2L454.6 1200M454.6 1200L450.4 1198.3"/>
<polygon points="745.3,1334.9 763.8,1330.1 753.1,1321.9 734.6,1326.7"/>
<polygon points="573.2,1335.4 591.7,1330.7 581,1280.8 562.5,1264.7"/>
<polygon points="401.1,1336 419.6,1331.2 408.9,1323 390.4,1327.8"/>
<polygon points="697.6,1336.2 716.1,1331.4 705.5,1323.3 687,1328"/>
<polygon points="525.5,1253.4 544,1248.7 533.4,1165.5 514.9,1224.4"/>
<path fill="none" stroke-width="1.3" stroke-dasharray="6,10" d="M538.1 1202.4L529.9 1204.6M529.9 1204.6L522 1201.7"/>
<polygon points="353.4,1337.3 371.9,1332.5 361.3,1324.4 342.8,1329.1"/>
<polygon points="650,1337.5 668.5,1332.8 657.8,1324.6 639.3,1329.3"/>
<polygon points="477.9,1288.1 496.4,1229.1 485.7,1000.1 467.2,1225.7"/>
<path fill="none" stroke-width="1.3" stroke-dasharray="6,10" d="M489.3 1251.8L478.8 1253.2M478.8 1253.2L471.3 1249.7M495.4 1207.5L480 1209.5M480 1209.5L469 1204.4M493.4 1164.3L481.2 1165.9M481.2 1165.9L472.5 1161.9M491.4 1121.1L482.4 1122.3M482.4 1122.3L476 1119.3M489.3 1077.9L483.6 1078.7M483.6 1078.7L479.4 1076.7M487.3 1034.7L484.8 1035M484.8 1035L482.9 1034.2"/>
<polygon points="305.8,1338.6 324.3,1333.9 313.6,1325.7 295.1,1330.4"/>
<polygon points="602.3,1338.8 620.8,1334.1 610.2,1325.9 591.7,1330.7"/>
<polygon points="430.2,1339.4 448.7,1329.6 438.1,1284.8 419.6,1331.2"/>
<polygon points="726.8,1339.6 745.3,1334.9 734.6,1326.7 716.1,1331.4"/>
<polygon points="554.7,1290.2 573.2,1335.4 562.5,1264.7 544,1248.7"/>
<path fill="none" stroke-width="1.3" stroke-dasharray="6,10" d="M557.8 1297.7L566.1 1288.3"/>
<polygon points="382.6,1340.7 401.1,1336 390.4,1327.8 371.9,1332.5"/>
<polygon points="679.1,1340.9 697.6,1336.2 687,1328 668.5,1332.8"/>
<polygon points="507,1195.7 525.5,1253.4 514.9,1224.4 496.4,1229.1"/>
<path fill="none" stroke-width="1.3" stroke-dasharray="6,10" d="M513.2 1214.9L510.9 1210M510.9 1210L501.7 1212.4"/>
<polygon points="334.9,1342 353.4,1337.3 342.8,1329.1 324.3,1333.9"/>
<polygon points="631.5,1342.3 650,1337.5 639.3,1329.3 620.8,1334.1"/>
<polygon points="459.4,1342.8 477.9,1288.1 467.2,1225.7 448.7,1329.6"/>
<path fill="none" stroke-width="1.3" stroke-dasharray="6,10" d="M474.8 1297.2L462.5 1296M462.5 1296L455.6 1291.2M471.3 1249.7L465.7 1249.1M465.7 1249.1L463.3 1247.6"/>
<polygon points="755.9,1343 774.4,1338.3 763.8,1330.1 745.3,1334.9"/>
<polygon points="583.8,1343.6 602.3,1338.8 591.7,1330.7 573.2,1335.4"/>
<polygon points="411.7,1344.1 430.2,1339.4 419.6,1331.2 401.1,1336"/>
<polygon points="708.3,1344.4 726.8,1339.6 716.1,1331.4 697.6,1336.2"/>
<polygon points="536.2,1219.9 554.7,1290.2 544,1248.7 525.5,1253.4"/>
<polygon points="364.1,1345.5 382.6,1340.7 371.9,1332.5 353.4,1337.3"/>
<polygon points="660.6,1345.7 679.1,1340.9 668.5,1332.8 650,1337.5"/>
<polygon points="488.5,1312.9 507,1195.7 496.4,1229.1 477.9,1288.1"/>
<path fill="none" stroke-width="1.3" stroke-dasharray="6,10" d="M489.4 1303L483.2 1300.5M496.7 1260.8L494.1 1253.8M494.1 1253.8L489.3 1251.8M503.6 1217.4L501.7 1212.4"/>
<polygon points="316.4,1346.8 334.9,1342 324.3,1333.9 305.8,1338.6"/>
<polygon points="613,1347 631.5,1342.3 620.8,1334.1 602.3,1338.8"/>
<polygon points="440.9,1347.6 459.4,1342.8 448.7,1329.6 430.2,1339.4"/>
<polygon points="737.4,1347.8 755.9,1343 745.3,1334.9 726.8,1339.6"/>
<polygon points="565.3,1348.3 583.8,1343.6 573.2,1335.4 554.7,1290.2"/>
<path fill="none" stroke-width="1.3" stroke-dasharray="6,10" d="M557.8 1297.7L556.5 1299.9"/>
<polygon points="393.2,1348.9 411.7,1344.1 401.1,1336 382.6,1340.7"/>
<polygon points="689.8,1349.1 708.3,1344.4 697.6,1336.2 679.1,1340.9"/>
<polygon points="517.7,1308 536.2,1219.9 525.5,1253.4 507,1195.7"/>
<path fill="none" stroke-width="1.3" stroke-dasharray="6,10" d="M513.2 1214.9L509.2 1218.1"/>
<polygon points="345.6,1350.2 364.1,1345.5 353.4,1337.3 334.9,1342"/>
<polygon points="642.1,1350.4 660.6,1345.7 650,1337.5 631.5,1342.3"/>
<polygon points="470,1351 488.5,1312.9 477.9,1288.1 459.4,1342.8"/>
<path fill="none" stroke-width="1.3" stroke-dasharray="6,10" d="M483.2 1300.5L476.6 1298.5M476.6 1298.5L474.8 1297.2"/>
<polygon points="594.5,1351.8 613,1347 602.3,1338.8 583.8,1343.6"/>
<polygon points="422.4,1352.3 440.9,1347.6 430.2,1339.4 411.7,1344.1"/>
<polygon points="718.9,1352.5 737.4,1347.8 726.8,1339.6 708.3,1344.4"/>
<polygon points="546.8,1319.8 565.3,1348.3 554.7,1290.2 536.2,1219.9"/>
<path fill="none" stroke-width="1.3" stroke-dasharray="6,10" d="M556.5 1299.9L550.8 1305M550.8 1305L545.9 1310.7M546.5 1258.9L541 1265.3"/>
<polygon points="374.7,1353.6 393.2,1348.9 382.6,1340.7 364.1,1345.5"/>
<polygon points="671.3,1353.9 689.8,1349.1 679.1,1340.9 660.6,1345.7"/>
<polygon points="499.2,1354.4 517.7,1308 507,1195.7 488.5,1312.9"/>
<path fill="none" stroke-width="1.3" stroke-dasharray="6,10" d="M501.4 1309.1L489.9 1304.2M513.4 1263.1L503.7 1263.7M503.7 1263.7L496.7 1260.8M509.2 1218.1L505.9 1218.3M505.9 1218.3L503.6 1217.4"/>
<polygon points="327.1,1355 345.6,1350.2 334.9,1342 316.4,1346.8"/>
<polygon points="623.6,1355.2 642.1,1350.4 631.5,1342.3 613,1347"/>
<polygon points="451.5,1355.7 470,1351 459.4,1342.8 440.9,1347.6"/>
<polygon points="576,1356.5 594.5,1351.8 583.8,1343.6 565.3,1348.3"/>
<polygon points="403.9,1357.1 422.4,1352.3 411.7,1344.1 393.2,1348.9"/>
<polygon points="700.4,1357.3 718.9,1352.5 708.3,1344.4 689.8,1349.1"/>
<polygon points="528.3,1357.8 546.8,1319.8 536.2,1219.9 517.7,1308"/>
<path fill="none" stroke-width="1.3" stroke-dasharray="6,10" d="M545.9 1310.7L530.9 1311.9M541 1265.3L533.6 1265.9M533.6 1265.9L526.9 1264"/>
<polygon points="356.2,1358.4 374.7,1353.6 364.1,1345.5 345.6,1350.2"/>
<polygon points="652.8,1358.6 671.3,1353.9 660.6,1345.7 642.1,1350.4"/>
<polygon points="480.7,1359.2 499.2,1354.4 488.5,1312.9 470,1351"/>
<polygon points="605.1,1359.9 623.6,1355.2 613,1347 594.5,1351.8"/>
<polygon points="433,1360.5 451.5,1355.7 440.9,1347.6 422.4,1352.3"/>
<polygon points="557.5,1361.3 576,1356.5 565.3,1348.3 546.8,1319.8"/>
<polygon points="385.4,1361.8 403.9,1357.1 393.2,1348.9 374.7,1353.6"/>
<polygon points="681.9,1362 700.4,1357.3 689.8,1349.1 671.3,1353.9"/>
<polygon points="509.8,1362.6 528.3,1357.8 517.7,1308 499.2,1354.4"/>
<polygon points="337.7,1363.1 356.2,1358.4 345.6,1350.2 327.1,1355"/>
<polygon points="634.3,1363.4 652.8,1358.6 642.1,1350.4 623.6,1355.2"/>
<polygon points="462.2,1363.9 480.7,1359.2 470,1351 451.5,1355.7"/>
<polygon points="586.6,1364.7 605.1,1359.9 594.5,1351.8 576,1356.5"/>
<polygon points="414.5,1365.2 433,1360.5 422.4,1352.3 403.9,1357.1"/>
<polygon points="539,1366 557.5,1361.3 546.8,1319.8 528.3,1357.8"/>
<polygon points="366.9,1366.6 385.4,1361.8 374.7,1353.6 356.2,1358.4"/>
<polygon points="663.4,1366.8 681.9,1362 671.3,1353.9 652.8,1358.6"/>
<polygon points="491.3,1367.3 509.8,1362.6 499.2,1354.4 480.7,1359.2"/>
<polygon points="615.8,1368.1 634.3,1363.4 623.6,1355.2 605.1,1359.9"/>
<polygon points="443.7,1368.7 462.2,1363.9 451.5,1355.7 433,1360.5"/>
<polygon points="568.1,1369.4 586.6,1364.7 576,1356.5 557.5,1361.3"/>
<polygon points="396,1370 414.5,1365.2 403.9,1357.1 385.4,1361.8"/>
<polygon points="520.5,1370.8 539,1366 528.3,1357.8 509.8,1362.6"/>
<polygon points="348.4,1371.3 366.9,1366.6 356.2,1358.4 337.7,1363.1"/>
<polygon points="644.9,1371.5 663.4,1366.8 652.8,1358.6 634.3,1363.4"/>
<polygon points="472.8,1372.1 491.3,1367.3 480.7,1359.2 462.2,1363.9"/>
<polygon points="597.3,1372.9 615.8,1368.1 605.1,1359.9 586.6,1364.7"/>
<polygon points="425.2,1373.4 443.7,1368.7 433,1360.5 414.5,1365.2"/>
<polygon points="549.6,1374.2 568.1,1369.4 557.5,1361.3 539,1366"/>
<polygon points="377.5,1374.7 396,1370 385.4,1361.8 366.9,1366.6"/>
<polygon points="502,1375.5 520.5,1370.8 509.8,1362.6 491.3,1367.3"/>
<polygon points="626.4,1376.3 644.9,1371.5 634.3,1363.4 615.8,1368.1"/>
<polygon points="454.3,1376.8 472.8,1372.1 462.2,1363.9 443.7,1368.7"/>
<polygon points="578.8,1377.6 597.3,1372.9 586.6,1364.7 568.1,1369.4"/>
<polygon points="406.7,1378.2 425.2,1373.4 414.5,1365.2 396,1370"/>
<polygon points="531.1,1378.9 549.6,1374.2 539,1366 520.5,1370.8"/>
<polygon points="359,1379.5 377.5,1374.7 366.9,1366.6 348.4,1371.3"/>
<polygon points="483.5,1380.3 502,1375.5 491.3,1367.3 472.8,1372.1"/>
<polygon points="607.9,1381 626.4,1376.3 615.8,1368.1 597.3,1372.9"/>
<polygon points="435.8,1381.6 454.3,1376.8 443.7,1368.7 425.2,1373.4"/>
<polygon points="560.3,1382.4 578.8,1377.6 568.1,1369.4 549.6,1374.2"/>
<polygon points="388.2,1382.9 406.7,1378.2 396,1370 377.5,1374.7"/>
<polygon points="512.6,1383.7 531.1,1378.9 520.5,1370.8 502,1375.5"/>
<polygon points="465,1385 483.5,1380.3 472.8,1372.1 454.3,1376.8"/>
<polygon points="589.4,1385.8 607.9,1381 597.3,1372.9 578.8,1377.6"/>
<polygon points="417.3,1386.3 435.8,1381.6 425.2,1373.4 406.7,1378.2"/>
<polygon points="541.8,1387.1 560.3,1382.4 549.6,1374.2 531.1,1378.9"/>
<polygon points="369.7,1387.7 388.2,1382.9 377.5,1374.7 359,1379.5"/>
<polygon points="494.1,1388.4 512.6,1383.7 502,1375.5 483.5,1380.3"/>
<polygon points="446.5,1389.8 465,1385 454.3,1376.8 435.8,1381.6"/>
<polygon points="570.9,1390.5 589.4,1385.8 578.8,1377.6 560.3,1382.4"/>
<polygon points="398.8,1391.1 417.3,1386.3 406.7,1378.2 388.2,1382.9"/>
<polygon points="523.3,1391.9 541.8,1387.1 531.1,1378.9 512.6,1383.7"/>
<polygon points="475.6,1393.2 494.1,1388.4 483.5,1380.3 465,1385"/>
<polygon points="428,1394.5 446.5,1389.8 435.8,1381.6 417.3,1386.3"/>
<polygon points="552.4,1395.3 570.9,1390.5 560.3,1382.4 541.8,1387.1"/>
<polygon points="380.3,1395.8 398.8,1391.1 388.2,1382.9 369.7,1387.7"/>
<polygon points="504.8,1396.6 523.3,1391.9 512.6,1383.7 494.1,1388.4"/>
<polygon points="457.1,1397.9 475.6,1393.2 465,1385 446.5,1389.8"/>
<polygon points="409.5,1399.3 428,1394.5 417.3,1386.3 398.8,1391.1"/>
<polygon points="533.9,1400 552.4,1395.3 541.8,1387.1 523.3,1391.9"/>
<polygon points="486.3,1401.4 504.8,1396.6 494.1,1388.4 475.6,1393.2"/>
<polygon points="438.6,1402.7 457.1,1397.9 446.5,1389.8 428,1394.5"/>
<polygon points="391,1404 409.5,1399.3 398.8,1391.1 380.3,1395.8"/>
<polygon points="515.4,1404.8 533.9,1400 523.3,1391.9 504.8,1396.6"/>
<polygon points="467.8,1406.1 486.3,1401.4 475.6,1393.2 457.1,1397.9"/>
<polygon points="420.1,1407.4 438.6,1402.7 428,1394.5 409.5,1399.3"/>
<polygon points="496.9,1409.5 515.4,1404.8 504.8,1396.6 486.3,1401.4"/>
<polygon points="449.3,1410.9 467.8,1406.1 457.1,1397.9 438.6,1402.7"/>
<polygon points="401.6,1412.2 420.1,1407.4 409.5,1399.3 391,1404"/>
<polygon points="478.4,1414.3 496.9,1409.5 486.3,1401.4 467.8,1406.1"/>
<polygon points="430.8,1415.6 449.3,1410.9 438.6,1402.7 420.1,1407.4"/>
<polygon points="459.9,1419 478.4,1414.3 467.8,1406.1 449.3,1410.9"/>
<polygon points="412.3,1420.4 430.8,1415.6 420.1,1407.4 401.6,1412.2"/>
<polygon points="441.4,1423.8 459.9,1419 449.3,1410.9 430.8,1415.6"/>
<polygon points="422.9,1428.5 441.4,1423.8 430.8,1415.6 412.3,1420.4"/>
</g>
<g stroke="#111" fill="none">
<line x1="206" y1="1271.5" x2="419" y2="1435" stroke-width="1.6"/>
<line x1="419" y1="1435" x2="789" y2="1340" stroke-width="1.6"/>
<line x1="206" y1="1300.5" x2="206" y2="946.1" stroke-width="1.6"/>
<line x1="419" y1="1465" x2="419" y2="1109.6" stroke-width="1.6"/>
<line x1="789" y1="1369" x2="789" y2="1014.6" stroke-width="1.6"/>
<line x1="576" y1="1176.5" x2="576" y2="851.1" stroke-width="1.6"/>
<line x1="206" y1="946.1" x2="576" y2="851.1" stroke-width="1.6"/>
<line x1="576" y1="851.1" x2="789" y2="1014.6" stroke-width="1.6"/>
<line x1="206" y1="946.1" x2="419" y2="1109.6" stroke-width="1.6"/>
<line x1="419" y1="1109.6" x2="789" y2="1014.6" stroke-width="1.6"/>
<line x1="177" y1="1271.5" x2="206" y2="1271.5" stroke-width="1.6"/>
<line x1="177" y1="1188.2" x2="206" y2="1188.2" stroke-width="1.6"/>
<line x1="177" y1="1104.8" x2="206" y2="1104.8" stroke-width="1.6"/>
<line x1="177" y1="1021.5" x2="206" y2="1021.5" stroke-width="1.6"/>
<line x1="456" y1="1425.5" x2="456" y2="1454.5" stroke-width="1.5"/>
<line x1="493" y1="1416" x2="493" y2="1445" stroke-width="1.5"/>
<line x1="530" y1="1406.5" x2="530" y2="1435.5" stroke-width="1.5"/>
<line x1="567" y1="1397" x2="567" y2="1426" stroke-width="1.5"/>
<line x1="604" y1="1387.5" x2="604" y2="1416.5" stroke-width="1.5"/>
<line x1="641" y1="1378" x2="641" y2="1407" stroke-width="1.5"/>
<line x1="678" y1="1368.5" x2="678" y2="1397.5" stroke-width="1.5"/>
<line x1="715" y1="1359" x2="715" y2="1388" stroke-width="1.5"/>
<line x1="752" y1="1349.5" x2="752" y2="1378.5" stroke-width="1.5"/>
<line x1="397.7" y1="1418.7" x2="397.7" y2="1447.7" stroke-width="1.5"/>
<line x1="376.4" y1="1402.3" x2="376.4" y2="1431.3" stroke-width="1.5"/>
<line x1="355.1" y1="1386" x2="355.1" y2="1415" stroke-width="1.5"/>
<line x1="333.8" y1="1369.6" x2="333.8" y2="1398.6" stroke-width="1.5"/>
<line x1="312.5" y1="1353.2" x2="312.5" y2="1382.2" stroke-width="1.5"/>
<line x1="291.2" y1="1336.9" x2="291.2" y2="1365.9" stroke-width="1.5"/>
<line x1="269.9" y1="1320.5" x2="269.9" y2="1349.5" stroke-width="1.5"/>
<line x1="248.6" y1="1304.2" x2="248.6" y2="1333.2" stroke-width="1.5"/>
<line x1="227.3" y1="1287.8" x2="227.3" y2="1316.8" stroke-width="1.5"/>
</g>
<text x="106.6" y="1031.6" font-size="60">60</text>
<text x="107.2" y="1113.9" font-size="60">40</text>
<text x="104.5" y="1199.2" font-size="60">20</text>
<text x="128.9" y="1283.1" font-size="60">0</text>
<text x="166" y="1347.9" font-size="52.5">10</text>
<text x="224.6" y="1381.7" font-size="52.5">5</text>
<text x="262.2" y="1412.6" font-size="52.5">0</text>
<text x="292.9" y="1453.4" font-size="52.5">-5</text>
<text x="325.1" y="1496.1" font-size="52.5">-10</text>
<text x="411.9" y="1506" font-size="52.5">-10</text>
<text x="507" y="1480.2" font-size="52.5">-5</text>
<text x="595.2" y="1465.3" font-size="52.5">0</text>
<text x="658.5" y="1449.2" font-size="52.5">5</text>
<text x="719" y="1422.8" font-size="52.5">10</text>
<text x="850.2" y="950.2" font-size="68">60</text>
<text x="851" y="1089.2" font-size="68">40</text>
<text x="850.7" y="1232.8" font-size="68">20</text>
<text x="851.2" y="1370.9" font-size="68">0</text>
<text x="138.7" y="846.5" font-size="49" font-weight="bold">(c)</text>
<g transform="translate(531,1520) scale(0.976,1.0)" fill="none" stroke="#111" stroke-linecap="round"><path d="M0.5,9.8 C3,7.6 6,5.2 9,5.4" stroke-width="2.2"/><path d="M8.2,5.5 C12,6 14,9.5 16.2,14.5 L23.3,30.5" stroke-width="5.4"/><path d="M23.3,30.5 C25,35.5 29,35.5 32.5,25" stroke-width="3.4"/><path d="M26.5,2.8 C21,4.5 17,12 14.8,20 C13,27 11,34 5,38" stroke-width="2.2"/><circle cx="27.3" cy="3.3" r="3.2" fill="#111" stroke="none"/><circle cx="5" cy="38.2" r="3.4" fill="#111" stroke="none"/></g>
<text transform="translate(584,1522.9) rotate(-14) scale(0.8,1)" x="-10.8" y="14.9" font-size="62">(</text>
<text transform="translate(608.5,1516.4) rotate(-14) scale(0.85,1)" x="-11.4" y="21.9" font-size="62">f</text>
<text transform="translate(644.8,1514.4) rotate(-14) scale(0.74,1)" x="-24.2" y="14.6" font-size="62">m</text>
<text transform="translate(668.5,1499.7) rotate(-14) scale(0.8,1)" x="-10" y="14.9" font-size="62">)</text>
<g transform="translate(176,1424.6) scale(0.99,0.944)" fill="#111" stroke="#111" stroke-linecap="round"><path d="M36.5,1.5 L46.5,4.5 L26,31.5 L22.5,31 Z" stroke-width="1"/><path d="M4,29 C8,32.5 15,33 24,31.3 C34,29.5 47,27 56.5,21.5" fill="none" stroke-width="2.8"/><circle cx="4.2" cy="28.2" r="3.4" stroke="none"/><circle cx="57.3" cy="21.3" r="3.4" stroke="none"/></g>
<text transform="translate(247.9,1468.9) rotate(42) scale(0.8,1)" x="-10.8" y="14.9" font-size="62">(</text>
<text transform="translate(267.2,1490.2) rotate(42) scale(0.82,1)" x="-11.4" y="21.9" font-size="62">f</text>
<text transform="translate(285.6,1516.1) rotate(42) scale(0.74,1)" x="-24.2" y="14.6" font-size="62">m</text>
<text transform="translate(309.9,1530.6) rotate(42) scale(0.8,1)" x="-10" y="14.9" font-size="62">)</text>
<g transform="translate(22.1,1084.6) scale(1.009,1.018)" fill="none" stroke="#111" stroke-linecap="round"><path d="M42,13 C37,2 19,-1 12,9 C7,17 13,26 24,27" stroke-width="5.5"/><path d="M20,27.5 L36,26" stroke-width="6"/><path d="M23,28 C7,29 0,40 5,49 C11,58 32,57 40,45" stroke-width="9"/><circle cx="41" cy="12" r="6" fill="#111" stroke="none"/><circle cx="39.5" cy="45.5" r="4.5" fill="#111" stroke="none"/></g>
<!-- panel d -->
<g>
<rect x="1674.2" y="838.8" width="37.3" height="56" fill="#141414"/>
<rect x="1674.2" y="894.8" width="37.3" height="57.1" fill="#3f3f3f"/>
<rect x="1674.2" y="951.9" width="37.3" height="36.1" fill="#5a5a5a"/>
<rect x="1674.2" y="988" width="37.3" height="19.8" fill="#606060"/>
<rect x="1674.2" y="1007.8" width="37.3" height="56" fill="#6c6c6c"/>
<rect x="1674.2" y="1063.8" width="37.3" height="28" fill="#757575"/>
<rect x="1674.2" y="1091.8" width="37.3" height="28.7" fill="#777777"/>
<rect x="1674.2" y="1120.5" width="37.3" height="57.1" fill="#8f8f8f"/>
<rect x="1674.2" y="1177.6" width="37.3" height="17.9" fill="#ababab"/>
<rect x="1674.2" y="1195.5" width="37.3" height="38.1" fill="#a9a9a9"/>
<rect x="1674.2" y="1233.6" width="37.3" height="56" fill="#d0d0d0"/>
<rect x="1674.2" y="1289.6" width="37.3" height="10" fill="#e4e4e4"/>
<rect x="1674.2" y="1299.6" width="37.3" height="46.7" fill="#e6e6e6"/>
<rect x="1674.2" y="1346.3" width="37.3" height="57.1" fill="#ffffff"/>
<line x1="1674.2" y1="988" x2="1711.5" y2="988" stroke="#111" stroke-width="1.5"/>
<line x1="1674.2" y1="1091.8" x2="1711.5" y2="1091.8" stroke="#111" stroke-width="1.5"/>
<line x1="1674.2" y1="1195.5" x2="1711.5" y2="1195.5" stroke="#111" stroke-width="1.5"/>
<line x1="1674.2" y1="1299.6" x2="1711.5" y2="1299.6" stroke="#111" stroke-width="1.5"/>
<rect x="1674.2" y="838.8" width="37.3" height="564.6" fill="none" stroke="#111" stroke-width="1.6"/>
</g>
<g stroke="none">
<path fill="#e6e6e6" fill-rule="evenodd" d="M1394.9 1016.7L1415.9 1014L1430.3 1006.3L1444.1 1001L1446.4 999.9L1464.9 995.3L1474 983.6L1474.6 982.6L1472.2 982.1L1453.4 977.1L1455.8 969.7L1457.9 965.3L1447.5 957.1L1436.7 955.2L1426.4 951.6L1413.3 944.2L1399.4 936.9L1381.7 930.6L1379.3 930.3L1352.6 927.1L1350.2 926.9L1329.1 929.5L1315.5 936.4L1314.5 937.1L1303.8 947.6L1301.1 950.7L1293.6 958.5L1290 964.3L1292.8 974.3L1293.8 977.3L1290.7 985.6L1301.3 993.7L1315.2 1001L1327.4 1002.8L1337.1 1006.2L1350.6 1013.6L1368.9 1015.7L1384.8 1015.8ZM1395.5 1013.1L1390.1 1013.1L1365.8 1013.3L1356.1 1012.2L1341.4 1005.2L1323.9 998.8L1317.9 995.6L1309.2 991.7L1298.6 983.6L1299.4 981.5L1296.5 973.4L1299.2 962.7L1301.4 961.4L1309.8 952.1L1318.5 946.4L1322.2 942.9L1331 943.3L1346.7 942.9L1362.8 946L1377.8 947.8L1389.2 939.5L1389.3 937.9L1391.9 938.8L1407.2 945.7L1422.1 952.7L1438.2 959.4L1448.9 967.5L1446.4 978.9L1459.9 986.2L1457.3 989.5L1438.8 994.1L1426.5 1003.4L1420.8 1006.8L1412.8 1011.7ZM1369.5 944.4L1369.8 941.7L1377.3 942.4L1374 944.9ZM1355.4 937.2L1358.7 933.3L1366.9 934.3L1363.7 937.1ZM1310.9 934.3L1305 928.3L1302.6 928L1301.9 929Z"/>
<path fill="#d0d0d0" fill-rule="evenodd" d="M1412.8 1011.7L1420.8 1006.8L1426.5 1003.4L1438.8 994.1L1457.3 989.5L1459.9 986.2L1446.4 978.9L1448.9 967.5L1438.2 959.4L1422.1 952.7L1407.2 945.7L1391.9 938.8L1389.3 937.9L1389.2 939.5L1377.8 947.8L1362.8 946L1346.7 942.9L1331 943.3L1322.2 942.9L1318.5 946.4L1309.8 952.1L1301.4 961.4L1299.2 962.7L1296.5 973.4L1299.4 981.5L1298.6 983.6L1309.2 991.7L1317.9 995.6L1323.9 998.8L1341.4 1005.2L1356.1 1012.2L1365.8 1013.3L1390.1 1013.1L1395.5 1013.1ZM1361.6 1010.9L1345.8 1004.1L1329 997.5L1313.9 990.5L1303.2 982.5L1300.3 972.4L1302.2 965L1313 958.5L1315.1 956.2L1328.3 947.5L1352.1 946.9L1356.1 947.7L1381.7 950.8L1398.7 947.8L1401.9 947.5L1417.8 953.8L1426.7 962.3L1437.3 970.4L1437 974.1L1440.9 980.3L1434.4 990.8L1431.5 993.3L1423.5 1001.2L1409.5 1009.2L1384.8 1009L1362.8 1011ZM1363.7 937.1L1366.9 934.3L1358.7 933.3L1355.4 937.2Z"/>
<path fill="#aaaaaa" fill-rule="evenodd" d="M1362.8 1011L1384.8 1009L1409.5 1009.2L1423.5 1001.2L1431.5 993.3L1434.4 990.8L1440.9 980.3L1437 974.1L1437.3 970.4L1426.7 962.3L1417.8 953.8L1401.9 947.5L1398.7 947.8L1381.7 950.8L1356.1 947.7L1352.1 946.9L1328.3 947.5L1315.1 956.2L1313 958.5L1302.2 965L1300.3 972.4L1303.2 982.5L1313.9 990.5L1329 997.5L1345.8 1004.1L1361.6 1010.9ZM1388.8 1004L1378.8 1004.5L1354.7 1004.9L1350.2 1003L1334.2 996.2L1317 989.8L1306.1 981.8L1304.1 971.5L1305.1 967.2L1318.7 958.9L1329.1 954.5L1333.6 951.5L1341.7 951.3L1357.4 951L1376.9 953.3L1384.4 952.8L1409.5 953.2L1413.6 954.8L1415.7 958L1416.7 964.8L1429.3 972.4L1436 981.5L1431.6 988.6L1424.4 995.1L1420.5 998.9L1401.9 1003.4Z"/>
<path fill="#8f8f8f" fill-rule="evenodd" d="M1401.9 1003.4L1420.5 998.9L1424.4 995.1L1431.6 988.6L1436 981.5L1429.3 972.4L1416.7 964.8L1415.7 958L1413.6 954.8L1409.5 953.2L1384.4 952.8L1376.9 953.3L1357.4 951L1341.7 951.3L1333.6 951.5L1329.1 954.5L1318.7 958.9L1305.1 967.2L1304.1 971.5L1306.1 981.8L1317 989.8L1334.2 996.2L1350.2 1003L1354.7 1004.9L1378.8 1004.5L1388.8 1004ZM1367.4 998.7L1344.4 997.1L1339.4 994.9L1320.2 989L1309 981L1307.9 970.5L1308.1 969.5L1321.4 960.9L1339 955.7L1362.8 955.1L1367.5 955.6L1386.6 954.5L1409 956L1407.2 967.2L1423.1 974L1431 982.7L1428.7 986.5L1415.6 995.2L1395.7 998.7L1371.1 998.7Z"/>
<path fill="#777777" fill-rule="evenodd" d="M1371.1 998.7L1395.7 998.7L1415.6 995.2L1428.7 986.5L1431 982.7L1423.1 974L1407.2 967.2L1409 956L1386.6 954.5L1367.5 955.6L1362.8 955.1L1339 955.7L1321.4 960.9L1308.1 969.5L1307.9 970.5L1309 981L1320.2 989L1339.4 994.9L1344.4 997.1L1367.4 998.7ZM1384 994.5L1368.5 996.7L1343.4 993.9L1338.6 992.6L1323.3 988.2L1311.9 980.3L1311.3 971.9L1315.6 968.6L1324.1 963L1344.4 959.8L1351.6 959.6L1372 962L1388.7 956.1L1404.3 957.2L1401.8 966L1397.8 969.5L1411.7 973.6L1416.8 975.5L1426.1 984L1425.9 984.3L1423.3 984.7L1400.9 984L1394.2 992L1390.2 994.6Z"/>
<path fill="#6c6c6c" fill-rule="evenodd" d="M1390.2 994.6L1394.2 992L1400.9 984L1423.3 984.7L1425.9 984.3L1426.1 984L1416.8 975.5L1411.7 973.6L1397.8 969.5L1401.8 966L1404.3 957.2L1388.7 956.1L1372 962L1351.6 959.6L1344.4 959.8L1324.1 963L1315.6 968.6L1311.3 971.9L1311.9 980.3L1323.3 988.2L1338.6 992.6L1343.4 993.9L1368.5 996.7L1384 994.5ZM1346.7 993.1L1335 989.9L1326.4 987.4L1314.8 979.6L1314.4 974.3L1324.8 966.3L1326.8 965L1333.1 964.2L1353.5 966.7L1362.2 967.7L1382.6 970.1L1388.6 971.8L1389.8 975.6L1392.6 981.6L1385.8 991.2L1366.6 995.3ZM1381.6 962.8L1390.9 957.7L1399.6 958.3L1398.3 963.3Z"/>
<path fill="#5c5c5c" fill-rule="evenodd" d="M1366.6 995.3L1385.8 991.2L1392.6 981.6L1389.8 975.6L1388.6 971.8L1382.6 970.1L1362.2 967.7L1353.5 966.7L1333.1 964.2L1326.8 965L1324.8 966.3L1314.4 974.3L1314.8 979.6L1326.4 987.4L1335 989.9L1346.7 993.1ZM1350.1 992.2L1331.5 987.2L1329.5 986.6L1317.7 978.8L1317.5 976.7L1329.6 967.2L1353.1 970L1364.1 974.7L1372.9 975.8L1384.9 983.5L1381.7 988.1L1364.7 993.8ZM1398.3 963.3L1399.6 958.3L1390.9 957.7L1381.6 962.8ZM1390.9 960.5L1393 959.3L1395 959.5L1394.7 960.6Z"/>
<path fill="#3f3f3f" fill-rule="evenodd" d="M1364.7 993.8L1381.7 988.1L1384.9 983.5L1372.9 975.8L1364.1 974.7L1353.1 970L1329.6 967.2L1317.5 976.7L1317.7 978.8L1329.5 986.6L1331.5 987.2L1350.1 992.2ZM1353.5 991.4L1343.7 983.1L1322.4 977.7L1332.7 969.5L1347.9 971.3L1354 980.5L1376.8 985.5L1362.8 992.4ZM1394.7 960.6L1395 959.5L1393 959.3L1390.9 960.5Z"/>
<path fill="#141414" fill-rule="evenodd" d="M1362.8 992.4L1376.8 985.5L1354 980.5L1347.9 971.3L1332.7 969.5L1322.4 977.7L1343.7 983.1L1353.5 991.4Z"/>
</g>
<g stroke="#111" stroke-width="1.3" stroke-dasharray="6,10" fill="none">
<polyline points="1080,1204.7 1449.5,1112.2 1662.5,1273.9"/>
<polyline points="1080,1148.7 1449.5,1056.2 1662.5,1217.9"/>
<polyline points="1080,1092.6 1449.5,1000.1 1662.5,1161.8"/>
<polyline points="1080,1036.6 1449.5,944.1 1662.5,1105.8"/>
<polyline points="1080,980.5 1449.5,888 1662.5,1049.7"/>
</g>
<polyline fill="none" stroke="#111" stroke-width="1.6" points="1080,1260.8 1449.5,1168.3 1662.5,1330"/>
<g fill="#fff" stroke="#111" stroke-width="1.35" stroke-linejoin="miter">
<polygon points="1437.8,1187.4 1456.2,1182.7 1445.6,1174.7 1427.1,1179.3"/>
<polygon points="1419.3,1192 1437.8,1187.4 1427.1,1179.3 1408.6,1183.9"/>
<polygon points="1448.4,1195.5 1466.9,1190.8 1456.2,1182.7 1437.8,1187.4"/>
<polygon points="1400.8,1196.6 1419.3,1192 1408.6,1183.9 1390.2,1188.5"/>
<polygon points="1429.9,1200.1 1448.4,1195.5 1437.8,1187.4 1419.3,1192"/>
<polygon points="1382.3,1201.2 1400.8,1196.6 1390.2,1188.5 1371.7,1193.2"/>
<polygon points="1459.1,1203.5 1477.5,1198.9 1466.9,1190.8 1448.4,1195.5"/>
<polygon points="1411.5,1204.7 1429.9,1200.1 1419.3,1192 1400.8,1196.6"/>
<polygon points="1363.9,1205.9 1382.3,1201.2 1371.7,1193.2 1353.2,1197.8"/>
<polygon points="1440.6,1208.2 1459.1,1203.5 1448.4,1195.5 1429.9,1200.1"/>
<polygon points="1393,1209.3 1411.5,1204.7 1400.8,1196.6 1382.3,1201.2"/>
<polygon points="1345.4,1210.5 1363.9,1205.9 1353.2,1197.8 1334.7,1202.4"/>
<polygon points="1469.7,1211.6 1488.2,1207 1477.5,1198.9 1459.1,1203.5"/>
<polygon points="1422.1,1212.8 1440.6,1208.2 1429.9,1200.1 1411.5,1204.7"/>
<polygon points="1374.5,1214 1393,1209.3 1382.3,1201.2 1363.9,1205.9"/>
<polygon points="1326.9,1215.1 1345.4,1210.5 1334.7,1202.4 1316.3,1207"/>
<polygon points="1451.2,1216.2 1469.7,1211.6 1459.1,1203.5 1440.6,1208.2"/>
<polygon points="1403.6,1217.4 1422.1,1212.8 1411.5,1204.7 1393,1209.3"/>
<polygon points="1356,1218.6 1374.5,1214 1363.9,1205.9 1345.4,1210.5"/>
<polygon points="1480.4,1219.7 1498.8,1215.1 1488.2,1207 1469.7,1211.6"/>
<polygon points="1308.4,1219.7 1326.9,1215.1 1316.3,1207 1297.8,1211.7"/>
<polygon points="1432.8,1220.9 1451.2,1216.2 1440.6,1208.2 1422.1,1212.8"/>
<polygon points="1385.2,1222 1403.6,1217.4 1393,1209.3 1374.5,1214"/>
<polygon points="1337.6,1223.2 1356,1218.6 1345.4,1210.5 1326.9,1215.1"/>
<polygon points="1461.9,1224.3 1480.4,1219.7 1469.7,1211.6 1451.2,1216.2"/>
<polygon points="1290,1224.4 1308.4,1219.7 1297.8,1211.7 1279.3,1216.3"/>
<polygon points="1414.3,1225.5 1432.8,1220.9 1422.1,1212.8 1403.6,1217.4"/>
<polygon points="1366.7,1226.7 1385.2,1222 1374.5,1214 1356,1218.6"/>
<polygon points="1491,1227.8 1509.5,1223.2 1498.8,1215.1 1480.4,1219.7"/>
<polygon points="1319.1,1227.8 1337.6,1223.2 1326.9,1215.1 1308.4,1219.7"/>
<polygon points="1443.4,1229 1461.9,1224.3 1451.2,1216.2 1432.8,1220.9"/>
<polygon points="1271.5,1229 1290,1224.4 1279.3,1216.3 1260.8,1220.9"/>
<polygon points="1395.8,1230.1 1414.3,1225.5 1403.6,1217.4 1385.2,1222"/>
<polygon points="1348.2,1231.3 1366.7,1226.7 1356,1218.6 1337.6,1223.2"/>
<polygon points="1472.5,1232.4 1491,1227.8 1480.4,1219.7 1461.9,1224.3"/>
<polygon points="1300.6,1232.5 1319.1,1227.8 1308.4,1219.7 1290,1224.4"/>
<polygon points="1424.9,1233.6 1443.4,1229 1432.8,1220.9 1414.3,1225.5"/>
<polygon points="1253,1233.6 1271.5,1229 1260.8,1220.9 1242.4,1225.5"/>
<polygon points="1377.3,1234.7 1395.8,1230.1 1385.2,1222 1366.7,1226.7"/>
<polygon points="1501.7,1235.9 1520.1,1231.2 1509.5,1223.2 1491,1227.8"/>
<polygon points="1329.7,1235.9 1348.2,1231.3 1337.6,1223.2 1319.1,1227.8"/>
<polygon points="1454.1,1237 1472.5,1232.4 1461.9,1224.3 1443.4,1229"/>
<polygon points="1282.1,1237.1 1300.6,1232.5 1290,1224.4 1271.5,1229"/>
<polygon points="1406.5,1238.2 1424.9,1233.6 1414.3,1225.5 1395.8,1230.1"/>
<polygon points="1234.5,1238.2 1253,1233.6 1242.4,1225.5 1223.9,1230.2"/>
<polygon points="1358.9,1239.4 1377.3,1234.7 1366.7,1226.7 1348.2,1231.3"/>
<polygon points="1483.2,1240.5 1501.7,1235.9 1491,1227.8 1472.5,1232.4"/>
<polygon points="1311.3,1240.5 1329.7,1235.9 1319.1,1227.8 1300.6,1232.5"/>
<polygon points="1435.6,1241.7 1454.1,1237 1443.4,1229 1424.9,1233.6"/>
<polygon points="1263.7,1241.7 1282.1,1237.1 1271.5,1229 1253,1233.6"/>
<polygon points="1388,1242.8 1406.5,1238.2 1395.8,1230.1 1377.3,1234.7"/>
<polygon points="1216.1,1242.9 1234.5,1238.2 1223.9,1230.2 1205.4,1234.8"/>
<polygon points="1512.3,1244 1530.8,1239.3 1520.1,1231.2 1501.7,1235.9"/>
<polygon points="1340.4,1243.4 1358.9,1239.4 1348.2,1231.3 1329.7,1235.9"/>
<polygon points="1464.7,1245.1 1483.2,1240.5 1472.5,1232.4 1454.1,1237"/>
<polygon points="1292.8,1245.2 1311.3,1240.5 1300.6,1232.5 1282.1,1237.1"/>
<polygon points="1417.1,1246.3 1435.6,1241.7 1424.9,1233.6 1406.5,1238.2"/>
<polygon points="1245.2,1246.3 1263.7,1241.7 1253,1233.6 1234.5,1238.2"/>
<polygon points="1369.5,1243.5 1388,1242.8 1377.3,1234.7 1358.9,1239.4"/>
<polygon points="1197.6,1247.5 1216.1,1242.9 1205.4,1234.8 1186.9,1239.4"/>
<polygon points="1493.8,1248.6 1512.3,1244 1501.7,1235.9 1483.2,1240.5"/>
<polygon points="1321.9,1245.8 1340.4,1243.4 1329.7,1235.9 1311.3,1240.5"/>
<polygon points="1446.2,1249.8 1464.7,1245.1 1454.1,1237 1435.6,1241.7"/>
<polygon points="1274.3,1249.8 1292.8,1245.2 1282.1,1237.1 1263.7,1241.7"/>
<polygon points="1398.6,1247 1417.1,1246.3 1406.5,1238.2 1388,1242.8"/>
<polygon points="1226.7,1251 1245.2,1246.3 1234.5,1238.2 1216.1,1242.9"/>
<polygon points="1523,1252 1541.4,1247.4 1530.8,1239.3 1512.3,1244"/>
<polygon points="1351,1201.6 1369.5,1243.5 1358.9,1239.4 1340.4,1243.4"/>
<polygon points="1179.1,1252.1 1197.6,1247.5 1186.9,1239.4 1168.5,1244"/>
<polygon points="1475.4,1253.2 1493.8,1248.6 1483.2,1240.5 1464.7,1245.1"/>
<polygon points="1303.4,1202.8 1321.9,1245.8 1311.3,1240.5 1292.8,1245.2"/>
<polygon points="1427.8,1253.8 1446.2,1249.8 1435.6,1241.7 1417.1,1246.3"/>
<polygon points="1255.8,1254.4 1274.3,1249.8 1263.7,1241.7 1245.2,1246.3"/>
<polygon points="1380.2,1205.1 1398.6,1247 1388,1242.8 1369.5,1243.5"/>
<polygon points="1208.2,1255.6 1226.7,1251 1216.1,1242.9 1197.6,1247.5"/>
<polygon points="1504.5,1256.7 1523,1252 1512.3,1244 1493.8,1248.6"/>
<polygon points="1332.6,1189.4 1351,1201.6 1340.4,1243.4 1321.9,1245.8"/>
<path fill="none" stroke-width="1.3" stroke-dasharray="6,10" d="M1344.9 1197.6L1333.9 1198.5M1333.9 1198.5L1330.7 1199.2"/>
<polygon points="1160.6,1256.7 1179.1,1252.1 1168.5,1244 1150,1248.7"/>
<polygon points="1456.9,1257.8 1475.4,1253.2 1464.7,1245.1 1446.2,1249.8"/>
<polygon points="1285,1255.1 1303.4,1202.8 1292.8,1245.2 1274.3,1249.8"/>
<polygon points="1409.3,1248.9 1427.8,1253.8 1417.1,1246.3 1398.6,1247"/>
<polygon points="1237.4,1259 1255.8,1254.4 1245.2,1246.3 1226.7,1251"/>
<polygon points="1533.6,1260.1 1552.1,1255.5 1541.4,1247.4 1523,1252"/>
<polygon points="1361.7,1176.1 1380.2,1205.1 1369.5,1243.5 1351,1201.6"/>
<path fill="none" stroke-width="1.3" stroke-dasharray="6,10" d="M1377.1 1200.3L1364.4 1199.7M1364.4 1199.7L1352.8 1197.4"/>
<polygon points="1189.8,1260.2 1208.2,1255.6 1197.6,1247.5 1179.1,1252.1"/>
<polygon points="1486,1261.3 1504.5,1256.7 1493.8,1248.6 1475.4,1253.2"/>
<polygon points="1314.1,1216.5 1332.6,1189.4 1321.9,1245.8 1303.4,1202.8"/>
<path fill="none" stroke-width="1.3" stroke-dasharray="6,10" d="M1323.3 1203L1330.7 1199.2"/>
<polygon points="1142.2,1261.4 1160.6,1256.7 1150,1248.7 1131.5,1253.3"/>
<polygon points="1438.4,1259.1 1456.9,1257.8 1446.2,1249.8 1427.8,1253.8"/>
<polygon points="1266.5,1261.9 1285,1255.1 1274.3,1249.8 1255.8,1254.4"/>
<polygon points="1390.8,1185.1 1409.3,1248.9 1398.6,1247 1380.2,1205.1"/>
<path fill="none" stroke-width="1.3" stroke-dasharray="6,10" d="M1396.9 1206L1393.2 1203.7M1393.2 1203.7L1382.3 1201.1"/>
<polygon points="1218.9,1263.7 1237.4,1259 1226.7,1251 1208.2,1255.6"/>
<polygon points="1515.1,1264.8 1533.6,1260.1 1523,1252 1504.5,1256.7"/>
<polygon points="1343.2,1208.7 1361.7,1176.1 1351,1201.6 1332.6,1189.4"/>
<polygon points="1171.3,1264.8 1189.8,1260.2 1179.1,1252.1 1160.6,1256.7"/>
<polygon points="1467.5,1265.9 1486,1261.3 1475.4,1253.2 1456.9,1257.8"/>
<polygon points="1295.6,1251.9 1314.1,1216.5 1303.4,1202.8 1285,1255.1"/>
<polygon points="1123.7,1266 1142.2,1261.4 1131.5,1253.3 1113,1257.9"/>
<polygon points="1419.9,1251.4 1438.4,1259.1 1427.8,1253.8 1409.3,1248.9"/>
<polygon points="1248,1267.1 1266.5,1261.9 1255.8,1254.4 1237.4,1259"/>
<polygon points="1544.3,1268.2 1562.7,1263.6 1552.1,1255.5 1533.6,1260.1"/>
<polygon points="1372.3,1233.5 1390.8,1185.1 1380.2,1205.1 1361.7,1176.1"/>
<path fill="none" stroke-width="1.3" stroke-dasharray="6,10" d="M1381.3 1209.9L1382.3 1201.1M1377.1 1200.3L1367.7 1208.7"/>
<polygon points="1200.4,1268.3 1218.9,1263.7 1208.2,1255.6 1189.8,1260.2"/>
<polygon points="1496.7,1269.4 1515.1,1264.8 1504.5,1256.7 1486,1261.3"/>
<polygon points="1324.7,1185.3 1343.2,1208.7 1332.6,1189.4 1314.1,1216.5"/>
<path fill="none" stroke-width="1.3" stroke-dasharray="6,10" d="M1323.3 1203L1317.1 1207.6"/>
<polygon points="1152.8,1269.5 1171.3,1264.8 1160.6,1256.7 1142.2,1261.4"/>
<polygon points="1449.1,1264.9 1467.5,1265.9 1456.9,1257.8 1438.4,1259.1"/>
<polygon points="1277.1,1261 1295.6,1251.9 1285,1255.1 1266.5,1261.9"/>
<polygon points="1105.2,1270.6 1123.7,1266 1113,1257.9 1094.6,1262.5"/>
<polygon points="1401.5,1170.8 1419.9,1251.4 1409.3,1248.9 1390.8,1185.1"/>
<path fill="none" stroke-width="1.3" stroke-dasharray="6,10" d="M1411.2 1213.2L1405.3 1209.4M1405.3 1209.4L1396.9 1206"/>
<polygon points="1229.5,1271.7 1248,1267.1 1237.4,1259 1218.9,1263.7"/>
<polygon points="1525.8,1272.8 1544.3,1268.2 1533.6,1260.1 1515.1,1264.8"/>
<polygon points="1353.9,1160.8 1372.3,1233.5 1361.7,1176.1 1343.2,1208.7"/>
<path fill="none" stroke-width="1.3" stroke-dasharray="6,10" d="M1367.3 1213.5L1367.7 1208.7"/>
<polygon points="1181.9,1272.9 1200.4,1268.3 1189.8,1260.2 1171.3,1264.8"/>
<polygon points="1478.2,1274 1496.7,1269.4 1486,1261.3 1467.5,1265.9"/>
<polygon points="1306.3,1218 1324.7,1185.3 1314.1,1216.5 1295.6,1251.9"/>
<polygon points="1134.3,1274.1 1152.8,1269.5 1142.2,1261.4 1123.7,1266"/>
<polygon points="1430.6,1256.1 1449.1,1264.9 1438.4,1259.1 1419.9,1251.4"/>
<polygon points="1258.7,1271.8 1277.1,1261 1266.5,1261.9 1248,1267.1"/>
<polygon points="1554.9,1276.3 1573.4,1271.7 1562.7,1263.6 1544.3,1268.2"/>
<polygon points="1383,1164.2 1401.5,1170.8 1390.8,1185.1 1372.3,1233.5"/>
<path fill="none" stroke-width="1.3" stroke-dasharray="6,10" d="M1381.3 1209.9L1375.3 1214.4"/>
<polygon points="1211.1,1276.4 1229.5,1271.7 1218.9,1263.7 1200.4,1268.3"/>
<polygon points="1507.3,1277.5 1525.8,1272.8 1515.1,1264.8 1496.7,1269.4"/>
<polygon points="1335.4,1137.3 1353.9,1160.8 1343.2,1208.7 1324.7,1185.3"/>
<path fill="none" stroke-width="1.3" stroke-dasharray="6,10" d="M1338 1161.1L1330.1 1161.3"/>
<polygon points="1163.5,1277.5 1181.9,1272.9 1171.3,1264.8 1152.8,1269.5"/>
<polygon points="1459.7,1273 1478.2,1274 1467.5,1265.9 1449.1,1264.9"/>
<polygon points="1287.8,1256.8 1306.3,1218 1295.6,1251.9 1277.1,1261"/>
<polygon points="1115.9,1278.7 1134.3,1274.1 1123.7,1266 1105.2,1270.6"/>
<polygon points="1412.1,1139.6 1430.6,1256.1 1419.9,1251.4 1401.5,1170.8"/>
<path fill="none" stroke-width="1.3" stroke-dasharray="6,10" d="M1424.9 1220.5L1417.4 1215.1M1417.4 1215.1L1411.2 1213.2M1416.4 1166.6L1413.9 1164.8M1413.9 1164.8L1404.5 1161.9"/>
<polygon points="1240.2,1279.8 1258.7,1271.8 1248,1267.1 1229.5,1271.7"/>
<polygon points="1536.4,1280.9 1554.9,1276.3 1544.3,1268.2 1525.8,1272.8"/>
<polygon points="1364.5,1112.8 1383,1164.2 1372.3,1233.5 1353.9,1160.8"/>
<path fill="none" stroke-width="1.3" stroke-dasharray="6,10" d="M1375.3 1214.4L1371.1 1214.2M1371.1 1214.2L1367.3 1213.5"/>
<polygon points="1192.6,1281 1211.1,1276.4 1200.4,1268.3 1181.9,1272.9"/>
<polygon points="1488.8,1282.1 1507.3,1277.5 1496.7,1269.4 1478.2,1274"/>
<polygon points="1316.9,1170 1335.4,1137.3 1324.7,1185.3 1306.3,1218"/>
<polygon points="1145,1282.2 1163.5,1277.5 1152.8,1269.5 1134.3,1274.1"/>
<polygon points="1441.2,1216 1459.7,1273 1449.1,1264.9 1430.6,1256.1"/>
<path fill="none" stroke-width="1.3" stroke-dasharray="6,10" d="M1444.6 1226.4L1442.7 1224.9M1442.7 1224.9L1438.8 1225.3"/>
<polygon points="1269.3,1271 1287.8,1256.8 1277.1,1261 1258.7,1271.8"/>
<polygon points="1565.6,1284.4 1584,1279.8 1573.4,1271.7 1554.9,1276.3"/>
<polygon points="1393.6,1032.2 1412.1,1139.6 1401.5,1170.8 1383,1164.2"/>
<path fill="none" stroke-width="1.3" stroke-dasharray="6,10" d="M1404.5 1161.9L1400.9 1160.5M1407.5 1112.8L1398 1109.2M1398 1109.2L1387.2 1111.4M1398.3 1059L1395.1 1057.8M1395.1 1057.8L1391.5 1058.6"/>
<polygon points="1221.7,1284.5 1240.2,1279.8 1229.5,1271.7 1211.1,1276.4"/>
<polygon points="1518,1285.5 1536.4,1280.9 1525.8,1272.8 1507.3,1277.5"/>
<polygon points="1346,1089.4 1364.5,1112.8 1353.9,1160.8 1335.4,1137.3"/>
<path fill="none" stroke-width="1.3" stroke-dasharray="6,10" d="M1348.6 1113.2L1340.7 1113.4"/>
<polygon points="1174.1,1285.6 1192.6,1281 1181.9,1272.9 1163.5,1277.5"/>
<polygon points="1470.4,1283.4 1488.8,1282.1 1478.2,1274 1459.7,1273"/>
<polygon points="1298.4,1219.5 1316.9,1170 1306.3,1218 1287.8,1256.8"/>
<polygon points="1126.5,1286.8 1145,1282.2 1134.3,1274.1 1115.9,1278.7"/>
<polygon points="1422.8,1175.8 1441.2,1216 1430.6,1256.1 1412.1,1139.6"/>
<path fill="none" stroke-width="1.3" stroke-dasharray="6,10" d="M1438.8 1225.3L1427.5 1224.2M1427.5 1224.2L1424.9 1220.5"/>
<polygon points="1250.8,1284.6 1269.3,1271 1258.7,1271.8 1240.2,1279.8"/>
<polygon points="1547.1,1289 1565.6,1284.4 1554.9,1276.3 1536.4,1280.9"/>
<polygon points="1375.2,1092.8 1393.6,1032.2 1383,1164.2 1364.5,1112.8"/>
<path fill="none" stroke-width="1.3" stroke-dasharray="6,10" d="M1387.2 1111.4L1377.8 1116.6M1384.4 1062.5L1391.5 1058.6"/>
<polygon points="1203.2,1289.1 1221.7,1284.5 1211.1,1276.4 1192.6,1281"/>
<polygon points="1499.5,1290.2 1518,1285.5 1507.3,1277.5 1488.8,1282.1"/>
<polygon points="1327.6,1066 1346,1089.4 1335.4,1137.3 1316.9,1170"/>
<path fill="none" stroke-width="1.3" stroke-dasharray="6,10" d="M1340.7 1113.4L1332.8 1113.6M1332.8 1113.6L1322.2 1118"/>
<polygon points="1155.6,1290.2 1174.1,1285.6 1163.5,1277.5 1145,1282.2"/>
<polygon points="1451.9,1224.1 1470.4,1283.4 1459.7,1273 1441.2,1216"/>
<path fill="none" stroke-width="1.3" stroke-dasharray="6,10" d="M1455.1 1234.5L1453.3 1233M1453.3 1233L1444.6 1226.4"/>
<polygon points="1280,1269.5 1298.4,1219.5 1287.8,1256.8 1269.3,1271"/>
<path fill="none" stroke-width="1.3" stroke-dasharray="6,10" d="M1293.9 1231.8L1295.8 1228.7"/>
<polygon points="1576.2,1292.5 1594.7,1287.8 1584,1279.8 1565.6,1284.4"/>
<polygon points="1404.3,1124.3 1422.8,1175.8 1412.1,1139.6 1393.6,1032.2"/>
<path fill="none" stroke-width="1.3" stroke-dasharray="6,10" d="M1398.3 1059L1397.2 1062.9"/>
<polygon points="1232.4,1292.5 1250.8,1284.6 1240.2,1279.8 1221.7,1284.5"/>
<polygon points="1528.6,1293.6 1547.1,1289 1536.4,1280.9 1518,1285.5"/>
<polygon points="1356.7,1069.4 1375.2,1092.8 1364.5,1112.8 1346,1089.4"/>
<polygon points="1184.8,1293.7 1203.2,1289.1 1192.6,1281 1174.1,1285.6"/>
<polygon points="1481,1294.2 1499.5,1290.2 1488.8,1282.1 1470.4,1283.4"/>
<polygon points="1309.1,1126.7 1327.6,1066 1316.9,1170 1298.4,1219.5"/>
<polygon points="1137.2,1294.9 1155.6,1290.2 1145,1282.2 1126.5,1286.8"/>
<polygon points="1433.4,1183.8 1451.9,1224.1 1441.2,1216 1422.8,1175.8"/>
<polygon points="1261.5,1286.5 1280,1269.5 1269.3,1271 1250.8,1284.6"/>
<polygon points="1557.7,1297.1 1576.2,1292.5 1565.6,1284.4 1547.1,1289"/>
<polygon points="1385.8,1072.9 1404.3,1124.3 1393.6,1032.2 1375.2,1092.8"/>
<polygon points="1213.9,1297.2 1232.4,1292.5 1221.7,1284.5 1203.2,1289.1"/>
<polygon points="1510.1,1298.3 1528.6,1293.6 1518,1285.5 1499.5,1290.2"/>
<polygon points="1338.2,973.1 1356.7,1069.4 1346,1089.4 1327.6,1066"/>
<path fill="none" stroke-width="1.3" stroke-dasharray="6,10" d="M1346.4 1015.9L1340.9 1013.6M1340.9 1013.6L1333.5 1014.4"/>
<polygon points="1166.3,1298.3 1184.8,1293.7 1174.1,1285.6 1155.6,1290.2"/>
<polygon points="1462.5,1289.3 1481,1294.2 1470.4,1283.4 1451.9,1224.1"/>
<path fill="none" stroke-width="1.3" stroke-dasharray="6,10" d="M1455.1 1234.5L1454 1236.9"/>
<polygon points="1290.6,1269.2 1309.1,1126.7 1298.4,1219.5 1280,1269.5"/>
<path fill="none" stroke-width="1.3" stroke-dasharray="6,10" d="M1294.1 1242.5L1296.1 1234.5M1296.1 1234.5L1293.9 1231.8M1301.6 1184.6L1303.2 1178.2"/>
<polygon points="1586.9,1300.6 1605.3,1295.9 1594.7,1287.8 1576.2,1292.5"/>
<polygon points="1414.9,1104.4 1433.4,1183.8 1422.8,1175.8 1404.3,1124.3"/>
<path fill="none" stroke-width="1.3" stroke-dasharray="6,10" d="M1421.1 1130.9L1417.5 1128.2"/>
<polygon points="1243,1300.1 1261.5,1286.5 1250.8,1284.6 1232.4,1292.5"/>
<polygon points="1539.3,1301.7 1557.7,1297.1 1547.1,1289 1528.6,1293.6"/>
<polygon points="1367.3,1049.5 1385.8,1072.9 1375.2,1092.8 1356.7,1069.4"/>
<polygon points="1195.4,1301.8 1213.9,1297.2 1203.2,1289.1 1184.8,1293.7"/>
<polygon points="1491.7,1302.9 1510.1,1298.3 1499.5,1290.2 1481,1294.2"/>
<polygon points="1319.7,1039.4 1338.2,973.1 1327.6,1066 1309.1,1126.7"/>
<path fill="none" stroke-width="1.3" stroke-dasharray="6,10" d="M1324.8 1021.4L1333.5 1014.4"/>
<polygon points="1147.8,1303 1166.3,1298.3 1155.6,1290.2 1137.2,1294.9"/>
<polygon points="1444.1,1220 1462.5,1289.3 1451.9,1224.1 1433.4,1183.8"/>
<path fill="none" stroke-width="1.3" stroke-dasharray="6,10" d="M1451.1 1246.2L1454 1236.9"/>
<polygon points="1272.1,1288.9 1290.6,1269.2 1280,1269.5 1261.5,1286.5"/>
<polygon points="1568.4,1305.2 1586.9,1300.6 1576.2,1292.5 1557.7,1297.1"/>
<polygon points="1396.5,1103.4 1414.9,1104.4 1404.3,1124.3 1385.8,1072.9"/>
<polygon points="1224.5,1305.2 1243,1300.1 1232.4,1292.5 1213.9,1297.2"/>
<polygon points="1520.8,1306.3 1539.3,1301.7 1528.6,1293.6 1510.1,1298.3"/>
<polygon points="1348.9,1026.1 1367.3,1049.5 1356.7,1069.4 1338.2,973.1"/>
<polygon points="1176.9,1306.4 1195.4,1301.8 1184.8,1293.7 1166.3,1298.3"/>
<polygon points="1473.2,1257.1 1491.7,1302.9 1481,1294.2 1462.5,1289.3"/>
<polygon points="1301.3,1223.5 1319.7,1039.4 1309.1,1126.7 1290.6,1269.2"/>
<path fill="none" stroke-width="1.3" stroke-dasharray="6,10" d="M1294.1 1242.5L1295.7 1247.3M1304.1 1194.7L1303.9 1191.2M1303.9 1191.2L1301.6 1184.6M1315.7 1079.7L1315.4 1075.4"/>
<polygon points="1597.5,1308.6 1616,1304 1605.3,1295.9 1586.9,1300.6"/>
<polygon points="1425.6,1118.1 1444.1,1220 1433.4,1183.8 1414.9,1104.4"/>
<path fill="none" stroke-width="1.3" stroke-dasharray="6,10" d="M1429.5 1139.5L1427.8 1136.9M1427.8 1136.9L1421.1 1130.9"/>
<polygon points="1253.7,1305.9 1272.1,1288.9 1261.5,1286.5 1243,1300.1"/>
<polygon points="1549.9,1309.8 1568.4,1305.2 1557.7,1297.1 1539.3,1301.7"/>
<polygon points="1378,1040.8 1396.5,1103.4 1385.8,1072.9 1367.3,1049.5"/>
<polygon points="1206.1,1309.9 1224.5,1305.2 1213.9,1297.2 1195.4,1301.8"/>
<polygon points="1502.3,1311 1520.8,1306.3 1510.1,1298.3 1491.7,1302.9"/>
<polygon points="1330.4,1058.7 1348.9,1026.1 1338.2,973.1 1319.7,1039.4"/>
<path fill="none" stroke-width="1.3" stroke-dasharray="6,10" d="M1333.4 1025.8L1324.8 1021.4"/>
<polygon points="1158.5,1311 1176.9,1306.4 1166.3,1298.3 1147.8,1303"/>
<polygon points="1454.7,1228 1473.2,1257.1 1462.5,1289.3 1444.1,1220"/>
<path fill="none" stroke-width="1.3" stroke-dasharray="6,10" d="M1470.1 1252.2L1457.7 1251.3M1457.7 1251.3L1451.1 1246.2"/>
<polygon points="1282.8,1293.7 1301.3,1223.5 1290.6,1269.2 1272.1,1288.9"/>
<path fill="none" stroke-width="1.3" stroke-dasharray="6,10" d="M1293.4 1253.5L1295.7 1247.3"/>
<polygon points="1579,1313.3 1597.5,1308.6 1586.9,1300.6 1568.4,1305.2"/>
<polygon points="1407.1,1145.1 1425.6,1118.1 1414.9,1104.4 1396.5,1103.4"/>
<polygon points="1235.2,1313.3 1253.7,1305.9 1243,1300.1 1224.5,1305.2"/>
<polygon points="1531.4,1314.4 1549.9,1309.8 1539.3,1301.7 1520.8,1306.3"/>
<polygon points="1359.5,992.1 1378,1040.8 1367.3,1049.5 1348.9,1026.1"/>
<path fill="none" stroke-width="1.3" stroke-dasharray="6,10" d="M1374.1 1030.5L1364.2 1026.5"/>
<polygon points="1187.6,1314.5 1206.1,1309.9 1195.4,1301.8 1176.9,1306.4"/>
<polygon points="1483.8,1315.6 1502.3,1311 1491.7,1302.9 1473.2,1257.1"/>
<polygon points="1311.9,1231.5 1330.4,1058.7 1319.7,1039.4 1301.3,1223.5"/>
<path fill="none" stroke-width="1.3" stroke-dasharray="6,10" d="M1315 1202.7L1313.1 1201.5M1313.1 1201.5L1304.1 1194.7M1321.2 1145.1L1315.6 1141.5M1315.6 1141.5L1309.9 1137.2M1327.3 1087.5L1318 1081.5M1318 1081.5L1315.7 1079.7"/>
<polygon points="1608.2,1316.7 1626.6,1312.1 1616,1304 1597.5,1308.6"/>
<polygon points="1436.2,1232.7 1454.7,1228 1444.1,1220 1425.6,1118.1"/>
<path fill="none" stroke-width="1.3" stroke-dasharray="6,10" d="M1439.2 1193.1L1433.4 1202.5M1429.5 1139.5L1427.8 1142.2"/>
<polygon points="1264.3,1311.7 1282.8,1293.7 1272.1,1288.9 1253.7,1305.9"/>
<polygon points="1560.6,1317.9 1579,1313.3 1568.4,1305.2 1549.9,1309.8"/>
<polygon points="1388.6,1121.7 1407.1,1145.1 1396.5,1103.4 1378,1040.8"/>
<path fill="none" stroke-width="1.3" stroke-dasharray="6,10" d="M1390.3 1082.5L1384.5 1090.6"/>
<polygon points="1216.7,1318 1235.2,1313.3 1224.5,1305.2 1206.1,1309.9"/>
<polygon points="1513,1319.1 1531.4,1314.4 1520.8,1306.3 1502.3,1311"/>
<polygon points="1341,1150.9 1359.5,992.1 1348.9,1026.1 1330.4,1058.7"/>
<path fill="none" stroke-width="1.3" stroke-dasharray="6,10" d="M1347.8 1093.2L1345 1088.5M1345 1088.5L1333.9 1089.5"/>
<polygon points="1169.1,1319.1 1187.6,1314.5 1176.9,1306.4 1158.5,1311"/>
<polygon points="1465.4,1275.4 1483.8,1315.6 1473.2,1257.1 1454.7,1228"/>
<path fill="none" stroke-width="1.3" stroke-dasharray="6,10" d="M1470.1 1252.2L1462.3 1261.9"/>
<polygon points="1293.4,1301.8 1311.9,1231.5 1301.3,1223.5 1282.8,1293.7"/>
<path fill="none" stroke-width="1.3" stroke-dasharray="6,10" d="M1304 1261.5L1297.9 1256.9M1297.9 1256.9L1293.4 1253.5"/>
<polygon points="1589.7,1321.3 1608.2,1316.7 1597.5,1308.6 1579,1313.3"/>
<polygon points="1417.8,1164.4 1436.2,1232.7 1425.6,1118.1 1407.1,1145.1"/>
<path fill="none" stroke-width="1.3" stroke-dasharray="6,10" d="M1429.1 1206.4L1433.4 1202.5M1427.8 1142.2L1420.4 1149"/>
<polygon points="1245.8,1321.4 1264.3,1311.7 1253.7,1305.9 1235.2,1313.3"/>
<polygon points="1542.1,1322.5 1560.6,1317.9 1549.9,1309.8 1531.4,1314.4"/>
<polygon points="1370.2,1160 1388.6,1121.7 1378,1040.8 1359.5,992.1"/>
<path fill="none" stroke-width="1.3" stroke-dasharray="6,10" d="M1373.2 1153.6L1370.6 1153.7M1384.5 1090.6L1374.7 1091M1374.7 1091L1366.1 1095.2M1374.1 1030.5L1362.3 1036.3"/>
<polygon points="1198.2,1322.6 1216.7,1318 1206.1,1309.9 1187.6,1314.5"/>
<polygon points="1494.5,1323.7 1513,1319.1 1502.3,1311 1483.8,1315.6"/>
<polygon points="1322.6,1256.4 1341,1150.9 1330.4,1058.7 1311.9,1231.5"/>
<path fill="none" stroke-width="1.3" stroke-dasharray="6,10" d="M1330.8 1209.5L1324.5 1208.5M1324.5 1208.5L1315 1202.7M1326.8 1148.6L1321.2 1145.1M1333.9 1089.5L1329.2 1088.7M1329.2 1088.7L1327.3 1087.5"/>
<polygon points="1618.8,1324.8 1637.3,1320.2 1626.6,1312.1 1608.2,1316.7"/>
<polygon points="1446.9,1280 1465.4,1275.4 1454.7,1228 1436.2,1232.7"/>
<path fill="none" stroke-width="1.3" stroke-dasharray="6,10" d="M1462.3 1261.9L1449.1 1265.2M1449.1 1265.2L1443.8 1266.5"/>
<polygon points="1275,1319.8 1293.4,1301.8 1282.8,1293.7 1264.3,1311.7"/>
<polygon points="1571.2,1326 1589.7,1321.3 1579,1313.3 1560.6,1317.9"/>
<polygon points="1399.3,1185.9 1417.8,1164.4 1407.1,1145.1 1388.6,1121.7"/>
<polygon points="1227.4,1326 1245.8,1321.4 1235.2,1313.3 1216.7,1318"/>
<polygon points="1523.6,1327.1 1542.1,1322.5 1531.4,1314.4 1513,1319.1"/>
<polygon points="1351.7,1187 1370.2,1160 1359.5,992.1 1341,1150.9"/>
<path fill="none" stroke-width="1.3" stroke-dasharray="6,10" d="M1369.8 1154.1L1352.9 1157M1366.1 1095.2L1355.3 1097.1M1355.3 1097.1L1347.8 1093.2M1362.3 1036.3L1357.7 1037.1M1357.7 1037.1L1354.5 1035.4"/>
<polygon points="1179.8,1327.2 1198.2,1322.6 1187.6,1314.5 1169.1,1319.1"/>
<polygon points="1476,1328.3 1494.5,1323.7 1483.8,1315.6 1465.4,1275.4"/>
<polygon points="1304.1,1313.2 1322.6,1256.4 1311.9,1231.5 1293.4,1301.8"/>
<path fill="none" stroke-width="1.3" stroke-dasharray="6,10" d="M1318.6 1268.6L1308.7 1264.7M1308.7 1264.7L1304 1261.5"/>
<polygon points="1600.3,1329.4 1618.8,1324.8 1608.2,1316.7 1589.7,1321.3"/>
<polygon points="1428.4,1273.4 1446.9,1280 1436.2,1232.7 1417.8,1164.4"/>
<path fill="none" stroke-width="1.3" stroke-dasharray="6,10" d="M1429.1 1206.4L1422.5 1212.9"/>
<polygon points="1256.5,1329.5 1275,1319.8 1264.3,1311.7 1245.8,1321.4"/>
<polygon points="1552.7,1330.6 1571.2,1326 1560.6,1317.9 1542.1,1322.5"/>
<polygon points="1380.8,1207.3 1399.3,1185.9 1388.6,1121.7 1370.2,1160"/>
<path fill="none" stroke-width="1.3" stroke-dasharray="6,10" d="M1394 1153.8L1385.6 1154.6M1385.6 1154.6L1373.2 1153.6"/>
<polygon points="1208.9,1330.7 1227.4,1326 1216.7,1318 1198.2,1322.6"/>
<polygon points="1505.1,1331.8 1523.6,1327.1 1513,1319.1 1494.5,1323.7"/>
<polygon points="1333.2,1309.9 1351.7,1187 1341,1150.9 1322.6,1256.4"/>
<path fill="none" stroke-width="1.3" stroke-dasharray="6,10" d="M1338.6 1274.4L1335 1272.8M1335 1272.8L1325.2 1269.7M1347.3 1216.2L1338 1211.8M1338 1211.8L1330.8 1209.5"/>
<polygon points="1629.5,1332.9 1647.9,1328.3 1637.3,1320.2 1618.8,1324.8"/>
<polygon points="1457.5,1332.4 1476,1328.3 1465.4,1275.4 1446.9,1280"/>
<polygon points="1285.6,1330.2 1304.1,1313.2 1293.4,1301.8 1275,1319.8"/>
<polygon points="1581.9,1334.1 1600.3,1329.4 1589.7,1321.3 1571.2,1326"/>
<polygon points="1409.9,1233.2 1428.4,1273.4 1417.8,1164.4 1399.3,1185.9"/>
<path fill="none" stroke-width="1.3" stroke-dasharray="6,10" d="M1422.5 1212.9L1411.5 1219.4M1411.5 1219.4L1406.9 1219.7"/>
<polygon points="1238,1334.1 1256.5,1329.5 1245.8,1321.4 1227.4,1326"/>
<polygon points="1534.3,1335.2 1552.7,1330.6 1542.1,1322.5 1523.6,1327.1"/>
<polygon points="1362.3,1228.7 1380.8,1207.3 1370.2,1160 1351.7,1187"/>
<path fill="none" stroke-width="1.3" stroke-dasharray="6,10" d="M1368.5 1221.6L1363.1 1221.9M1363.1 1221.9L1360.6 1221.8"/>
<polygon points="1190.4,1335.3 1208.9,1330.7 1198.2,1322.6 1179.8,1327.2"/>
<polygon points="1486.7,1336.4 1505.1,1331.8 1494.5,1323.7 1476,1328.3"/>
<polygon points="1314.7,1326.9 1333.2,1309.9 1322.6,1256.4 1304.1,1313.2"/>
<path fill="none" stroke-width="1.3" stroke-dasharray="6,10" d="M1325.2 1269.7L1321 1270.1M1321 1270.1L1318.6 1268.6"/>
<polygon points="1611,1337.5 1629.5,1332.9 1618.8,1324.8 1600.3,1329.4"/>
<polygon points="1439.1,1334.8 1457.5,1332.4 1446.9,1280 1428.4,1273.4"/>
<polygon points="1267.1,1337.6 1285.6,1330.2 1275,1319.8 1256.5,1329.5"/>
<polygon points="1563.4,1338.7 1581.9,1334.1 1571.2,1326 1552.7,1330.6"/>
<polygon points="1391.5,1271.4 1409.9,1233.2 1399.3,1185.9 1380.8,1207.3"/>
<path fill="none" stroke-width="1.3" stroke-dasharray="6,10" d="M1406.9 1219.7L1396.3 1218.8M1396.3 1218.8L1382.9 1220.1"/>
<polygon points="1219.5,1338.8 1238,1334.1 1227.4,1326 1208.9,1330.7"/>
<polygon points="1515.8,1339.8 1534.3,1335.2 1523.6,1327.1 1505.1,1331.8"/>
<polygon points="1343.9,1327.6 1362.3,1228.7 1351.7,1187 1333.2,1309.9"/>
<path fill="none" stroke-width="1.3" stroke-dasharray="6,10" d="M1352.4 1281.7L1346.5 1279.5M1346.5 1279.5L1338.6 1274.4M1360.6 1221.8L1350 1217.8M1350 1217.8L1347.3 1216.2"/>
<polygon points="1468.2,1341 1486.7,1336.4 1476,1328.3 1457.5,1332.4"/>
<polygon points="1296.3,1340.5 1314.7,1326.9 1304.1,1313.2 1285.6,1330.2"/>
<polygon points="1592.5,1342.1 1611,1337.5 1600.3,1329.4 1581.9,1334.1"/>
<polygon points="1420.6,1338.3 1439.1,1334.8 1428.4,1273.4 1409.9,1233.2"/>
<polygon points="1248.7,1342.2 1267.1,1337.6 1256.5,1329.5 1238,1334.1"/>
<polygon points="1544.9,1343.3 1563.4,1338.7 1552.7,1330.6 1534.3,1335.2"/>
<polygon points="1373,1333.8 1391.5,1271.4 1380.8,1207.3 1362.3,1228.7"/>
<path fill="none" stroke-width="1.3" stroke-dasharray="6,10" d="M1387.9 1283.6L1376.2 1282.1M1376.2 1282.1L1367.9 1283.4M1382.9 1220.1L1380 1219.8M1380 1219.8L1368.5 1221.6"/>
<polygon points="1201.1,1343.4 1219.5,1338.8 1208.9,1330.7 1190.4,1335.3"/>
<polygon points="1497.3,1344.5 1515.8,1339.8 1505.1,1331.8 1486.7,1336.4"/>
<polygon points="1325.4,1341.1 1343.9,1327.6 1333.2,1309.9 1314.7,1326.9"/>
<polygon points="1449.7,1345.6 1468.2,1341 1457.5,1332.4 1439.1,1334.8"/>
<polygon points="1277.8,1345.7 1296.3,1340.5 1285.6,1330.2 1267.1,1337.6"/>
<polygon points="1574,1346.8 1592.5,1342.1 1581.9,1334.1 1563.4,1338.7"/>
<polygon points="1402.1,1344 1420.6,1338.3 1409.9,1233.2 1391.5,1271.4"/>
<path fill="none" stroke-width="1.3" stroke-dasharray="6,10" d="M1414.9 1281.8L1406.4 1283.8M1406.4 1283.8L1393.3 1284.1"/>
<polygon points="1230.2,1346.8 1248.7,1342.2 1238,1334.1 1219.5,1338.8"/>
<polygon points="1526.4,1347.9 1544.9,1343.3 1534.3,1335.2 1515.8,1339.8"/>
<polygon points="1354.5,1344.6 1373,1333.8 1362.3,1228.7 1343.9,1327.6"/>
<path fill="none" stroke-width="1.3" stroke-dasharray="6,10" d="M1367.9 1283.4L1358.5 1285.4M1358.5 1285.4L1352.4 1281.7"/>
<polygon points="1478.8,1349.1 1497.3,1344.5 1486.7,1336.4 1468.2,1341"/>
<polygon points="1306.9,1349.1 1325.4,1341.1 1314.7,1326.9 1296.3,1340.5"/>
<polygon points="1431.2,1350.3 1449.7,1345.6 1439.1,1334.8 1420.6,1338.3"/>
<polygon points="1259.3,1350.3 1277.8,1345.7 1267.1,1337.6 1248.7,1342.2"/>
<polygon points="1555.6,1351.4 1574,1346.8 1563.4,1338.7 1544.9,1343.3"/>
<polygon points="1383.6,1350.9 1402.1,1344 1391.5,1271.4 1373,1333.8"/>
<path fill="none" stroke-width="1.3" stroke-dasharray="6,10" d="M1393.3 1284.1L1390.1 1284.8M1390.1 1284.8L1387.9 1283.6"/>
<polygon points="1211.7,1351.5 1230.2,1346.8 1219.5,1338.8 1201.1,1343.4"/>
<polygon points="1508,1352.6 1526.4,1347.9 1515.8,1339.8 1497.3,1344.5"/>
<polygon points="1336,1352.6 1354.5,1344.6 1343.9,1327.6 1325.4,1341.1"/>
<polygon points="1460.4,1353.7 1478.8,1349.1 1468.2,1341 1449.7,1345.6"/>
<polygon points="1288.4,1353.8 1306.9,1349.1 1296.3,1340.5 1277.8,1345.7"/>
<polygon points="1412.8,1354.9 1431.2,1350.3 1420.6,1338.3 1402.1,1344"/>
<polygon points="1240.8,1354.9 1259.3,1350.3 1248.7,1342.2 1230.2,1346.8"/>
<polygon points="1537.1,1356 1555.6,1351.4 1544.9,1343.3 1526.4,1347.9"/>
<polygon points="1365.2,1356.1 1383.6,1350.9 1373,1333.8 1354.5,1344.6"/>
<polygon points="1489.5,1357.2 1508,1352.6 1497.3,1344.5 1478.8,1349.1"/>
<polygon points="1317.6,1357.2 1336,1352.6 1325.4,1341.1 1306.9,1349.1"/>
<polygon points="1441.9,1358.3 1460.4,1353.7 1449.7,1345.6 1431.2,1350.3"/>
<polygon points="1270,1358.4 1288.4,1353.8 1277.8,1345.7 1259.3,1350.3"/>
<polygon points="1394.3,1359.5 1412.8,1354.9 1402.1,1344 1383.6,1350.9"/>
<polygon points="1222.4,1359.5 1240.8,1354.9 1230.2,1346.8 1211.7,1351.5"/>
<polygon points="1518.6,1360.6 1537.1,1356 1526.4,1347.9 1508,1352.6"/>
<polygon points="1346.7,1360.7 1365.2,1356.1 1354.5,1344.6 1336,1352.6"/>
<polygon points="1471,1361.8 1489.5,1357.2 1478.8,1349.1 1460.4,1353.7"/>
<polygon points="1299.1,1361.8 1317.6,1357.2 1306.9,1349.1 1288.4,1353.8"/>
<polygon points="1423.4,1363 1441.9,1358.3 1431.2,1350.3 1412.8,1354.9"/>
<polygon points="1251.5,1363 1270,1358.4 1259.3,1350.3 1240.8,1354.9"/>
<polygon points="1375.8,1364.1 1394.3,1359.5 1383.6,1350.9 1365.2,1356.1"/>
<polygon points="1500.1,1365.3 1518.6,1360.6 1508,1352.6 1489.5,1357.2"/>
<polygon points="1328.2,1365.3 1346.7,1360.7 1336,1352.6 1317.6,1357.2"/>
<polygon points="1452.5,1366.4 1471,1361.8 1460.4,1353.7 1441.9,1358.3"/>
<polygon points="1280.6,1366.5 1299.1,1361.8 1288.4,1353.8 1270,1358.4"/>
<polygon points="1404.9,1367.6 1423.4,1363 1412.8,1354.9 1394.3,1359.5"/>
<polygon points="1233,1367.6 1251.5,1363 1240.8,1354.9 1222.4,1359.5"/>
<polygon points="1357.3,1368.8 1375.8,1364.1 1365.2,1356.1 1346.7,1360.7"/>
<polygon points="1481.7,1369.9 1500.1,1365.3 1489.5,1357.2 1471,1361.8"/>
<polygon points="1309.7,1369.9 1328.2,1365.3 1317.6,1357.2 1299.1,1361.8"/>
<polygon points="1434.1,1371.1 1452.5,1366.4 1441.9,1358.3 1423.4,1363"/>
<polygon points="1262.1,1371.1 1280.6,1366.5 1270,1358.4 1251.5,1363"/>
<polygon points="1386.5,1372.2 1404.9,1367.6 1394.3,1359.5 1375.8,1364.1"/>
<polygon points="1338.9,1373.4 1357.3,1368.8 1346.7,1360.7 1328.2,1365.3"/>
<polygon points="1463.2,1374.5 1481.7,1369.9 1471,1361.8 1452.5,1366.4"/>
<polygon points="1291.3,1374.6 1309.7,1369.9 1299.1,1361.8 1280.6,1366.5"/>
<polygon points="1415.6,1375.7 1434.1,1371.1 1423.4,1363 1404.9,1367.6"/>
<polygon points="1243.7,1375.7 1262.1,1371.1 1251.5,1363 1233,1367.6"/>
<polygon points="1368,1376.8 1386.5,1372.2 1375.8,1364.1 1357.3,1368.8"/>
<polygon points="1320.4,1378 1338.9,1373.4 1328.2,1365.3 1309.7,1369.9"/>
<polygon points="1444.7,1379.1 1463.2,1374.5 1452.5,1366.4 1434.1,1371.1"/>
<polygon points="1272.8,1379.2 1291.3,1374.6 1280.6,1366.5 1262.1,1371.1"/>
<polygon points="1397.1,1380.3 1415.6,1375.7 1404.9,1367.6 1386.5,1372.2"/>
<polygon points="1349.5,1381.5 1368,1376.8 1357.3,1368.8 1338.9,1373.4"/>
<polygon points="1301.9,1382.6 1320.4,1378 1309.7,1369.9 1291.3,1374.6"/>
<polygon points="1426.2,1383.8 1444.7,1379.1 1434.1,1371.1 1415.6,1375.7"/>
<polygon points="1254.3,1383.8 1272.8,1379.2 1262.1,1371.1 1243.7,1375.7"/>
<polygon points="1378.6,1384.9 1397.1,1380.3 1386.5,1372.2 1368,1376.8"/>
<polygon points="1331,1386.1 1349.5,1381.5 1338.9,1373.4 1320.4,1378"/>
<polygon points="1283.4,1387.3 1301.9,1382.6 1291.3,1374.6 1272.8,1379.2"/>
<polygon points="1407.8,1388.4 1426.2,1383.8 1415.6,1375.7 1397.1,1380.3"/>
<polygon points="1360.2,1389.6 1378.6,1384.9 1368,1376.8 1349.5,1381.5"/>
<polygon points="1312.6,1390.7 1331,1386.1 1320.4,1378 1301.9,1382.6"/>
<polygon points="1265,1391.9 1283.4,1387.3 1272.8,1379.2 1254.3,1383.8"/>
<polygon points="1389.3,1393 1407.8,1388.4 1397.1,1380.3 1378.6,1384.9"/>
<polygon points="1341.7,1394.2 1360.2,1389.6 1349.5,1381.5 1331,1386.1"/>
<polygon points="1294.1,1395.3 1312.6,1390.7 1301.9,1382.6 1283.4,1387.3"/>
<polygon points="1370.8,1397.6 1389.3,1393 1378.6,1384.9 1360.2,1389.6"/>
<polygon points="1323.2,1398.8 1341.7,1394.2 1331,1386.1 1312.6,1390.7"/>
<polygon points="1275.6,1400 1294.1,1395.3 1283.4,1387.3 1265,1391.9"/>
<polygon points="1352.3,1402.3 1370.8,1397.6 1360.2,1389.6 1341.7,1394.2"/>
<polygon points="1304.7,1403.4 1323.2,1398.8 1312.6,1390.7 1294.1,1395.3"/>
<polygon points="1333.9,1406.9 1352.3,1402.3 1341.7,1394.2 1323.2,1398.8"/>
<polygon points="1286.3,1408.1 1304.7,1403.4 1294.1,1395.3 1275.6,1400"/>
<polygon points="1315.4,1411.5 1333.9,1406.9 1323.2,1398.8 1304.7,1403.4"/>
<polygon points="1296.9,1416.1 1315.4,1411.5 1304.7,1403.4 1286.3,1408.1"/>
</g>
<g stroke="#111" fill="none">
<line x1="1080" y1="1260.8" x2="1293" y2="1422.5" stroke-width="1.6"/>
<line x1="1293" y1="1422.5" x2="1662.5" y2="1330" stroke-width="1.6"/>
<line x1="1080" y1="1289.8" x2="1080" y2="936.2" stroke-width="1.6"/>
<line x1="1293" y1="1452.5" x2="1293" y2="1097.9" stroke-width="1.6"/>
<line x1="1662.5" y1="1359" x2="1662.5" y2="1005.4" stroke-width="1.6"/>
<line x1="1449.5" y1="1168.3" x2="1449.5" y2="843.7" stroke-width="1.6"/>
<line x1="995" y1="1053.5" x2="1364" y2="960" stroke-width="1.6"/>
<line x1="1449.5" y1="843.7" x2="1662.5" y2="1005.4" stroke-width="1.6"/>
<line x1="1080" y1="936.2" x2="1293" y2="1097.9" stroke-width="1.6"/>
<line x1="1293" y1="1097.9" x2="1662.5" y2="1005.4" stroke-width="1.6"/>
<line x1="1051" y1="1260.8" x2="1080" y2="1260.8" stroke-width="1.6"/>
<line x1="1051" y1="1204.7" x2="1080" y2="1204.7" stroke-width="1.6"/>
<line x1="1051" y1="1148.7" x2="1080" y2="1148.7" stroke-width="1.6"/>
<line x1="1051" y1="1092.6" x2="1080" y2="1092.6" stroke-width="1.6"/>
<line x1="1051" y1="1036.6" x2="1080" y2="1036.6" stroke-width="1.6"/>
<line x1="1051" y1="980.5" x2="1080" y2="980.5" stroke-width="1.6"/>
<line x1="1330" y1="1413.2" x2="1330" y2="1442.2" stroke-width="1.5"/>
<line x1="1366.9" y1="1404" x2="1366.9" y2="1433" stroke-width="1.5"/>
<line x1="1403.8" y1="1394.8" x2="1403.8" y2="1423.8" stroke-width="1.5"/>
<line x1="1440.8" y1="1385.5" x2="1440.8" y2="1414.5" stroke-width="1.5"/>
<line x1="1477.8" y1="1376.2" x2="1477.8" y2="1405.2" stroke-width="1.5"/>
<line x1="1514.7" y1="1367" x2="1514.7" y2="1396" stroke-width="1.5"/>
<line x1="1551.7" y1="1357.8" x2="1551.7" y2="1386.8" stroke-width="1.5"/>
<line x1="1588.6" y1="1348.5" x2="1588.6" y2="1377.5" stroke-width="1.5"/>
<line x1="1625.5" y1="1339.2" x2="1625.5" y2="1368.2" stroke-width="1.5"/>
<line x1="1271.7" y1="1406.3" x2="1271.7" y2="1435.3" stroke-width="1.5"/>
<line x1="1250.4" y1="1390.2" x2="1250.4" y2="1419.2" stroke-width="1.5"/>
<line x1="1229.1" y1="1374" x2="1229.1" y2="1403" stroke-width="1.5"/>
<line x1="1207.8" y1="1357.8" x2="1207.8" y2="1386.8" stroke-width="1.5"/>
<line x1="1186.5" y1="1341.7" x2="1186.5" y2="1370.7" stroke-width="1.5"/>
<line x1="1165.2" y1="1325.5" x2="1165.2" y2="1354.5" stroke-width="1.5"/>
<line x1="1143.9" y1="1309.3" x2="1143.9" y2="1338.3" stroke-width="1.5"/>
<line x1="1122.6" y1="1293.1" x2="1122.6" y2="1322.1" stroke-width="1.5"/>
<line x1="1101.3" y1="1277" x2="1101.3" y2="1306" stroke-width="1.5"/>
</g>
<text x="985.2" y="985.2" font-size="60">50</text>
<text x="985.3" y="1045.9" font-size="60">40</text>
<text x="985.5" y="1104.3" font-size="60">30</text>
<text x="985.6" y="1162" font-size="60">20</text>
<text x="984.8" y="1225.8" font-size="60">10</text>
<text x="1013.5" y="1284.8" font-size="60">0</text>
<text x="1042.8" y="1332.3" font-size="52.5">10</text>
<text x="1095.3" y="1371.2" font-size="52.5">5</text>
<text x="1138.7" y="1407.3" font-size="52.5">0</text>
<text x="1169.6" y="1448.6" font-size="52.5">-5</text>
<text x="1201.3" y="1491.3" font-size="52.5">-10</text>
<text x="1293.8" y="1490.5" font-size="52.5">-10</text>
<text x="1383.6" y="1470.2" font-size="52.5">-5</text>
<text x="1469.5" y="1452" font-size="52.5">0</text>
<text x="1535.1" y="1432.8" font-size="52.5">5</text>
<text x="1595.6" y="1412" font-size="52.5">10</text>
<text x="1720" y="901.4" font-size="68">50</text>
<text x="1721.4" y="1006.2" font-size="68">40</text>
<text x="1720.4" y="1121.5" font-size="68">30</text>
<text x="1720.5" y="1232.9" font-size="68">20</text>
<text x="1715.3" y="1349.2" font-size="68">10</text>
<text x="1022" y="842.1" font-size="49" font-weight="bold">(d)</text>
<g transform="translate(1406.6,1509.5) scale(0.976,1.012)" fill="none" stroke="#111" stroke-linecap="round"><path d="M0.5,9.8 C3,7.6 6,5.2 9,5.4" stroke-width="2.2"/><path d="M8.2,5.5 C12,6 14,9.5 16.2,14.5 L23.3,30.5" stroke-width="5.4"/><path d="M23.3,30.5 C25,35.5 29,35.5 32.5,25" stroke-width="3.4"/><path d="M26.5,2.8 C21,4.5 17,12 14.8,20 C13,27 11,34 5,38" stroke-width="2.2"/><circle cx="27.3" cy="3.3" r="3.2" fill="#111" stroke="none"/><circle cx="5" cy="38.2" r="3.4" fill="#111" stroke="none"/></g>
<text transform="translate(1460.8,1512.8) rotate(-14) scale(0.8,1)" x="-10.8" y="14.9" font-size="62">(</text>
<text transform="translate(1485.2,1506.3) rotate(-14) scale(0.85,1)" x="-11.4" y="21.9" font-size="62">f</text>
<text transform="translate(1521.5,1504.3) rotate(-14) scale(0.74,1)" x="-24.2" y="14.6" font-size="62">m</text>
<text transform="translate(1545.2,1489.6) rotate(-14) scale(0.8,1)" x="-10" y="14.9" font-size="62">)</text>
<g transform="translate(1051.7,1419.3) scale(1.0,0.974)" fill="#111" stroke="#111" stroke-linecap="round"><path d="M36.5,1.5 L46.5,4.5 L26,31.5 L22.5,31 Z" stroke-width="1"/><path d="M4,29 C8,32.5 15,33 24,31.3 C34,29.5 47,27 56.5,21.5" fill="none" stroke-width="2.8"/><circle cx="4.2" cy="28.2" r="3.4" stroke="none"/><circle cx="57.3" cy="21.3" r="3.4" stroke="none"/></g>
<text transform="translate(1123.8,1464) rotate(42) scale(0.8,1)" x="-10.8" y="14.9" font-size="62">(</text>
<text transform="translate(1143.1,1485.3) rotate(42) scale(0.82,1)" x="-11.4" y="21.9" font-size="62">f</text>
<text transform="translate(1161.5,1511.2) rotate(42) scale(0.74,1)" x="-24.2" y="14.6" font-size="62">m</text>
<text transform="translate(1185.8,1525.8) rotate(42) scale(0.8,1)" x="-10" y="14.9" font-size="62">)</text>
</svg></body></html>
